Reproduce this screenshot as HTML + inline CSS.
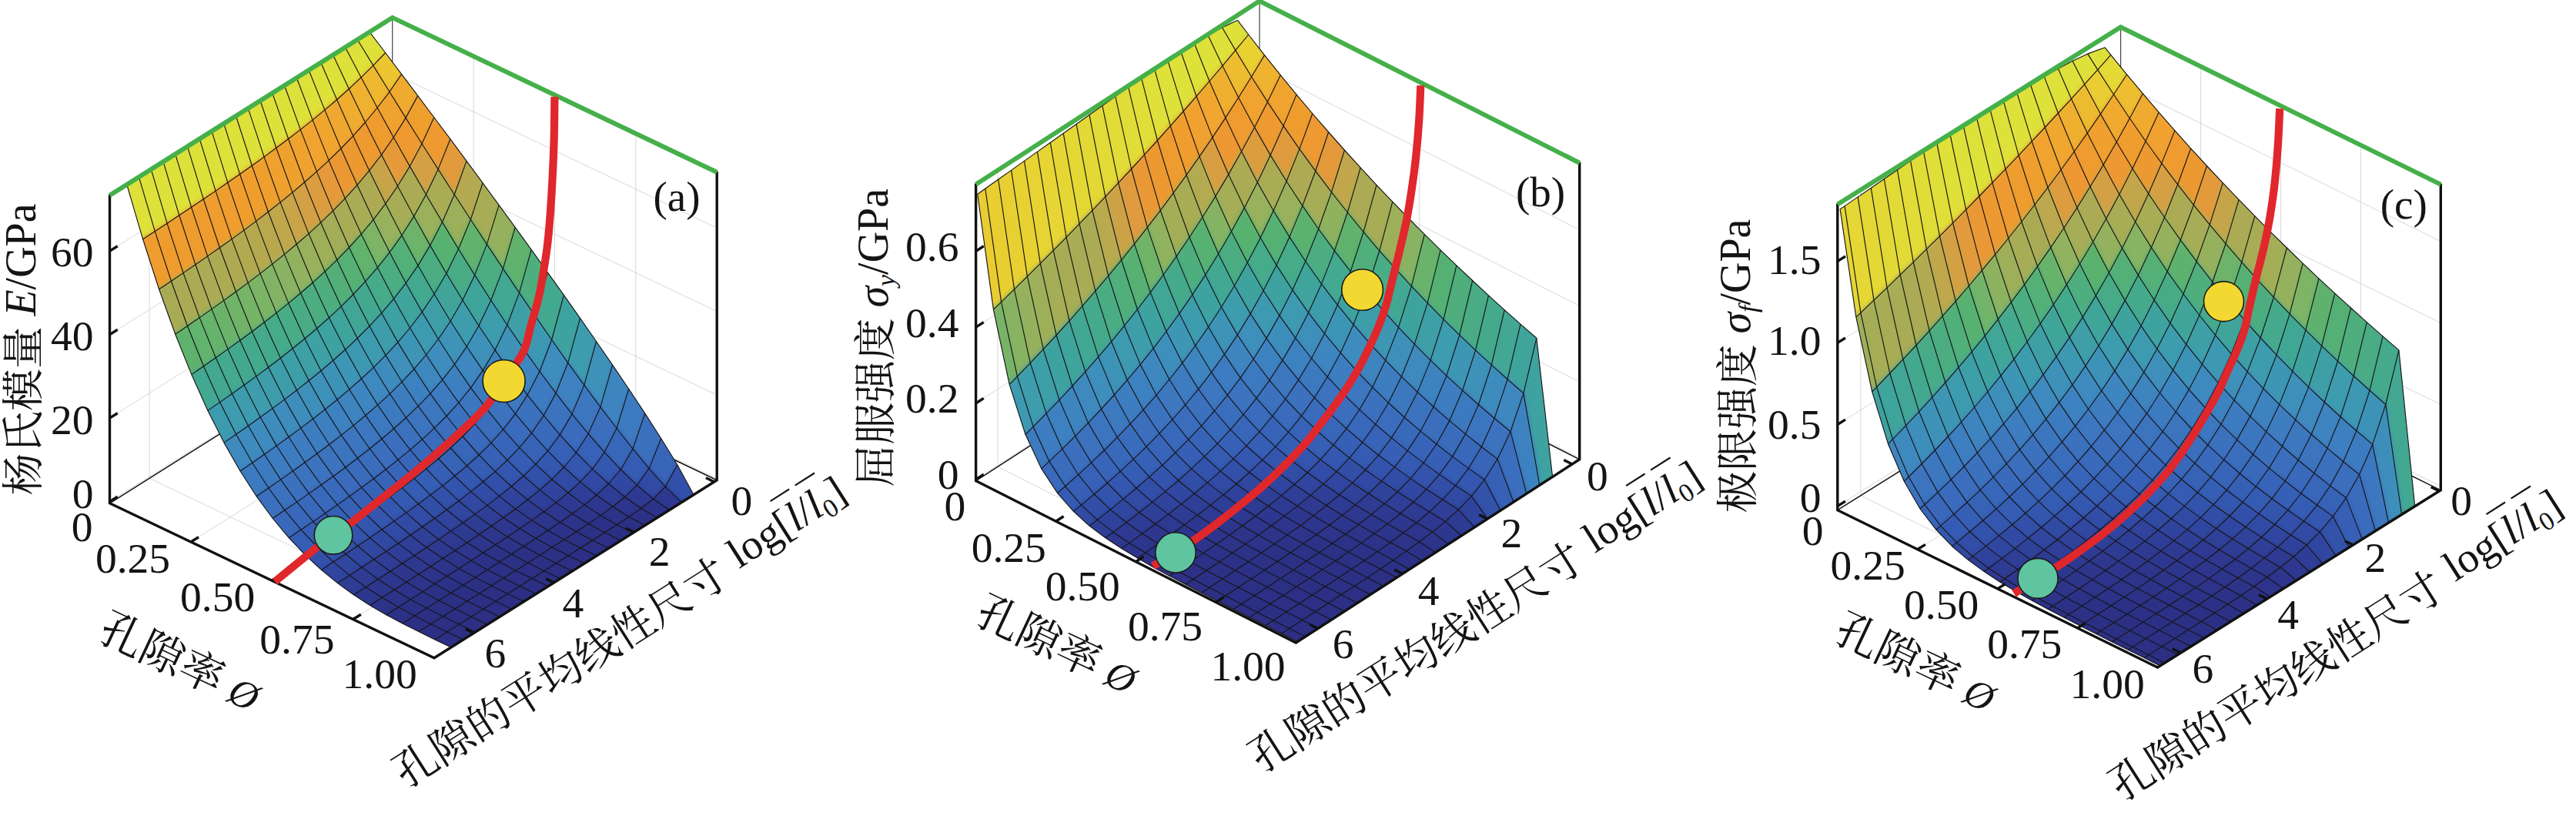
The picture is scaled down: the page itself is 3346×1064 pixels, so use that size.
<!DOCTYPE html>
<html lang="zh"><head><meta charset="utf-8"><title>figure</title>
<style>html,body{margin:0;padding:0;background:#fff;}body{width:3346px;height:1064px;overflow:hidden;}svg{display:block;}text{font-family:'Liberation Serif', 'Noto Serif CJK SC', serif;fill:#141414;}</style></head><body>
<svg width="3346" height="1064" viewBox="0 0 3346 1064">
<defs><filter id="soft" x="-5%" y="-5%" width="110%" height="110%" color-interpolation-filters="sRGB"><feGaussianBlur stdDeviation="2.6"/><feComponentTransfer><feFuncA type="linear" slope="4" intercept="0"/></feComponentTransfer></filter></defs>
<rect width="3346" height="1064" fill="#fff"/>
<g id="panel-a">
<g stroke="#d0d0d0" stroke-width="0.85" fill="none">
<polyline points="142.5,651.6 509.7,420.6 931.2,621.6"/>
<polyline points="142.5,543.1 509.7,312.1 931.2,513.1"/>
<polyline points="142.5,434.6 509.7,203.6 931.2,404.6"/>
<polyline points="142.5,326.1 509.7,95.1 931.2,296.1"/>
<polyline points="402.2,89.4 402.2,490.4 823.7,691.4"/>
<polyline points="298.1,154.9 298.1,555.9 719.6,756.9"/>
<polyline points="194,220.4 194,621.4 615.5,822.4"/>
<polyline points="615.1,72 615.1,473 247.9,704"/>
<polyline points="720.5,122.3 720.5,523.3 353.2,754.3"/>
<polyline points="825.8,172.5 825.8,573.5 458.6,804.5"/>
</g>
<line x1="509.7" y1="422.8" x2="509.7" y2="21.8" stroke="#444" stroke-width="1.2" />
<line x1="142.5" y1="653.8" x2="509.7" y2="422.8" stroke="#111" stroke-width="1.5" />
<line x1="509.7" y1="422.8" x2="931.2" y2="623.8" stroke="#111" stroke-width="1.5" />
<clipPath id="clip-a"><polygon points="164.5,239 180.2,229.1 196,219.1 211.8,209.2 227.5,199.3 243.2,189.4 259,179.5 274.8,169.6 290.5,159.7 306.2,149.8 322,139.9 337.8,130 353.5,120.1 369.2,110.2 385,100.2 400.8,90.3 416.5,80.4 432.2,70.5 448,60.6 463.8,50.7 479.5,40.8 500.6,68.5 521.6,96.4 542.7,124.4 563.8,152.5 584.9,180.7 606,209.1 627,237.7 648.1,266.4 669.2,295.3 690.2,324.4 711.3,353.8 732.4,383.4 753.5,413.3 774.5,443.5 795.6,474.2 816.7,505.3 837.8,537.1 858.8,569.8 879.9,604 901,642.8 885.2,652.7 869.5,662.6 853.8,672.5 838,682.4 822.2,692.3 806.5,702.2 790.8,712.2 775,722.1 759.2,732 743.5,741.9 727.8,751.8 712,761.7 696.2,771.6 680.5,781.5 664.8,791.4 649,801.3 633.2,811.2 617.5,821.1 601.8,831.1 586,841 564.9,830.9 543.8,820.6 522.8,810 501.7,798.7 480.6,786.4 459.5,772.8 438.5,757.6 417.4,740.4 396.3,720.9 375.2,698.7 354.2,673.5 333.1,644.7 312,612 291,575.1 269.9,533.4 248.8,486.6 227.7,434.2 206.6,375.8 185.6,310.8"/></clipPath>
<g clip-path="url(#clip-a)"><g filter="url(#soft)" stroke-width="3" stroke-linejoin="round">
<polygon points="479.5,40.8 500.6,68.5 484.8,85.1 463.8,50.7" fill="#dee13a" stroke="#dee13a"/>
<polygon points="463.8,50.7 484.8,85.1 469.1,100.7 448,60.6" fill="#dee13a" stroke="#dee13a"/>
<polygon points="500.6,68.5 521.6,96.4 505.9,119.3 484.8,85.1" fill="#ebc631" stroke="#ebc631"/>
<polygon points="448,60.6 469.1,100.7 453.3,115.5 432.2,70.5" fill="#dee13a" stroke="#dee13a"/>
<polygon points="484.8,85.1 505.9,119.3 490.1,140 469.1,100.7" fill="#eeb830" stroke="#eeb830"/>
<polygon points="521.6,96.4 542.7,124.4 527,153.1 505.9,119.3" fill="#efab2f" stroke="#efab2f"/>
<polygon points="432.2,70.5 453.3,115.5 437.6,129.5 416.5,80.4" fill="#dee13a" stroke="#dee13a"/>
<polygon points="469.1,100.7 490.1,140 474.4,159 453.3,115.5" fill="#efb130" stroke="#efb130"/>
<polygon points="505.9,119.3 527,153.1 511.2,178.5 490.1,140" fill="#f0a22f" stroke="#f0a22f"/>
<polygon points="542.7,124.4 563.8,152.5 548,186.7 527,153.1" fill="#ef9f2e" stroke="#ef9f2e"/>
<polygon points="416.5,80.4 437.6,129.5 421.8,142.9 400.8,90.3" fill="#dee13a" stroke="#dee13a"/>
<polygon points="453.3,115.5 474.4,159 458.6,176.6 437.6,129.5" fill="#efac2f" stroke="#efac2f"/>
<polygon points="490.1,140 511.2,178.5 495.5,201.1 474.4,159" fill="#ef9c2e" stroke="#ef9c2e"/>
<polygon points="527,153.1 548,186.7 532.3,216.1 511.2,178.5" fill="#ee9a30" stroke="#ee9a30"/>
<polygon points="563.8,152.5 584.9,180.7 569.1,219.9 548,186.7" fill="#ee9a30" stroke="#ee9a30"/>
<polygon points="400.8,90.3 421.8,142.9 406.1,155.9 385,100.2" fill="#dee13a" stroke="#dee13a"/>
<polygon points="437.6,129.5 458.6,176.6 442.9,193 421.8,142.9" fill="#f0a72f" stroke="#f0a72f"/>
<polygon points="474.4,159 495.5,201.1 479.7,221.7 458.6,176.6" fill="#ee9a30" stroke="#ee9a30"/>
<polygon points="511.2,178.5 532.3,216.1 516.5,241.8 495.5,201.1" fill="#e69939" stroke="#e69939"/>
<polygon points="548,186.7 569.1,219.9 553.4,252.8 532.3,216.1" fill="#d5a043" stroke="#d5a043"/>
<polygon points="584.9,180.7 606,209.1 590.2,252.7 569.1,219.9" fill="#e29a3c" stroke="#e29a3c"/>
<polygon points="385,100.2 406.1,155.9 390.3,168.4 369.2,110.2" fill="#dee13a" stroke="#dee13a"/>
<polygon points="421.8,142.9 442.9,193 427.1,208.4 406.1,155.9" fill="#f0a52f" stroke="#f0a52f"/>
<polygon points="458.6,176.6 479.7,221.7 464,240.4 442.9,193" fill="#ed9931" stroke="#ed9931"/>
<polygon points="495.5,201.1 516.5,241.8 500.8,264.7 479.7,221.7" fill="#c7a449" stroke="#c7a449"/>
<polygon points="532.3,216.1 553.4,252.8 537.6,281.1 516.5,241.8" fill="#aaab54" stroke="#aaab54"/>
<polygon points="569.1,219.9 590.2,252.7 574.5,288.6 553.4,252.8" fill="#a9ac55" stroke="#a9ac55"/>
<polygon points="606,209.1 627,237.7 611.3,285.3 590.2,252.7" fill="#b4a951" stroke="#b4a951"/>
<polygon points="369.2,110.2 390.3,168.4 374.6,180.5 353.5,120.1" fill="#dee13a" stroke="#dee13a"/>
<polygon points="406.1,155.9 427.1,208.4 411.4,222.9 390.3,168.4" fill="#f0a32f" stroke="#f0a32f"/>
<polygon points="442.9,193 464,240.4 448.2,257.8 427.1,208.4" fill="#eb9834" stroke="#eb9834"/>
<polygon points="479.7,221.7 500.8,264.7 485,285.4 464,240.4" fill="#aeaa53" stroke="#aeaa53"/>
<polygon points="516.5,241.8 537.6,281.1 521.9,305.8 500.8,264.7" fill="#a6ad56" stroke="#a6ad56"/>
<polygon points="553.4,252.8 574.5,288.6 558.7,318.9 537.6,281.1" fill="#9bb05b" stroke="#9bb05b"/>
<polygon points="590.2,252.7 611.3,285.3 595.5,323.5 574.5,288.6" fill="#9bb05b" stroke="#9bb05b"/>
<polygon points="627,237.7 648.1,266.4 632.4,317.4 611.3,285.3" fill="#a7ac55" stroke="#a7ac55"/>
<polygon points="353.5,120.1 374.6,180.5 358.8,192.3 337.8,130" fill="#dee13a" stroke="#dee13a"/>
<polygon points="390.3,168.4 411.4,222.9 395.6,236.8 374.6,180.5" fill="#f0a22f" stroke="#f0a22f"/>
<polygon points="427.1,208.4 448.2,257.8 432.5,273.9 411.4,222.9" fill="#e5993a" stroke="#e5993a"/>
<polygon points="464,240.4 485,285.4 469.3,304.2 448.2,257.8" fill="#a9ac55" stroke="#a9ac55"/>
<polygon points="500.8,264.7 521.9,305.8 506.1,327.8 485,285.4" fill="#98b15c" stroke="#98b15c"/>
<polygon points="537.6,281.1 558.7,318.9 543,344.9 521.9,305.8" fill="#6db36a" stroke="#6db36a"/>
<polygon points="574.5,288.6 595.5,323.5 579.8,355.2 558.7,318.9" fill="#57b270" stroke="#57b270"/>
<polygon points="611.3,285.3 632.4,317.4 616.6,357.4 595.5,323.5" fill="#60b26d" stroke="#60b26d"/>
<polygon points="648.1,266.4 669.2,295.3 653.4,349.1 632.4,317.4" fill="#96b15d" stroke="#96b15d"/>
<polygon points="337.8,130 358.8,192.3 343.1,203.9 322,139.9" fill="#dee13a" stroke="#dee13a"/>
<polygon points="374.6,180.5 395.6,236.8 379.9,250.1 358.8,192.3" fill="#efa12e" stroke="#efa12e"/>
<polygon points="411.4,222.9 432.5,273.9 416.7,289.2 395.6,236.8" fill="#dc9d40" stroke="#dc9d40"/>
<polygon points="448.2,257.8 469.3,304.2 453.5,321.5 432.5,273.9" fill="#a7ac55" stroke="#a7ac55"/>
<polygon points="485,285.4 506.1,327.8 490.4,347.6 469.3,304.2" fill="#7eb466" stroke="#7eb466"/>
<polygon points="521.9,305.8 543,344.9 527.2,367.8 506.1,327.8" fill="#53b076" stroke="#53b076"/>
<polygon points="558.7,318.9 579.8,355.2 564,382 543,344.9" fill="#4bad81" stroke="#4bad81"/>
<polygon points="595.5,323.5 616.6,357.4 600.9,390 579.8,355.2" fill="#49ac85" stroke="#49ac85"/>
<polygon points="632.4,317.4 653.4,349.1 637.7,390.3 616.6,357.4" fill="#4cad80" stroke="#4cad80"/>
<polygon points="669.2,295.3 690.2,324.4 674.5,380.4 653.4,349.1" fill="#60b26d" stroke="#60b26d"/>
<polygon points="322,139.9 343.1,203.9 327.3,215.2 306.2,149.8" fill="#dee13a" stroke="#dee13a"/>
<polygon points="358.8,192.3 379.9,250.1 364.1,262.9 343.1,203.9" fill="#efa02e" stroke="#efa02e"/>
<polygon points="395.6,236.8 416.7,289.2 401,303.6 379.9,250.1" fill="#d3a045" stroke="#d3a045"/>
<polygon points="432.5,273.9 453.5,321.5 437.8,337.7 416.7,289.2" fill="#a4ad57" stroke="#a4ad57"/>
<polygon points="469.3,304.2 490.4,347.6 474.6,365.7 453.5,321.5" fill="#61b36d" stroke="#61b36d"/>
<polygon points="506.1,327.8 527.2,367.8 511.5,388.2 490.4,347.6" fill="#4cad81" stroke="#4cad81"/>
<polygon points="543,344.9 564,382 548.3,405.4 527.2,367.8" fill="#43a98f" stroke="#43a98f"/>
<polygon points="579.8,355.2 600.9,390 585.1,417.2 564,382" fill="#40a598" stroke="#40a598"/>
<polygon points="616.6,357.4 637.7,390.3 621.9,423.2 600.9,390" fill="#3fa49a" stroke="#3fa49a"/>
<polygon points="653.4,349.1 674.5,380.4 658.8,422.2 637.7,390.3" fill="#42a793" stroke="#42a793"/>
<polygon points="690.2,324.4 711.3,353.8 695.6,411.2 674.5,380.4" fill="#4eae7d" stroke="#4eae7d"/>
<polygon points="306.2,149.8 327.3,215.2 311.6,226.3 290.5,159.7" fill="#dee13a" stroke="#dee13a"/>
<polygon points="343.1,203.9 364.1,262.9 348.4,275.3 327.3,215.2" fill="#ef9f2e" stroke="#ef9f2e"/>
<polygon points="379.9,250.1 401,303.6 385.2,317.3 364.1,262.9" fill="#c9a449" stroke="#c9a449"/>
<polygon points="416.7,289.2 437.8,337.7 422,352.8 401,303.6" fill="#9eaf59" stroke="#9eaf59"/>
<polygon points="453.5,321.5 474.6,365.7 458.9,382.5 437.8,337.7" fill="#55b173" stroke="#55b173"/>
<polygon points="490.4,347.6 511.5,388.2 495.7,406.7 474.6,365.7" fill="#46ab89" stroke="#46ab89"/>
<polygon points="527.2,367.8 548.3,405.4 532.5,426 511.5,388.2" fill="#3fa49b" stroke="#3fa49b"/>
<polygon points="564,382 585.1,417.2 569.4,440.5 548.3,405.4" fill="#3e9fa6" stroke="#3e9fa6"/>
<polygon points="600.9,390 621.9,423.2 606.2,450.3 585.1,417.2" fill="#3d9dac" stroke="#3d9dac"/>
<polygon points="637.7,390.3 658.8,422.2 643,454.8 621.9,423.2" fill="#3d9dac" stroke="#3d9dac"/>
<polygon points="674.5,380.4 695.6,411.2 679.8,452.9 658.8,422.2" fill="#3ea0a4" stroke="#3ea0a4"/>
<polygon points="711.3,353.8 732.4,383.4 716.6,441.5 695.6,411.2" fill="#43a98e" stroke="#43a98e"/>
<polygon points="290.5,159.7 311.6,226.3 295.8,237.3 274.8,169.6" fill="#dee13a" stroke="#dee13a"/>
<polygon points="327.3,215.2 348.4,275.3 332.6,287.4 311.6,226.3" fill="#ef9e2e" stroke="#ef9e2e"/>
<polygon points="364.1,262.9 385.2,317.3 369.5,330.4 348.4,275.3" fill="#c0a74c" stroke="#c0a74c"/>
<polygon points="401,303.6 422,352.8 406.3,367.2 385.2,317.3" fill="#99b15c" stroke="#99b15c"/>
<polygon points="437.8,337.7 458.9,382.5 443.1,398.1 422,352.8" fill="#52af78" stroke="#52af78"/>
<polygon points="474.6,365.7 495.7,406.7 480,423.7 458.9,382.5" fill="#43a890" stroke="#43a890"/>
<polygon points="511.5,388.2 532.5,426 516.8,444.6 495.7,406.7" fill="#3ea1a3" stroke="#3ea1a3"/>
<polygon points="548.3,405.4 569.4,440.5 553.6,461 532.5,426" fill="#3d9bb0" stroke="#3d9bb0"/>
<polygon points="585.1,417.2 606.2,450.3 590.4,473.3 569.4,440.5" fill="#3d94b6" stroke="#3d94b6"/>
<polygon points="621.9,423.2 643,454.8 627.2,481.4 606.2,450.3" fill="#3e91b9" stroke="#3e91b9"/>
<polygon points="658.8,422.2 679.8,452.9 664.1,484.9 643,454.8" fill="#3e92b8" stroke="#3e92b8"/>
<polygon points="695.6,411.2 716.6,441.5 700.9,482.5 679.8,452.9" fill="#3d98b3" stroke="#3d98b3"/>
<polygon points="732.4,383.4 753.5,413.3 737.7,471.3 716.6,441.5" fill="#3ea39f" stroke="#3ea39f"/>
<polygon points="274.8,169.6 295.8,237.3 280.1,248.1 259,179.5" fill="#dee13a" stroke="#dee13a"/>
<polygon points="311.6,226.3 332.6,287.4 316.9,299.1 295.8,237.3" fill="#ef9e2e" stroke="#ef9e2e"/>
<polygon points="348.4,275.3 369.5,330.4 353.7,343.1 332.6,287.4" fill="#baa84f" stroke="#baa84f"/>
<polygon points="385.2,317.3 406.3,367.2 390.5,380.8 369.5,330.4" fill="#91b25f" stroke="#91b25f"/>
<polygon points="422,352.8 443.1,398.1 427.4,412.8 406.3,367.2" fill="#4eae7d" stroke="#4eae7d"/>
<polygon points="458.9,382.5 480,423.7 464.2,439.5 443.1,398.1" fill="#41a696" stroke="#41a696"/>
<polygon points="495.7,406.7 516.8,444.6 501,461.6 480,423.7" fill="#3d9eaa" stroke="#3d9eaa"/>
<polygon points="532.5,426 553.6,461 537.9,479.4 516.8,444.6" fill="#3d95b5" stroke="#3d95b5"/>
<polygon points="569.4,440.5 590.4,473.3 574.7,493.4 553.6,461" fill="#3e8dbc" stroke="#3e8dbc"/>
<polygon points="606.2,450.3 627.2,481.4 611.5,503.8 590.4,473.3" fill="#3e87bf" stroke="#3e87bf"/>
<polygon points="643,454.8 664.1,484.9 648.3,510.5 627.2,481.4" fill="#3e85bf" stroke="#3e85bf"/>
<polygon points="679.8,452.9 700.9,482.5 685.1,513.2 664.1,484.9" fill="#3e86bf" stroke="#3e86bf"/>
<polygon points="716.6,441.5 737.7,471.3 722,510.9 700.9,482.5" fill="#3e8dbd" stroke="#3e8dbd"/>
<polygon points="753.5,413.3 774.5,443.5 758.8,500.4 737.7,471.3" fill="#3d9cae" stroke="#3d9cae"/>
<polygon points="259,179.5 280.1,248.1 264.3,258.7 243.2,189.4" fill="#dee13a" stroke="#dee13a"/>
<polygon points="295.8,237.3 316.9,299.1 301.1,310.6 280.1,248.1" fill="#ef9d2e" stroke="#ef9d2e"/>
<polygon points="332.6,287.4 353.7,343.1 338,355.4 316.9,299.1" fill="#b5a950" stroke="#b5a950"/>
<polygon points="369.5,330.4 390.5,380.8 374.8,393.9 353.7,343.1" fill="#89b362" stroke="#89b362"/>
<polygon points="406.3,367.2 427.4,412.8 411.6,426.7 390.5,380.8" fill="#4cad81" stroke="#4cad81"/>
<polygon points="443.1,398.1 464.2,439.5 448.5,454.3 427.4,412.8" fill="#3fa49c" stroke="#3fa49c"/>
<polygon points="480,423.7 501,461.6 485.3,477.3 464.2,439.5" fill="#3d9baf" stroke="#3d9baf"/>
<polygon points="516.8,444.6 537.9,479.4 522.1,496.2 501,461.6" fill="#3e90ba" stroke="#3e90ba"/>
<polygon points="553.6,461 574.7,493.4 558.9,511.3 537.9,479.4" fill="#3e87bf" stroke="#3e87bf"/>
<polygon points="590.4,473.3 611.5,503.8 595.8,523.2 574.7,493.4" fill="#3d80c0" stroke="#3d80c0"/>
<polygon points="627.2,481.4 648.3,510.5 632.6,531.9 611.5,503.8" fill="#3d7bc0" stroke="#3d7bc0"/>
<polygon points="664.1,484.9 685.1,513.2 669.4,537.6 648.3,510.5" fill="#3d7abf" stroke="#3d7abf"/>
<polygon points="700.9,482.5 722,510.9 706.2,539.9 685.1,513.2" fill="#3d7bc0" stroke="#3d7bc0"/>
<polygon points="737.7,471.3 758.8,500.4 743,537.9 722,510.9" fill="#3d81c0" stroke="#3d81c0"/>
<polygon points="774.5,443.5 795.6,474.2 779.9,528.8 758.8,500.4" fill="#3e91b9" stroke="#3e91b9"/>
<polygon points="243.2,189.4 264.3,258.7 248.6,269.3 227.5,199.3" fill="#dee13a" stroke="#dee13a"/>
<polygon points="280.1,248.1 301.1,310.6 285.4,321.8 264.3,258.7" fill="#ef9d2e" stroke="#ef9d2e"/>
<polygon points="316.9,299.1 338,355.4 322.2,367.4 301.1,310.6" fill="#b2aa51" stroke="#b2aa51"/>
<polygon points="353.7,343.1 374.8,393.9 359,406.6 338,355.4" fill="#82b364" stroke="#82b364"/>
<polygon points="390.5,380.8 411.6,426.7 395.9,440 374.8,393.9" fill="#4aac84" stroke="#4aac84"/>
<polygon points="427.4,412.8 448.5,454.3 432.7,468.3 411.6,426.7" fill="#3ea2a0" stroke="#3ea2a0"/>
<polygon points="464.2,439.5 485.3,477.3 469.5,492 448.5,454.3" fill="#3d98b2" stroke="#3d98b2"/>
<polygon points="501,461.6 522.1,496.2 506.4,511.6 485.3,477.3" fill="#3e8cbd" stroke="#3e8cbd"/>
<polygon points="537.9,479.4 558.9,511.3 543.2,527.7 522.1,496.2" fill="#3d82c0" stroke="#3d82c0"/>
<polygon points="574.7,493.4 595.8,523.2 580,540.5 558.9,511.3" fill="#3d7ac0" stroke="#3d7ac0"/>
<polygon points="611.5,503.8 632.6,531.9 616.8,550.5 595.8,523.2" fill="#3c76bf" stroke="#3c76bf"/>
<polygon points="648.3,510.5 669.4,537.6 653.6,557.9 632.6,531.9" fill="#3c73be" stroke="#3c73be"/>
<polygon points="685.1,513.2 706.2,539.9 690.5,562.7 669.4,537.6" fill="#3c71be" stroke="#3c71be"/>
<polygon points="722,510.9 743,537.9 727.3,564.9 706.2,539.9" fill="#3c73be" stroke="#3c73be"/>
<polygon points="758.8,500.4 779.9,528.8 764.1,563.5 743,537.9" fill="#3c77bf" stroke="#3c77bf"/>
<polygon points="795.6,474.2 816.7,505.3 801,556.5 779.9,528.8" fill="#3e85bf" stroke="#3e85bf"/>
<polygon points="227.5,199.3 248.6,269.3 232.8,279.8 211.8,209.2" fill="#dee13a" stroke="#dee13a"/>
<polygon points="264.3,258.7 285.4,321.8 269.6,332.9 248.6,269.3" fill="#ef9c2e" stroke="#ef9c2e"/>
<polygon points="301.1,310.6 322.2,367.4 306.5,379 285.4,321.8" fill="#aeaa53" stroke="#aeaa53"/>
<polygon points="338,355.4 359,406.6 343.3,418.8 322.2,367.4" fill="#7cb466" stroke="#7cb466"/>
<polygon points="374.8,393.9 395.9,440 380.1,452.8 359,406.6" fill="#48ac86" stroke="#48ac86"/>
<polygon points="411.6,426.7 432.7,468.3 417,481.7 395.9,440" fill="#3ea1a3" stroke="#3ea1a3"/>
<polygon points="448.5,454.3 469.5,492 453.8,505.9 432.7,468.3" fill="#3d96b5" stroke="#3d96b5"/>
<polygon points="485.3,477.3 506.4,511.6 490.6,526.1 469.5,492" fill="#3e89bf" stroke="#3e89bf"/>
<polygon points="522.1,496.2 543.2,527.7 527.4,542.7 506.4,511.6" fill="#3d7ec0" stroke="#3d7ec0"/>
<polygon points="558.9,511.3 580,540.5 564.2,556.2 543.2,527.7" fill="#3c77bf" stroke="#3c77bf"/>
<polygon points="595.8,523.2 616.8,550.5 601.1,567 580,540.5" fill="#3c71be" stroke="#3c71be"/>
<polygon points="632.6,531.9 653.6,557.9 637.9,575.4 616.8,550.5" fill="#3a6dbc" stroke="#3a6dbc"/>
<polygon points="669.4,537.6 690.5,562.7 674.7,581.6 653.6,557.9" fill="#3a6bbc" stroke="#3a6bbc"/>
<polygon points="706.2,539.9 727.3,564.9 711.5,585.9 690.5,562.7" fill="#396abb" stroke="#396abb"/>
<polygon points="743,537.9 764.1,563.5 748.4,588 727.3,564.9" fill="#3a6bbc" stroke="#3a6bbc"/>
<polygon points="779.9,528.8 801,556.5 785.2,587.6 764.1,563.5" fill="#3b6fbd" stroke="#3b6fbd"/>
<polygon points="816.7,505.3 837.8,537.1 822,583.1 801,556.5" fill="#3d7abf" stroke="#3d7abf"/>
<polygon points="211.8,209.2 232.8,279.8 217.1,290.2 196,219.1" fill="#dee13a" stroke="#dee13a"/>
<polygon points="248.6,269.3 269.6,332.9 253.9,343.8 232.8,279.8" fill="#ef9c2e" stroke="#ef9c2e"/>
<polygon points="285.4,321.8 306.5,379 290.7,390.4 269.6,332.9" fill="#acab53" stroke="#acab53"/>
<polygon points="322.2,367.4 343.3,418.8 327.5,430.7 306.5,379" fill="#76b468" stroke="#76b468"/>
<polygon points="359,406.6 380.1,452.8 364.4,465.2 343.3,418.8" fill="#46ab89" stroke="#46ab89"/>
<polygon points="395.9,440 417,481.7 401.2,494.5 380.1,452.8" fill="#3ea0a5" stroke="#3ea0a5"/>
<polygon points="432.7,468.3 453.8,505.9 438,519.2 417,481.7" fill="#3d93b7" stroke="#3d93b7"/>
<polygon points="469.5,492 490.6,526.1 474.9,539.8 453.8,505.9" fill="#3e86bf" stroke="#3e86bf"/>
<polygon points="506.4,511.6 527.4,542.7 511.7,556.8 490.6,526.1" fill="#3d7bc0" stroke="#3d7bc0"/>
<polygon points="543.2,527.7 564.2,556.2 548.5,570.8 527.4,542.7" fill="#3c74be" stroke="#3c74be"/>
<polygon points="580,540.5 601.1,567 585.3,582 564.2,556.2" fill="#3b6ebd" stroke="#3b6ebd"/>
<polygon points="616.8,550.5 637.9,575.4 622.1,591 601.1,567" fill="#396abb" stroke="#396abb"/>
<polygon points="653.6,557.9 674.7,581.6 659,597.9 637.9,575.4" fill="#3865b9" stroke="#3865b9"/>
<polygon points="690.5,562.7 711.5,585.9 695.8,603.2 674.7,581.6" fill="#3763b7" stroke="#3763b7"/>
<polygon points="727.3,564.9 748.4,588 732.6,607 711.5,585.9" fill="#3661b7" stroke="#3661b7"/>
<polygon points="764.1,563.5 785.2,587.6 769.5,609.3 748.4,588" fill="#3762b7" stroke="#3762b7"/>
<polygon points="801,556.5 822,583.1 806.3,610 785.2,587.6" fill="#3867ba" stroke="#3867ba"/>
<polygon points="837.8,537.1 858.8,569.8 843.1,608.6 822,583.1" fill="#3b70bd" stroke="#3b70bd"/>
<polygon points="196,219.1 217.1,290.2 201.3,300.6 180.2,229.1" fill="#dee13a" stroke="#dee13a"/>
<polygon points="232.8,279.8 253.9,343.8 238.1,354.6 217.1,290.2" fill="#ef9c2e" stroke="#ef9c2e"/>
<polygon points="269.6,332.9 290.7,390.4 275,401.6 253.9,343.8" fill="#aaab54" stroke="#aaab54"/>
<polygon points="306.5,379 327.5,430.7 311.8,442.3 290.7,390.4" fill="#70b369" stroke="#70b369"/>
<polygon points="343.3,418.8 364.4,465.2 348.6,477.2 327.5,430.7" fill="#45aa8b" stroke="#45aa8b"/>
<polygon points="380.1,452.8 401.2,494.5 385.5,506.9 364.4,465.2" fill="#3d9fa7" stroke="#3d9fa7"/>
<polygon points="417,481.7 438,519.2 422.3,531.9 401.2,494.5" fill="#3e91b8" stroke="#3e91b8"/>
<polygon points="453.8,505.9 474.9,539.8 459.1,552.9 438,519.2" fill="#3e84bf" stroke="#3e84bf"/>
<polygon points="490.6,526.1 511.7,556.8 495.9,570.2 474.9,539.8" fill="#3d79bf" stroke="#3d79bf"/>
<polygon points="527.4,542.7 548.5,570.8 532.8,584.4 511.7,556.8" fill="#3c71be" stroke="#3c71be"/>
<polygon points="564.2,556.2 585.3,582 569.6,596 548.5,570.8" fill="#3a6bbc" stroke="#3a6bbc"/>
<polygon points="601.1,567 622.1,591 606.4,605.2 585.3,582" fill="#3866b9" stroke="#3866b9"/>
<polygon points="637.9,575.4 659,597.9 643.2,612.6 622.1,591" fill="#3661b6" stroke="#3661b6"/>
<polygon points="674.7,581.6 695.8,603.2 680,618.3 659,597.9" fill="#355db4" stroke="#355db4"/>
<polygon points="711.5,585.9 732.6,607 716.9,622.7 695.8,603.2" fill="#3458b0" stroke="#3458b0"/>
<polygon points="748.4,588 769.5,609.3 753.7,626.1 732.6,607" fill="#3456ae" stroke="#3456ae"/>
<polygon points="785.2,587.6 806.3,610 790.5,628.5 769.5,609.3" fill="#3457af" stroke="#3457af"/>
<polygon points="822,583.1 843.1,608.6 827.3,630.4 806.3,610" fill="#355cb3" stroke="#355cb3"/>
<polygon points="858.8,569.8 879.9,604 864.2,632.4 843.1,608.6" fill="#3865b8" stroke="#3865b8"/>
<polygon points="180.2,229.1 201.3,300.6 185.6,310.8 164.5,239" fill="#dee13a" stroke="#dee13a"/>
<polygon points="217.1,290.2 238.1,354.6 222.4,365.2 201.3,300.6" fill="#ef9c2e" stroke="#ef9c2e"/>
<polygon points="253.9,343.8 275,401.6 259.2,412.6 238.1,354.6" fill="#aaab54" stroke="#aaab54"/>
<polygon points="290.7,390.4 311.8,442.3 296,453.6 275,401.6" fill="#6bb36b" stroke="#6bb36b"/>
<polygon points="327.5,430.7 348.6,477.2 332.9,488.9 311.8,442.3" fill="#44aa8c" stroke="#44aa8c"/>
<polygon points="364.4,465.2 385.5,506.9 369.7,518.9 348.6,477.2" fill="#3d9ea9" stroke="#3d9ea9"/>
<polygon points="401.2,494.5 422.3,531.9 406.5,544.2 385.5,506.9" fill="#3e90ba" stroke="#3e90ba"/>
<polygon points="438,519.2 459.1,552.9 443.4,565.4 422.3,531.9" fill="#3d82c0" stroke="#3d82c0"/>
<polygon points="474.9,539.8 495.9,570.2 480.2,583 459.1,552.9" fill="#3c77bf" stroke="#3c77bf"/>
<polygon points="511.7,556.8 532.8,584.4 517,597.4 495.9,570.2" fill="#3b6fbd" stroke="#3b6fbd"/>
<polygon points="548.5,570.8 569.6,596 553.8,609.1 532.8,584.4" fill="#3969bb" stroke="#3969bb"/>
<polygon points="585.3,582 606.4,605.2 590.6,618.5 569.6,596" fill="#3763b7" stroke="#3763b7"/>
<polygon points="622.1,591 643.2,612.6 627.5,626 606.4,605.2" fill="#355db4" stroke="#355db4"/>
<polygon points="659,597.9 680,618.3 664.3,632 643.2,612.6" fill="#3356ae" stroke="#3356ae"/>
<polygon points="695.8,603.2 716.9,622.7 701.1,636.6 680,618.3" fill="#3250a9" stroke="#3250a9"/>
<polygon points="732.6,607 753.7,626.1 738,640.3 716.9,622.7" fill="#314ba5" stroke="#314ba5"/>
<polygon points="769.5,609.3 790.5,628.5 774.8,643.2 753.7,626.1" fill="#3149a2" stroke="#3149a2"/>
<polygon points="806.3,610 827.3,630.4 811.6,645.7 790.5,628.5" fill="#3148a2" stroke="#3148a2"/>
<polygon points="843.1,608.6 864.2,632.4 848.4,648.3 827.3,630.4" fill="#314aa4" stroke="#314aa4"/>
<polygon points="879.9,604 901,642.8 885.2,652.7 864.2,632.4" fill="#3250a9" stroke="#3250a9"/>
<polygon points="201.3,300.6 222.4,365.2 206.6,375.8 185.6,310.8" fill="#ef9c2e" stroke="#ef9c2e"/>
<polygon points="238.1,354.6 259.2,412.6 243.5,423.5 222.4,365.2" fill="#aaab54" stroke="#aaab54"/>
<polygon points="275,401.6 296,453.6 280.3,464.8 259.2,412.6" fill="#66b36c" stroke="#66b36c"/>
<polygon points="311.8,442.3 332.9,488.9 317.1,500.3 296,453.6" fill="#43a98e" stroke="#43a98e"/>
<polygon points="348.6,477.2 369.7,518.9 354,530.6 332.9,488.9" fill="#3d9dab" stroke="#3d9dab"/>
<polygon points="385.5,506.9 406.5,544.2 390.8,556.1 369.7,518.9" fill="#3e8ebb" stroke="#3e8ebb"/>
<polygon points="422.3,531.9 443.4,565.4 427.6,577.5 406.5,544.2" fill="#3d80c0" stroke="#3d80c0"/>
<polygon points="459.1,552.9 480.2,583 464.4,595.3 443.4,565.4" fill="#3c76bf" stroke="#3c76bf"/>
<polygon points="495.9,570.2 517,597.4 501.2,609.8 480.2,583" fill="#3b6ebd" stroke="#3b6ebd"/>
<polygon points="532.8,584.4 553.8,609.1 538.1,621.6 517,597.4" fill="#3867ba" stroke="#3867ba"/>
<polygon points="569.6,596 590.6,618.5 574.9,631.1 553.8,609.1" fill="#3660b6" stroke="#3660b6"/>
<polygon points="606.4,605.2 627.5,626 611.7,638.6 590.6,618.5" fill="#3459b0" stroke="#3459b0"/>
<polygon points="643.2,612.6 664.3,632 648.5,644.6 627.5,626" fill="#3250a9" stroke="#3250a9"/>
<polygon points="680,618.3 701.1,636.6 685.4,649.3 664.3,632" fill="#3149a3" stroke="#3149a3"/>
<polygon points="716.9,622.7 738,640.3 722.2,652.9 701.1,636.6" fill="#30449d" stroke="#30449d"/>
<polygon points="753.7,626.1 774.8,643.2 759,655.9 738,640.3" fill="#2f3f98" stroke="#2f3f98"/>
<polygon points="790.5,628.5 811.6,645.7 795.8,658.3 774.8,643.2" fill="#2e3c95" stroke="#2e3c95"/>
<polygon points="827.3,630.4 848.4,648.3 832.7,660.5 811.6,645.7" fill="#2e3a92" stroke="#2e3a92"/>
<polygon points="864.2,632.4 885.2,652.7 869.5,662.6 848.4,648.3" fill="#2e3890" stroke="#2e3890"/>
<polygon points="222.4,365.2 243.5,423.5 227.7,434.2 206.6,375.8" fill="#a9ab54" stroke="#a9ab54"/>
<polygon points="259.2,412.6 280.3,464.8 264.5,475.8 243.5,423.5" fill="#62b36d" stroke="#62b36d"/>
<polygon points="296,453.6 317.1,500.3 301.4,511.5 280.3,464.8" fill="#43a98f" stroke="#43a98f"/>
<polygon points="332.9,488.9 354,530.6 338.2,542 317.1,500.3" fill="#3d9dac" stroke="#3d9dac"/>
<polygon points="369.7,518.9 390.8,556.1 375,567.8 354,530.6" fill="#3e8dbc" stroke="#3e8dbc"/>
<polygon points="406.5,544.2 427.6,577.5 411.9,589.3 390.8,556.1" fill="#3d7ec0" stroke="#3d7ec0"/>
<polygon points="443.4,565.4 464.4,595.3 448.7,607.2 427.6,577.5" fill="#3c74be" stroke="#3c74be"/>
<polygon points="480.2,583 501.2,609.8 485.5,621.8 464.4,595.3" fill="#3a6dbc" stroke="#3a6dbc"/>
<polygon points="517,597.4 538.1,621.6 522.3,633.6 501.2,609.8" fill="#3865b9" stroke="#3865b9"/>
<polygon points="553.8,609.1 574.9,631.1 559.1,643.1 538.1,621.6" fill="#355eb5" stroke="#355eb5"/>
<polygon points="590.6,618.5 611.7,638.6 596,650.7 574.9,631.1" fill="#3355ad" stroke="#3355ad"/>
<polygon points="627.5,626 648.5,644.6 632.8,656.6 611.7,638.6" fill="#314ca6" stroke="#314ca6"/>
<polygon points="664.3,632 685.4,649.3 669.6,661.2 648.5,644.6" fill="#30449e" stroke="#30449e"/>
<polygon points="701.1,636.6 722.2,652.9 706.5,664.7 685.4,649.3" fill="#2f3e97" stroke="#2f3e97"/>
<polygon points="738,640.3 759,655.9 743.3,667.5 722.2,652.9" fill="#2e3a92" stroke="#2e3a92"/>
<polygon points="774.8,643.2 795.8,658.3 780.1,669.6 759,655.9" fill="#2e378f" stroke="#2e378f"/>
<polygon points="811.6,645.7 832.7,660.5 816.9,671.4 795.8,658.3" fill="#2d358c" stroke="#2d358c"/>
<polygon points="848.4,648.3 869.5,662.6 853.8,672.5 832.7,660.5" fill="#2d3389" stroke="#2d3389"/>
<polygon points="243.5,423.5 264.5,475.8 248.8,486.6 227.7,434.2" fill="#5fb26d" stroke="#5fb26d"/>
<polygon points="280.3,464.8 301.4,511.5 285.6,522.6 264.5,475.8" fill="#43a890" stroke="#43a890"/>
<polygon points="317.1,500.3 338.2,542 322.5,553.2 301.4,511.5" fill="#3d9cad" stroke="#3d9cad"/>
<polygon points="354,530.6 375,567.8 359.3,579.1 338.2,542" fill="#3e8cbd" stroke="#3e8cbd"/>
<polygon points="390.8,556.1 411.9,589.3 396.1,600.8 375,567.8" fill="#3d7dc0" stroke="#3d7dc0"/>
<polygon points="427.6,577.5 448.7,607.2 432.9,618.7 411.9,589.3" fill="#3c73be" stroke="#3c73be"/>
<polygon points="464.4,595.3 485.5,621.8 469.8,633.4 448.7,607.2" fill="#3a6cbc" stroke="#3a6cbc"/>
<polygon points="501.2,609.8 522.3,633.6 506.6,645.3 485.5,621.8" fill="#3764b8" stroke="#3764b8"/>
<polygon points="538.1,621.6 559.1,643.1 543.4,654.8 522.3,633.6" fill="#355db4" stroke="#355db4"/>
<polygon points="574.9,631.1 596,650.7 580.2,662.2 559.1,643.1" fill="#3351aa" stroke="#3351aa"/>
<polygon points="611.7,638.6 632.8,656.6 617,668.1 596,650.7" fill="#3149a2" stroke="#3149a2"/>
<polygon points="648.5,644.6 669.6,661.2 653.9,672.5 632.8,656.6" fill="#2f419a" stroke="#2f419a"/>
<polygon points="685.4,649.3 706.5,664.7 690.7,675.9 669.6,661.2" fill="#2e3b93" stroke="#2e3b93"/>
<polygon points="722.2,652.9 743.3,667.5 727.5,678.5 706.5,664.7" fill="#2e378f" stroke="#2e378f"/>
<polygon points="759,655.9 780.1,669.6 764.3,680.4 743.3,667.5" fill="#2d358b" stroke="#2d358b"/>
<polygon points="795.8,658.3 816.9,671.4 801.2,681.7 780.1,669.6" fill="#2d3389" stroke="#2d3389"/>
<polygon points="832.7,660.5 853.8,672.5 838,682.4 816.9,671.4" fill="#2c3186" stroke="#2c3186"/>
<polygon points="264.5,475.8 285.6,522.6 269.9,533.4 248.8,486.6" fill="#42a891" stroke="#42a891"/>
<polygon points="301.4,511.5 322.5,553.2 306.7,564.2 285.6,522.6" fill="#3d9cae" stroke="#3d9cae"/>
<polygon points="338.2,542 359.3,579.1 343.5,590.3 322.5,553.2" fill="#3e8bbe" stroke="#3e8bbe"/>
<polygon points="375,567.8 396.1,600.8 380.4,612 359.3,579.1" fill="#3d7cc0" stroke="#3d7cc0"/>
<polygon points="411.9,589.3 432.9,618.7 417.2,630 396.1,600.8" fill="#3c73be" stroke="#3c73be"/>
<polygon points="448.7,607.2 469.8,633.4 454,644.8 432.9,618.7" fill="#3a6bbc" stroke="#3a6bbc"/>
<polygon points="485.5,621.8 506.6,645.3 490.8,656.6 469.8,633.4" fill="#3763b7" stroke="#3763b7"/>
<polygon points="522.3,633.6 543.4,654.8 527.6,666.1 506.6,645.3" fill="#345ab2" stroke="#345ab2"/>
<polygon points="559.1,643.1 580.2,662.2 564.5,673.5 543.4,654.8" fill="#324fa8" stroke="#324fa8"/>
<polygon points="596,650.7 617,668.1 601.3,679.2 580.2,662.2" fill="#30469f" stroke="#30469f"/>
<polygon points="632.8,656.6 653.9,672.5 638.1,683.5 617,668.1" fill="#2f3e97" stroke="#2f3e97"/>
<polygon points="669.6,661.2 690.7,675.9 675,686.8 653.9,672.5" fill="#2e3990" stroke="#2e3990"/>
<polygon points="706.5,664.7 727.5,678.5 711.8,689.1 690.7,675.9" fill="#2d368c" stroke="#2d368c"/>
<polygon points="743.3,667.5 764.3,680.4 748.6,690.8 727.5,678.5" fill="#2d3389" stroke="#2d3389"/>
<polygon points="780.1,669.6 801.2,681.7 785.4,691.8 764.3,680.4" fill="#2c3187" stroke="#2c3187"/>
<polygon points="816.9,671.4 838,682.4 822.2,692.3 801.2,681.7" fill="#2c3085" stroke="#2c3085"/>
<polygon points="285.6,522.6 306.7,564.2 291,575.1 269.9,533.4" fill="#3d9baf" stroke="#3d9baf"/>
<polygon points="322.5,553.2 343.5,590.3 327.8,601.2 306.7,564.2" fill="#3e8bbe" stroke="#3e8bbe"/>
<polygon points="359.3,579.1 380.4,612 364.6,623.1 343.5,590.3" fill="#3d7cc0" stroke="#3d7cc0"/>
<polygon points="396.1,600.8 417.2,630 401.4,641.1 380.4,612" fill="#3c72be" stroke="#3c72be"/>
<polygon points="432.9,618.7 454,644.8 438.2,655.9 417.2,630" fill="#396abb" stroke="#396abb"/>
<polygon points="469.8,633.4 490.8,656.6 475.1,667.7 454,644.8" fill="#3661b7" stroke="#3661b7"/>
<polygon points="506.6,645.3 527.6,666.1 511.9,677.1 490.8,656.6" fill="#3458b0" stroke="#3458b0"/>
<polygon points="543.4,654.8 564.5,673.5 548.7,684.5 527.6,666.1" fill="#324da6" stroke="#324da6"/>
<polygon points="580.2,662.2 601.3,679.2 585.5,690.1 564.5,673.5" fill="#30449d" stroke="#30449d"/>
<polygon points="617,668.1 638.1,683.5 622.4,694.3 601.3,679.2" fill="#2e3c94" stroke="#2e3c94"/>
<polygon points="653.9,672.5 675,686.8 659.2,697.4 638.1,683.5" fill="#2e378f" stroke="#2e378f"/>
<polygon points="690.7,675.9 711.8,689.1 696,699.5 675,686.8" fill="#2d348b" stroke="#2d348b"/>
<polygon points="727.5,678.5 748.6,690.8 732.8,701 711.8,689.1" fill="#2d3288" stroke="#2d3288"/>
<polygon points="764.3,680.4 785.4,691.8 769.7,701.9 748.6,690.8" fill="#2c3186" stroke="#2c3186"/>
<polygon points="801.2,681.7 822.2,692.3 806.5,702.2 785.4,691.8" fill="#2c3085" stroke="#2c3085"/>
<polygon points="306.7,564.2 327.8,601.2 312,612 291,575.1" fill="#3e8abf" stroke="#3e8abf"/>
<polygon points="343.5,590.3 364.6,623.1 348.9,634 327.8,601.2" fill="#3d7bc0" stroke="#3d7bc0"/>
<polygon points="380.4,612 401.4,641.1 385.7,652.1 364.6,623.1" fill="#3c71be" stroke="#3c71be"/>
<polygon points="417.2,630 438.2,655.9 422.5,666.8 401.4,641.1" fill="#3969bb" stroke="#3969bb"/>
<polygon points="454,644.8 475.1,667.7 459.3,678.6 438.2,655.9" fill="#3661b6" stroke="#3661b6"/>
<polygon points="490.8,656.6 511.9,677.1 496.1,688 475.1,667.7" fill="#3456ae" stroke="#3456ae"/>
<polygon points="527.6,666.1 548.7,684.5 533,695.3 511.9,677.1" fill="#314ba5" stroke="#314ba5"/>
<polygon points="564.5,673.5 585.5,690.1 569.8,700.8 548.7,684.5" fill="#2f429b" stroke="#2f429b"/>
<polygon points="601.3,679.2 622.4,694.3 606.6,704.9 585.5,690.1" fill="#2e3a92" stroke="#2e3a92"/>
<polygon points="638.1,683.5 659.2,697.4 643.5,707.8 622.4,694.3" fill="#2d368d" stroke="#2d368d"/>
<polygon points="675,686.8 696,699.5 680.3,709.8 659.2,697.4" fill="#2d348a" stroke="#2d348a"/>
<polygon points="711.8,689.1 732.8,701 717.1,711.1 696,699.5" fill="#2c3287" stroke="#2c3287"/>
<polygon points="748.6,690.8 769.7,701.9 753.9,711.9 732.8,701" fill="#2c3085" stroke="#2c3085"/>
<polygon points="785.4,691.8 806.5,702.2 790.8,712.2 769.7,701.9" fill="#2c2f84" stroke="#2c2f84"/>
<polygon points="327.8,601.2 348.9,634 333.1,644.7 312,612" fill="#3d7bc0" stroke="#3d7bc0"/>
<polygon points="364.6,623.1 385.7,652.1 369.9,662.8 348.9,634" fill="#3c71be" stroke="#3c71be"/>
<polygon points="401.4,641.1 422.5,666.8 406.8,677.6 385.7,652.1" fill="#3969bb" stroke="#3969bb"/>
<polygon points="438.2,655.9 459.3,678.6 443.6,689.4 422.5,666.8" fill="#3660b6" stroke="#3660b6"/>
<polygon points="475.1,667.7 496.1,688 480.4,698.7 459.3,678.6" fill="#3355ad" stroke="#3355ad"/>
<polygon points="511.9,677.1 533,695.3 517.2,705.9 496.1,688" fill="#314aa4" stroke="#314aa4"/>
<polygon points="548.7,684.5 569.8,700.8 554,711.3 533,695.3" fill="#2f4099" stroke="#2f4099"/>
<polygon points="585.5,690.1 606.6,704.9 590.9,715.3 569.8,700.8" fill="#2e3991" stroke="#2e3991"/>
<polygon points="622.4,694.3 643.5,707.8 627.7,718.1 606.6,704.9" fill="#2d368c" stroke="#2d368c"/>
<polygon points="659.2,697.4 680.3,709.8 664.5,720 643.5,707.8" fill="#2d3389" stroke="#2d3389"/>
<polygon points="696,699.5 717.1,711.1 701.3,721.2 680.3,709.8" fill="#2c3187" stroke="#2c3187"/>
<polygon points="732.8,701 753.9,711.9 738.2,721.8 717.1,711.1" fill="#2c3085" stroke="#2c3085"/>
<polygon points="769.7,701.9 790.8,712.2 775,722.1 753.9,711.9" fill="#2c2f84" stroke="#2c2f84"/>
<polygon points="348.9,634 369.9,662.8 354.2,673.5 333.1,644.7" fill="#3b70bd" stroke="#3b70bd"/>
<polygon points="385.7,652.1 406.8,677.6 391,688.2 369.9,662.8" fill="#3968ba" stroke="#3968ba"/>
<polygon points="422.5,666.8 443.6,689.4 427.8,700 406.8,677.6" fill="#365fb5" stroke="#365fb5"/>
<polygon points="459.3,678.6 480.4,698.7 464.6,709.3 443.6,689.4" fill="#3354ac" stroke="#3354ac"/>
<polygon points="496.1,688 517.2,705.9 501.5,716.4 480.4,698.7" fill="#3149a2" stroke="#3149a2"/>
<polygon points="533,695.3 554,711.3 538.3,721.7 517.2,705.9" fill="#2f3f98" stroke="#2f3f98"/>
<polygon points="569.8,700.8 590.9,715.3 575.1,725.6 554,711.3" fill="#2e3990" stroke="#2e3990"/>
<polygon points="606.6,704.9 627.7,718.1 612,728.3 590.9,715.3" fill="#2d358c" stroke="#2d358c"/>
<polygon points="643.5,707.8 664.5,720 648.8,730.1 627.7,718.1" fill="#2d3288" stroke="#2d3288"/>
<polygon points="680.3,709.8 701.3,721.2 685.6,731.2 664.5,720" fill="#2c3186" stroke="#2c3186"/>
<polygon points="717.1,711.1 738.2,721.8 722.4,731.7 701.3,721.2" fill="#2c3085" stroke="#2c3085"/>
<polygon points="753.9,711.9 775,722.1 759.2,732 738.2,721.8" fill="#2c2f84" stroke="#2c2f84"/>
<polygon points="369.9,662.8 391,688.2 375.2,698.7 354.2,673.5" fill="#3968ba" stroke="#3968ba"/>
<polygon points="406.8,677.6 427.8,700 412.1,710.5 391,688.2" fill="#365fb5" stroke="#365fb5"/>
<polygon points="443.6,689.4 464.6,709.3 448.9,719.7 427.8,700" fill="#3353ab" stroke="#3353ab"/>
<polygon points="480.4,698.7 501.5,716.4 485.7,726.8 464.6,709.3" fill="#3148a1" stroke="#3148a1"/>
<polygon points="517.2,705.9 538.3,721.7 522.5,732.1 501.5,716.4" fill="#2f3e97" stroke="#2f3e97"/>
<polygon points="554,711.3 575.1,725.6 559.4,735.9 538.3,721.7" fill="#2e3890" stroke="#2e3890"/>
<polygon points="590.9,715.3 612,728.3 596.2,738.5 575.1,725.6" fill="#2d358b" stroke="#2d358b"/>
<polygon points="627.7,718.1 648.8,730.1 633,740.2 612,728.3" fill="#2d3288" stroke="#2d3288"/>
<polygon points="664.5,720 685.6,731.2 669.8,741.2 648.8,730.1" fill="#2c3186" stroke="#2c3186"/>
<polygon points="701.3,721.2 722.4,731.7 706.7,741.7 685.6,731.2" fill="#2c3085" stroke="#2c3085"/>
<polygon points="738.2,721.8 759.2,732 743.5,741.9 722.4,731.7" fill="#2c2f84" stroke="#2c2f84"/>
<polygon points="391,688.2 412.1,710.5 396.3,720.9 375.2,698.7" fill="#355eb5" stroke="#355eb5"/>
<polygon points="427.8,700 448.9,719.7 433.1,730.1 412.1,710.5" fill="#3352ab" stroke="#3352ab"/>
<polygon points="464.6,709.3 485.7,726.8 470,737.1 448.9,719.7" fill="#3047a0" stroke="#3047a0"/>
<polygon points="501.5,716.4 522.5,732.1 506.8,742.3 485.7,726.8" fill="#2f3d96" stroke="#2f3d96"/>
<polygon points="538.3,721.7 559.4,735.9 543.6,746 522.5,732.1" fill="#2e388f" stroke="#2e388f"/>
<polygon points="575.1,725.6 596.2,738.5 580.5,748.6 559.4,735.9" fill="#2d348b" stroke="#2d348b"/>
<polygon points="612,728.3 633,740.2 617.3,750.2 596.2,738.5" fill="#2d3288" stroke="#2d3288"/>
<polygon points="648.8,730.1 669.8,741.2 654.1,751.1 633,740.2" fill="#2c3086" stroke="#2c3086"/>
<polygon points="685.6,731.2 706.7,741.7 690.9,751.6 669.8,741.2" fill="#2c2f85" stroke="#2c2f85"/>
<polygon points="722.4,731.7 743.5,741.9 727.8,751.8 706.7,741.7" fill="#2c2f84" stroke="#2c2f84"/>
<polygon points="412.1,710.5 433.1,730.1 417.4,740.4 396.3,720.9" fill="#3351aa" stroke="#3351aa"/>
<polygon points="448.9,719.7 470,737.1 454.2,747.4 433.1,730.1" fill="#30469f" stroke="#30469f"/>
<polygon points="485.7,726.8 506.8,742.3 491,752.5 470,737.1" fill="#2f3d95" stroke="#2f3d95"/>
<polygon points="522.5,732.1 543.6,746 527.9,756.2 506.8,742.3" fill="#2d378e" stroke="#2d378e"/>
<polygon points="559.4,735.9 580.5,748.6 564.7,758.6 543.6,746" fill="#2d348a" stroke="#2d348a"/>
<polygon points="596.2,738.5 617.3,750.2 601.5,760.2 580.5,748.6" fill="#2c3287" stroke="#2c3287"/>
<polygon points="633,740.2 654.1,751.1 638.3,761.1 617.3,750.2" fill="#2c3086" stroke="#2c3086"/>
<polygon points="669.8,741.2 690.9,751.6 675.2,761.5 654.1,751.1" fill="#2c2f85" stroke="#2c2f85"/>
<polygon points="706.7,741.7 727.8,751.8 712,761.7 690.9,751.6" fill="#2c2f84" stroke="#2c2f84"/>
<polygon points="433.1,730.1 454.2,747.4 438.5,757.6 417.4,740.4" fill="#30459f" stroke="#30459f"/>
<polygon points="470,737.1 491,752.5 475.3,762.7 454.2,747.4" fill="#2e3c94" stroke="#2e3c94"/>
<polygon points="506.8,742.3 527.9,756.2 512.1,766.3 491,752.5" fill="#2d378e" stroke="#2d378e"/>
<polygon points="543.6,746 564.7,758.6 549,768.7 527.9,756.2" fill="#2d348a" stroke="#2d348a"/>
<polygon points="580.5,748.6 601.5,760.2 585.8,770.2 564.7,758.6" fill="#2c3187" stroke="#2c3187"/>
<polygon points="617.3,750.2 638.3,761.1 622.6,771 601.5,760.2" fill="#2c3085" stroke="#2c3085"/>
<polygon points="654.1,751.1 675.2,761.5 659.4,771.4 638.3,761.1" fill="#2c2f84" stroke="#2c2f84"/>
<polygon points="690.9,751.6 712,761.7 696.2,771.6 675.2,761.5" fill="#2c2f84" stroke="#2c2f84"/>
<polygon points="454.2,747.4 475.3,762.7 459.5,772.8 438.5,757.6" fill="#2e3c94" stroke="#2e3c94"/>
<polygon points="491,752.5 512.1,766.3 496.4,776.3 475.3,762.7" fill="#2d378e" stroke="#2d378e"/>
<polygon points="527.9,756.2 549,768.7 533.2,778.7 512.1,766.3" fill="#2d338a" stroke="#2d338a"/>
<polygon points="564.7,758.6 585.8,770.2 570,780.1 549,768.7" fill="#2c3187" stroke="#2c3187"/>
<polygon points="601.5,760.2 622.6,771 606.8,780.9 585.8,770.2" fill="#2c3085" stroke="#2c3085"/>
<polygon points="638.3,761.1 659.4,771.4 643.7,781.3 622.6,771" fill="#2c2f84" stroke="#2c2f84"/>
<polygon points="675.2,761.5 696.2,771.6 680.5,781.5 659.4,771.4" fill="#2c2f84" stroke="#2c2f84"/>
<polygon points="475.3,762.7 496.4,776.3 480.6,786.4 459.5,772.8" fill="#2d368d" stroke="#2d368d"/>
<polygon points="512.1,766.3 533.2,778.7 517.5,788.7 496.4,776.3" fill="#2d3389" stroke="#2d3389"/>
<polygon points="549,768.7 570,780.1 554.3,790.1 533.2,778.7" fill="#2c3187" stroke="#2c3187"/>
<polygon points="585.8,770.2 606.8,780.9 591.1,790.9 570,780.1" fill="#2c3085" stroke="#2c3085"/>
<polygon points="622.6,771 643.7,781.3 627.9,791.2 606.8,780.9" fill="#2c2f84" stroke="#2c2f84"/>
<polygon points="659.4,771.4 680.5,781.5 664.8,791.4 643.7,781.3" fill="#2c2f84" stroke="#2c2f84"/>
<polygon points="496.4,776.3 517.5,788.7 501.7,798.7 480.6,786.4" fill="#2d3389" stroke="#2d3389"/>
<polygon points="533.2,778.7 554.3,790.1 538.5,800 517.5,788.7" fill="#2c3187" stroke="#2c3187"/>
<polygon points="570,780.1 591.1,790.9 575.3,800.8 554.3,790.1" fill="#2c3085" stroke="#2c3085"/>
<polygon points="606.8,780.9 627.9,791.2 612.2,801.2 591.1,790.9" fill="#2c2f84" stroke="#2c2f84"/>
<polygon points="643.7,781.3 664.8,791.4 649,801.3 627.9,791.2" fill="#2c2f84" stroke="#2c2f84"/>
<polygon points="517.5,788.7 538.5,800 522.8,810 501.7,798.7" fill="#2c3187" stroke="#2c3187"/>
<polygon points="554.3,790.1 575.3,800.8 559.6,810.7 538.5,800" fill="#2c3085" stroke="#2c3085"/>
<polygon points="591.1,790.9 612.2,801.2 596.4,811.1 575.3,800.8" fill="#2c2f84" stroke="#2c2f84"/>
<polygon points="627.9,791.2 649,801.3 633.2,811.2 612.2,801.2" fill="#2c2f84" stroke="#2c2f84"/>
<polygon points="538.5,800 559.6,810.7 543.8,820.6 522.8,810" fill="#2c3085" stroke="#2c3085"/>
<polygon points="575.3,800.8 596.4,811.1 580.7,821 559.6,810.7" fill="#2c2f84" stroke="#2c2f84"/>
<polygon points="612.2,801.2 633.2,811.2 617.5,821.1 596.4,811.1" fill="#2c2f84" stroke="#2c2f84"/>
<polygon points="559.6,810.7 580.7,821 564.9,830.9 543.8,820.6" fill="#2c2f84" stroke="#2c2f84"/>
<polygon points="596.4,811.1 617.5,821.1 601.8,831.1 580.7,821" fill="#2c2f84" stroke="#2c2f84"/>
<polygon points="580.7,821 601.8,831.1 586,841 564.9,830.9" fill="#2c2f84" stroke="#2c2f84"/>
</g></g>
<g stroke="#161616" stroke-width="1.15" stroke-linejoin="round" fill="none">
<polyline points="479.5,40.8 463.8,50.7 448,60.6 432.2,70.5 416.5,80.4 400.8,90.3 385,100.2 369.2,110.2 353.5,120.1 337.8,130 322,139.9 306.2,149.8 290.5,159.7 274.8,169.6 259,179.5 243.2,189.4 227.5,199.3 211.8,209.2 196,219.1 180.2,229.1 164.5,239"/>
<polyline points="500.6,68.5 484.8,85.1 469.1,100.7 453.3,115.5 437.6,129.5 421.8,142.9 406.1,155.9 390.3,168.4 374.6,180.5 358.8,192.3 343.1,203.9 327.3,215.2 311.6,226.3 295.8,237.3 280.1,248.1 264.3,258.7 248.6,269.3 232.8,279.8 217.1,290.2 201.3,300.6 185.6,310.8"/>
<polyline points="521.6,96.4 505.9,119.3 490.1,140 474.4,159 458.6,176.6 442.9,193 427.1,208.4 411.4,222.9 395.6,236.8 379.9,250.1 364.1,262.9 348.4,275.3 332.6,287.4 316.9,299.1 301.1,310.6 285.4,321.8 269.6,332.9 253.9,343.8 238.1,354.6 222.4,365.2 206.6,375.8"/>
<polyline points="542.7,124.4 527,153.1 511.2,178.5 495.5,201.1 479.7,221.7 464,240.4 448.2,257.8 432.5,273.9 416.7,289.2 401,303.6 385.2,317.3 369.5,330.4 353.7,343.1 338,355.4 322.2,367.4 306.5,379 290.7,390.4 275,401.6 259.2,412.6 243.5,423.5 227.7,434.2"/>
<polyline points="563.8,152.5 548,186.7 532.3,216.1 516.5,241.8 500.8,264.7 485,285.4 469.3,304.2 453.5,321.5 437.8,337.7 422,352.8 406.3,367.2 390.5,380.8 374.8,393.9 359,406.6 343.3,418.8 327.5,430.7 311.8,442.3 296,453.6 280.3,464.8 264.5,475.8 248.8,486.6"/>
<polyline points="584.9,180.7 569.1,219.9 553.4,252.8 537.6,281.1 521.9,305.8 506.1,327.8 490.4,347.6 474.6,365.7 458.9,382.5 443.1,398.1 427.4,412.8 411.6,426.7 395.9,440 380.1,452.8 364.4,465.2 348.6,477.2 332.9,488.9 317.1,500.3 301.4,511.5 285.6,522.6 269.9,533.4"/>
<polyline points="606,209.1 590.2,252.7 574.5,288.6 558.7,318.9 543,344.9 527.2,367.8 511.5,388.2 495.7,406.7 480,423.7 464.2,439.5 448.5,454.3 432.7,468.3 417,481.7 401.2,494.5 385.5,506.9 369.7,518.9 354,530.6 338.2,542 322.5,553.2 306.7,564.2 291,575.1"/>
<polyline points="627,237.7 611.3,285.3 595.5,323.5 579.8,355.2 564,382 548.3,405.4 532.5,426 516.8,444.6 501,461.6 485.3,477.3 469.5,492 453.8,505.9 438,519.2 422.3,531.9 406.5,544.2 390.8,556.1 375,567.8 359.3,579.1 343.5,590.3 327.8,601.2 312,612"/>
<polyline points="648.1,266.4 632.4,317.4 616.6,357.4 600.9,390 585.1,417.2 569.4,440.5 553.6,461 537.9,479.4 522.1,496.2 506.4,511.6 490.6,526.1 474.9,539.8 459.1,552.9 443.4,565.4 427.6,577.5 411.9,589.3 396.1,600.8 380.4,612 364.6,623.1 348.9,634 333.1,644.7"/>
<polyline points="669.2,295.3 653.4,349.1 637.7,390.3 621.9,423.2 606.2,450.3 590.4,473.3 574.7,493.4 558.9,511.3 543.2,527.7 527.4,542.7 511.7,556.8 495.9,570.2 480.2,583 464.4,595.3 448.7,607.2 432.9,618.7 417.2,630 401.4,641.1 385.7,652.1 369.9,662.8 354.2,673.5"/>
<polyline points="690.2,324.4 674.5,380.4 658.8,422.2 643,454.8 627.2,481.4 611.5,503.8 595.8,523.2 580,540.5 564.2,556.2 548.5,570.8 532.8,584.4 517,597.4 501.2,609.8 485.5,621.8 469.8,633.4 454,644.8 438.2,655.9 422.5,666.8 406.8,677.6 391,688.2 375.2,698.7"/>
<polyline points="711.3,353.8 695.6,411.2 679.8,452.9 664.1,484.9 648.3,510.5 632.6,531.9 616.8,550.5 601.1,567 585.3,582 569.6,596 553.8,609.1 538.1,621.6 522.3,633.6 506.6,645.3 490.8,656.6 475.1,667.7 459.3,678.6 443.6,689.4 427.8,700 412.1,710.5 396.3,720.9"/>
<polyline points="732.4,383.4 716.6,441.5 700.9,482.5 685.1,513.2 669.4,537.6 653.6,557.9 637.9,575.4 622.1,591 606.4,605.2 590.6,618.5 574.9,631.1 559.1,643.1 543.4,654.8 527.6,666.1 511.9,677.1 496.1,688 480.4,698.7 464.6,709.3 448.9,719.7 433.1,730.1 417.4,740.4"/>
<polyline points="753.5,413.3 737.7,471.3 722,510.9 706.2,539.9 690.5,562.7 674.7,581.6 659,597.9 643.2,612.6 627.5,626 611.7,638.6 596,650.7 580.2,662.2 564.5,673.5 548.7,684.5 533,695.3 517.2,705.9 501.5,716.4 485.7,726.8 470,737.1 454.2,747.4 438.5,757.6"/>
<polyline points="774.5,443.5 758.8,500.4 743,537.9 727.3,564.9 711.5,585.9 695.8,603.2 680,618.3 664.3,632 648.5,644.6 632.8,656.6 617,668.1 601.3,679.2 585.5,690.1 569.8,700.8 554,711.3 538.3,721.7 522.5,732.1 506.8,742.3 491,752.5 475.3,762.7 459.5,772.8"/>
<polyline points="795.6,474.2 779.9,528.8 764.1,563.5 748.4,588 732.6,607 716.9,622.7 701.1,636.6 685.4,649.3 669.6,661.2 653.9,672.5 638.1,683.5 622.4,694.3 606.6,704.9 590.9,715.3 575.1,725.6 559.4,735.9 543.6,746 527.9,756.2 512.1,766.3 496.4,776.3 480.6,786.4"/>
<polyline points="816.7,505.3 801,556.5 785.2,587.6 769.5,609.3 753.7,626.1 738,640.3 722.2,652.9 706.5,664.7 690.7,675.9 675,686.8 659.2,697.4 643.5,707.8 627.7,718.1 612,728.3 596.2,738.5 580.5,748.6 564.7,758.6 549,768.7 533.2,778.7 517.5,788.7 501.7,798.7"/>
<polyline points="837.8,537.1 822,583.1 806.3,610 790.5,628.5 774.8,643.2 759,655.9 743.3,667.5 727.5,678.5 711.8,689.1 696,699.5 680.3,709.8 664.5,720 648.8,730.1 633,740.2 617.3,750.2 601.5,760.2 585.8,770.2 570,780.1 554.3,790.1 538.5,800 522.8,810"/>
<polyline points="858.8,569.8 843.1,608.6 827.3,630.4 811.6,645.7 795.8,658.3 780.1,669.6 764.3,680.4 748.6,690.8 732.8,701 717.1,711.1 701.3,721.2 685.6,731.2 669.8,741.2 654.1,751.1 638.3,761.1 622.6,771 606.8,780.9 591.1,790.9 575.3,800.8 559.6,810.7 543.8,820.6"/>
<polyline points="879.9,604 864.2,632.4 848.4,648.3 832.7,660.5 816.9,671.4 801.2,681.7 785.4,691.8 769.7,701.9 753.9,711.9 738.2,721.8 722.4,731.7 706.7,741.7 690.9,751.6 675.2,761.5 659.4,771.4 643.7,781.3 627.9,791.2 612.2,801.2 596.4,811.1 580.7,821 564.9,830.9"/>
<polyline points="901,642.8 885.2,652.7 869.5,662.6 853.8,672.5 838,682.4 822.2,692.3 806.5,702.2 790.8,712.2 775,722.1 759.2,732 743.5,741.9 727.8,751.8 712,761.7 696.2,771.6 680.5,781.5 664.8,791.4 649,801.3 633.2,811.2 617.5,821.1 601.8,831.1 586,841"/>
<polyline points="479.5,40.8 500.6,68.5 521.6,96.4 542.7,124.4 563.8,152.5 584.9,180.7 606,209.1 627,237.7 648.1,266.4 669.2,295.3 690.2,324.4 711.3,353.8 732.4,383.4 753.5,413.3 774.5,443.5 795.6,474.2 816.7,505.3 837.8,537.1 858.8,569.8 879.9,604 901,642.8"/>
<polyline points="463.8,50.7 484.8,85.1 505.9,119.3 527,153.1 548,186.7 569.1,219.9 590.2,252.7 611.3,285.3 632.4,317.4 653.4,349.1 674.5,380.4 695.6,411.2 716.6,441.5 737.7,471.3 758.8,500.4 779.9,528.8 801,556.5 822,583.1 843.1,608.6 864.2,632.4 885.2,652.7"/>
<polyline points="448,60.6 469.1,100.7 490.1,140 511.2,178.5 532.3,216.1 553.4,252.8 574.5,288.6 595.5,323.5 616.6,357.4 637.7,390.3 658.8,422.2 679.8,452.9 700.9,482.5 722,510.9 743,537.9 764.1,563.5 785.2,587.6 806.3,610 827.3,630.4 848.4,648.3 869.5,662.6"/>
<polyline points="432.2,70.5 453.3,115.5 474.4,159 495.5,201.1 516.5,241.8 537.6,281.1 558.7,318.9 579.8,355.2 600.9,390 621.9,423.2 643,454.8 664.1,484.9 685.1,513.2 706.2,539.9 727.3,564.9 748.4,588 769.5,609.3 790.5,628.5 811.6,645.7 832.7,660.5 853.8,672.5"/>
<polyline points="416.5,80.4 437.6,129.5 458.6,176.6 479.7,221.7 500.8,264.7 521.9,305.8 543,344.9 564,382 585.1,417.2 606.2,450.3 627.2,481.4 648.3,510.5 669.4,537.6 690.5,562.7 711.5,585.9 732.6,607 753.7,626.1 774.8,643.2 795.8,658.3 816.9,671.4 838,682.4"/>
<polyline points="400.8,90.3 421.8,142.9 442.9,193 464,240.4 485,285.4 506.1,327.8 527.2,367.8 548.3,405.4 569.4,440.5 590.4,473.3 611.5,503.8 632.6,531.9 653.6,557.9 674.7,581.6 695.8,603.2 716.9,622.7 738,640.3 759,655.9 780.1,669.6 801.2,681.7 822.2,692.3"/>
<polyline points="385,100.2 406.1,155.9 427.1,208.4 448.2,257.8 469.3,304.2 490.4,347.6 511.5,388.2 532.5,426 553.6,461 574.7,493.4 595.8,523.2 616.8,550.5 637.9,575.4 659,597.9 680,618.3 701.1,636.6 722.2,652.9 743.3,667.5 764.3,680.4 785.4,691.8 806.5,702.2"/>
<polyline points="369.2,110.2 390.3,168.4 411.4,222.9 432.5,273.9 453.5,321.5 474.6,365.7 495.7,406.7 516.8,444.6 537.9,479.4 558.9,511.3 580,540.5 601.1,567 622.1,591 643.2,612.6 664.3,632 685.4,649.3 706.5,664.7 727.5,678.5 748.6,690.8 769.7,701.9 790.8,712.2"/>
<polyline points="353.5,120.1 374.6,180.5 395.6,236.8 416.7,289.2 437.8,337.7 458.9,382.5 480,423.7 501,461.6 522.1,496.2 543.2,527.7 564.2,556.2 585.3,582 606.4,605.2 627.5,626 648.5,644.6 669.6,661.2 690.7,675.9 711.8,689.1 732.8,701 753.9,711.9 775,722.1"/>
<polyline points="337.8,130 358.8,192.3 379.9,250.1 401,303.6 422,352.8 443.1,398.1 464.2,439.5 485.3,477.3 506.4,511.6 527.4,542.7 548.5,570.8 569.6,596 590.6,618.5 611.7,638.6 632.8,656.6 653.9,672.5 675,686.8 696,699.5 717.1,711.1 738.2,721.8 759.2,732"/>
<polyline points="322,139.9 343.1,203.9 364.1,262.9 385.2,317.3 406.3,367.2 427.4,412.8 448.5,454.3 469.5,492 490.6,526.1 511.7,556.8 532.8,584.4 553.8,609.1 574.9,631.1 596,650.7 617,668.1 638.1,683.5 659.2,697.4 680.3,709.8 701.3,721.2 722.4,731.7 743.5,741.9"/>
<polyline points="306.2,149.8 327.3,215.2 348.4,275.3 369.5,330.4 390.5,380.8 411.6,426.7 432.7,468.3 453.8,505.9 474.9,539.8 495.9,570.2 517,597.4 538.1,621.6 559.1,643.1 580.2,662.2 601.3,679.2 622.4,694.3 643.5,707.8 664.5,720 685.6,731.2 706.7,741.7 727.8,751.8"/>
<polyline points="290.5,159.7 311.6,226.3 332.6,287.4 353.7,343.1 374.8,393.9 395.9,440 417,481.7 438,519.2 459.1,552.9 480.2,583 501.2,609.8 522.3,633.6 543.4,654.8 564.5,673.5 585.5,690.1 606.6,704.9 627.7,718.1 648.8,730.1 669.8,741.2 690.9,751.6 712,761.7"/>
<polyline points="274.8,169.6 295.8,237.3 316.9,299.1 338,355.4 359,406.6 380.1,452.8 401.2,494.5 422.3,531.9 443.4,565.4 464.4,595.3 485.5,621.8 506.6,645.3 527.6,666.1 548.7,684.5 569.8,700.8 590.9,715.3 612,728.3 633,740.2 654.1,751.1 675.2,761.5 696.2,771.6"/>
<polyline points="259,179.5 280.1,248.1 301.1,310.6 322.2,367.4 343.3,418.8 364.4,465.2 385.5,506.9 406.5,544.2 427.6,577.5 448.7,607.2 469.8,633.4 490.8,656.6 511.9,677.1 533,695.3 554,711.3 575.1,725.6 596.2,738.5 617.3,750.2 638.3,761.1 659.4,771.4 680.5,781.5"/>
<polyline points="243.2,189.4 264.3,258.7 285.4,321.8 306.5,379 327.5,430.7 348.6,477.2 369.7,518.9 390.8,556.1 411.9,589.3 432.9,618.7 454,644.8 475.1,667.7 496.1,688 517.2,705.9 538.3,721.7 559.4,735.9 580.5,748.6 601.5,760.2 622.6,771 643.7,781.3 664.8,791.4"/>
<polyline points="227.5,199.3 248.6,269.3 269.6,332.9 290.7,390.4 311.8,442.3 332.9,488.9 354,530.6 375,567.8 396.1,600.8 417.2,630 438.2,655.9 459.3,678.6 480.4,698.7 501.5,716.4 522.5,732.1 543.6,746 564.7,758.6 585.8,770.2 606.8,780.9 627.9,791.2 649,801.3"/>
<polyline points="211.8,209.2 232.8,279.8 253.9,343.8 275,401.6 296,453.6 317.1,500.3 338.2,542 359.3,579.1 380.4,612 401.4,641.1 422.5,666.8 443.6,689.4 464.6,709.3 485.7,726.8 506.8,742.3 527.9,756.2 549,768.7 570,780.1 591.1,790.9 612.2,801.2 633.2,811.2"/>
<polyline points="196,219.1 217.1,290.2 238.1,354.6 259.2,412.6 280.3,464.8 301.4,511.5 322.5,553.2 343.5,590.3 364.6,623.1 385.7,652.1 406.8,677.6 427.8,700 448.9,719.7 470,737.1 491,752.5 512.1,766.3 533.2,778.7 554.3,790.1 575.3,800.8 596.4,811.1 617.5,821.1"/>
<polyline points="180.2,229.1 201.3,300.6 222.4,365.2 243.5,423.5 264.5,475.8 285.6,522.6 306.7,564.2 327.8,601.2 348.9,634 369.9,662.8 391,688.2 412.1,710.5 433.1,730.1 454.2,747.4 475.3,762.7 496.4,776.3 517.5,788.7 538.5,800 559.6,810.7 580.7,821 601.8,831.1"/>
<polyline points="164.5,239 185.6,310.8 206.6,375.8 227.7,434.2 248.8,486.6 269.9,533.4 291,575.1 312,612 333.1,644.7 354.2,673.5 375.2,698.7 396.3,720.9 417.4,740.4 438.5,757.6 459.5,772.8 480.6,786.4 501.7,798.7 522.8,810 543.8,820.6 564.9,830.9 586,841"/>
</g>
<g stroke="#111" stroke-width="3.4" fill="none" stroke-linecap="butt" stroke-linejoin="miter">
<polyline points="142.5,252.8 142.5,653.8 564,854.8 931.2,623.8 931.2,222.8"/>
<polyline points="142.5,651.6 152.7,645.2"/>
<polyline points="142.5,543.1 152.7,536.7"/>
<polyline points="142.5,434.6 152.7,428.2"/>
<polyline points="142.5,326.1 152.7,319.7"/>
<polyline points="927.8,626 916.9,620.8"/>
<polyline points="823.7,691.4 812.9,686.3"/>
<polyline points="719.6,756.9 708.8,751.7"/>
<polyline points="615.5,822.4 604.7,817.2"/>
<polyline points="247.9,704 258,697.7"/>
<polyline points="353.2,754.3 363.4,747.9"/>
<polyline points="458.6,804.5 468.8,798.2"/>
</g>
<polyline points="142.5,253.8 509.7,22.8 931.2,223.8" fill="none" stroke="#45b04a" stroke-width="6" stroke-linejoin="miter" stroke-linecap="butt"/>
<path d="M357,755.6 C369.4,745.5 414.9,708.2 431.6,695.3 C448.3,682.4 446.7,686.0 457.1,678.3 C467.5,670.6 481.8,658.8 494.2,649.0 C506.6,639.2 519.0,629.6 531.4,619.4 C543.8,609.2 556.1,598.9 568.5,588.0 C580.9,577.1 595.1,564.3 605.6,554.3 C616.1,544.3 623.4,537.7 631.6,527.8 C639.8,517.9 646.6,506.8 654.6,495.0 C662.6,483.2 674.0,469.0 679.8,457.1 C685.6,445.2 686.0,435.7 689.3,423.9 C692.6,412.1 696.9,398.3 699.7,386.5 C702.5,374.7 704.0,365.1 705.9,353.3 C707.8,341.6 709.8,329.1 711.3,316.0 C712.8,302.9 714.0,288.2 715.0,274.4 C716.0,260.6 716.7,248.2 717.5,233.0 C718.3,217.8 719.1,200.9 719.6,183.0 C720.1,165.1 720.3,135.2 720.4,125.7" fill="none" stroke="#e0272c" stroke-width="10.2" stroke-linecap="butt"/>
<circle cx="654.6" cy="495" r="27.5" fill="#f2d831" stroke="#1a1a1a" stroke-width="1.6"/>
<circle cx="433" cy="695.3" r="24.8" fill="#5fc4a0" stroke="#1a1a1a" stroke-width="1.6"/>
<text x="121.5" y="659.7" font-size="55.5" text-anchor="end">0</text>
<text x="121.5" y="563.9" font-size="55.5" text-anchor="end">20</text>
<text x="121.5" y="454.7" font-size="55.5" text-anchor="end">40</text>
<text x="121.5" y="346.1" font-size="55.5" text-anchor="end">60</text>
<text x="106.6" y="703.4" font-size="55.5" text-anchor="middle">0</text>
<text x="172.5" y="744.4" font-size="55.5" text-anchor="middle">0.25</text>
<text x="282.6" y="793.7" font-size="55.5" text-anchor="middle">0.50</text>
<text x="385.9" y="848.7" font-size="55.5" text-anchor="middle">0.75</text>
<text x="493.1" y="894.2" font-size="55.5" text-anchor="middle">1.00</text>
<text x="643.3" y="866.8" font-size="55.5" text-anchor="middle">6</text>
<text x="744.3" y="802.1" font-size="55.5" text-anchor="middle">4</text>
<text x="856.6" y="734.6" font-size="55.5" text-anchor="middle">2</text>
<text x="963.3" y="669.3" font-size="55.5" text-anchor="middle">0</text>
<text x="879" y="274.2" font-size="55" text-anchor="middle">(a)</text>
<g transform="translate(125.1 830.5) rotate(25.2)"><text x="0" y="0" font-size="57">孔隙率 <tspan font-style="italic" font-size="51">Ø</tspan></text></g>
<g transform="translate(527.6 1025.1) rotate(-32.5)"><text x="0" y="0" font-size="55.7">孔隙的平均线性尺寸 <tspan font-size="55" dx="3" dy="-9">log[<tspan font-style="italic">l</tspan>/<tspan font-style="italic">l</tspan><tspan font-size="34.1" dy="8.8">0</tspan><tspan dy="-8.8">]</tspan></tspan></text><line x1="599.9" y1="-61.3" x2="628.9" y2="-61.3" stroke="#141414" stroke-width="2.2"/><line x1="637.9" y1="-61.3" x2="668" y2="-61.3" stroke="#141414" stroke-width="2.2"/></g>
<g transform="translate(49 643.5) rotate(-90)"><text x="0" y="0" font-size="54.8">杨氏模量 <tspan font-size="56" dy="-3"><tspan font-style="italic">E</tspan>/GPa</tspan></text></g>
</g>
<g id="panel-b">
<g stroke="#d0d0d0" stroke-width="0.85" fill="none">
<polyline points="1267.6,622.7 1636,384.5 2051.7,594.9"/>
<polyline points="1267.6,523.9 1636,285.7 2051.7,496.1"/>
<polyline points="1267.6,425.1 1636,186.9 2051.7,397.3"/>
<polyline points="1267.6,326.3 1636,88.1 2051.7,298.5"/>
<polyline points="1516.2,77.8 1516.2,463.9 1931.9,674.3"/>
<polyline points="1406.1,148.9 1406.1,535 1821.8,745.4"/>
<polyline points="1296,220.1 1296,606.2 1711.7,816.6"/>
<polyline points="1843.8,105.5 1843.8,491.6 1475.4,729.8"/>
</g>
<line x1="1636" y1="386.4" x2="1636" y2="0.3" stroke="#444" stroke-width="1.2" />
<line x1="1267.6" y1="624.6" x2="1636" y2="386.4" stroke="#111" stroke-width="1.5" />
<line x1="1636" y1="386.4" x2="2051.7" y2="596.8" stroke="#111" stroke-width="1.5" />
<clipPath id="clip-b"><polygon points="1269.7,252.2 1279.8,245 1296.7,233 1313.6,221.1 1330.5,209.1 1347.4,197.1 1364.3,185.2 1381.2,173.2 1398.1,161.2 1415,149.3 1431.9,137.3 1448.8,125.3 1465.7,113.3 1482.6,101.4 1499.5,89.4 1516.5,77.7 1533.8,67 1551.3,56.3 1569.1,45.8 1587.5,35.7 1607.5,26.3 1621.7,45 1642.5,71.6 1663.3,97.6 1684,122.9 1704.8,147.5 1725.6,171.5 1746.4,195 1767.2,217.9 1788,240.3 1808.8,262.2 1829.5,283.5 1850.3,304.4 1871.1,324.9 1891.9,344.9 1912.7,364.5 1933.5,383.8 1954.2,402.6 1975,421.1 1995.8,439.3 2016.6,619.5 1999.7,630.4 1982.8,641.3 1965.9,652.3 1949,663.2 1932.1,674.1 1915.2,685.1 1898.3,696 1881.4,706.9 1864.5,717.8 1847.6,728.8 1830.7,739.7 1813.8,750.6 1796.9,761.5 1780,772.5 1763.1,783.4 1746.2,794.3 1729.3,805.3 1712.4,816.2 1695.5,827.1 1685.4,833.7 1664.6,823.1 1643.8,812.6 1623,802 1602.2,791.4 1581.4,780.8 1560.7,770 1539.9,759.2 1519.1,748.2 1498.3,736.9 1477.5,725.1 1456.7,712.6 1435.9,698.8 1415.2,683.2 1394.4,664.4 1373.6,640.6 1352.8,608.9 1332,564.5 1311.2,499.6 1290.4,402.1"/></clipPath>
<g clip-path="url(#clip-b)"><g filter="url(#soft)" stroke-width="3" stroke-linejoin="round">
<polygon points="1607.5,26.3 1621.7,45 1604.8,65.4 1587.5,35.7" fill="#dee13a" stroke="#dee13a"/>
<polygon points="1587.5,35.7 1604.8,65.4 1587.9,85.6 1569.1,45.8" fill="#dee13a" stroke="#dee13a"/>
<polygon points="1621.7,45 1642.5,71.6 1625.6,99.7 1604.8,65.4" fill="#e8d232" stroke="#e8d232"/>
<polygon points="1569.1,45.8 1587.9,85.6 1571,105.5 1551.3,56.3" fill="#dee13a" stroke="#dee13a"/>
<polygon points="1604.8,65.4 1625.6,99.7 1608.7,126.8 1587.9,85.6" fill="#edbd30" stroke="#edbd30"/>
<polygon points="1642.5,71.6 1663.3,97.6 1646.4,132.4 1625.6,99.7" fill="#efb330" stroke="#efb330"/>
<polygon points="1551.3,56.3 1571,105.5 1554.1,125.2 1533.8,67" fill="#dee13a" stroke="#dee13a"/>
<polygon points="1587.9,85.6 1608.7,126.8 1591.8,153.1 1571,105.5" fill="#efb030" stroke="#efb030"/>
<polygon points="1625.6,99.7 1646.4,132.4 1629.5,165.4 1608.7,126.8" fill="#f0a32f" stroke="#f0a32f"/>
<polygon points="1663.3,97.6 1684,122.9 1667.1,163.6 1646.4,132.4" fill="#f0a42f" stroke="#f0a42f"/>
<polygon points="1533.8,67 1554.1,125.2 1537.2,144.5 1516.5,77.7" fill="#dee13a" stroke="#dee13a"/>
<polygon points="1571,105.5 1591.8,153.1 1574.9,178.6 1554.1,125.2" fill="#f0a62f" stroke="#f0a62f"/>
<polygon points="1608.7,126.8 1629.5,165.4 1612.6,196.8 1591.8,153.1" fill="#ef9b2f" stroke="#ef9b2f"/>
<polygon points="1646.4,132.4 1667.1,163.6 1650.2,201.6 1629.5,165.4" fill="#ee9a30" stroke="#ee9a30"/>
<polygon points="1684,122.9 1704.8,147.5 1687.9,193.6 1667.1,163.6" fill="#ef9c2e" stroke="#ef9c2e"/>
<polygon points="1516.5,77.7 1537.2,144.5 1520.3,163.6 1499.5,89.4" fill="#dee13a" stroke="#dee13a"/>
<polygon points="1554.1,125.2 1574.9,178.6 1558,203.4 1537.2,144.5" fill="#f0a12f" stroke="#f0a12f"/>
<polygon points="1591.8,153.1 1612.6,196.8 1595.7,226.6 1574.9,178.6" fill="#ed9832" stroke="#ed9832"/>
<polygon points="1629.5,165.4 1650.2,201.6 1633.3,236.9 1612.6,196.8" fill="#dc9d3f" stroke="#dc9d3f"/>
<polygon points="1667.1,163.6 1687.9,193.6 1671,235.5 1650.2,201.6" fill="#df9b3d" stroke="#df9b3d"/>
<polygon points="1704.8,147.5 1725.6,171.5 1708.7,222.2 1687.9,193.6" fill="#ee9931" stroke="#ee9931"/>
<polygon points="1499.5,89.4 1520.3,163.6 1503.4,182.5 1482.6,101.4" fill="#dfe039" stroke="#dfe039"/>
<polygon points="1537.2,144.5 1558,203.4 1541.1,227.3 1520.3,163.6" fill="#ef9d2e" stroke="#ef9d2e"/>
<polygon points="1574.9,178.6 1595.7,226.6 1578.8,255.1 1558,203.4" fill="#d89e42" stroke="#d89e42"/>
<polygon points="1612.6,196.8 1633.3,236.9 1616.4,269.9 1595.7,226.6" fill="#aaab54" stroke="#aaab54"/>
<polygon points="1650.2,201.6 1671,235.5 1654.1,273.8 1633.3,236.9" fill="#a9ac55" stroke="#a9ac55"/>
<polygon points="1687.9,193.6 1708.7,222.2 1691.8,267.4 1671,235.5" fill="#aeaa53" stroke="#aeaa53"/>
<polygon points="1725.6,171.5 1746.4,195 1729.5,249.7 1708.7,222.2" fill="#e4993b" stroke="#e4993b"/>
<polygon points="1482.6,101.4 1503.4,182.5 1486.5,201.1 1465.7,113.3" fill="#e0df39" stroke="#e0df39"/>
<polygon points="1520.3,163.6 1541.1,227.3 1524.2,250.7 1503.4,182.5" fill="#ee9b2f" stroke="#ee9b2f"/>
<polygon points="1558,203.4 1578.8,255.1 1561.9,282.3 1541.1,227.3" fill="#b3aa51" stroke="#b3aa51"/>
<polygon points="1595.7,226.6 1616.4,269.9 1599.5,300.8 1578.8,255.1" fill="#a5ad56" stroke="#a5ad56"/>
<polygon points="1633.3,236.9 1654.1,273.8 1637.2,309 1616.4,269.9" fill="#98b15c" stroke="#98b15c"/>
<polygon points="1671,235.5 1691.8,267.4 1674.9,307.9 1654.1,273.8" fill="#99b15c" stroke="#99b15c"/>
<polygon points="1708.7,222.2 1729.5,249.7 1712.6,297.5 1691.8,267.4" fill="#a6ad56" stroke="#a6ad56"/>
<polygon points="1746.4,195 1767.2,217.9 1750.3,276 1729.5,249.7" fill="#c2a64b" stroke="#c2a64b"/>
<polygon points="1465.7,113.3 1486.5,201.1 1469.6,219.5 1448.8,125.3" fill="#e1dd38" stroke="#e1dd38"/>
<polygon points="1503.4,182.5 1524.2,250.7 1507.3,273.3 1486.5,201.1" fill="#ed9931" stroke="#ed9931"/>
<polygon points="1541.1,227.3 1561.9,282.3 1545,308.2 1524.2,250.7" fill="#a8ac55" stroke="#a8ac55"/>
<polygon points="1578.8,255.1 1599.5,300.8 1582.6,329.8 1561.9,282.3" fill="#86b363" stroke="#86b363"/>
<polygon points="1616.4,269.9 1637.2,309 1620.3,341.3 1599.5,300.8" fill="#57b270" stroke="#57b270"/>
<polygon points="1654.1,273.8 1674.9,307.9 1658,344.4 1637.2,309" fill="#55b174" stroke="#55b174"/>
<polygon points="1691.8,267.4 1712.6,297.5 1695.7,339.5 1674.9,307.9" fill="#5bb26e" stroke="#5bb26e"/>
<polygon points="1729.5,249.7 1750.3,276 1733.4,325.9 1712.6,297.5" fill="#90b25f" stroke="#90b25f"/>
<polygon points="1767.2,217.9 1788,240.3 1771.1,301.4 1750.3,276" fill="#aaab54" stroke="#aaab54"/>
<polygon points="1448.8,125.3 1469.6,219.5 1452.7,237.7 1431.9,137.3" fill="#e1dc37" stroke="#e1dc37"/>
<polygon points="1486.5,201.1 1507.3,273.3 1490.4,295.4 1469.6,219.5" fill="#ea9835" stroke="#ea9835"/>
<polygon points="1524.2,250.7 1545,308.2 1528.1,333.1 1507.3,273.3" fill="#a3ae57" stroke="#a3ae57"/>
<polygon points="1561.9,282.3 1582.6,329.8 1565.7,357.1 1545,308.2" fill="#57b271" stroke="#57b271"/>
<polygon points="1599.5,300.8 1620.3,341.3 1603.4,371.3 1582.6,329.8" fill="#4bad81" stroke="#4bad81"/>
<polygon points="1637.2,309 1658,344.4 1641.1,377.5 1620.3,341.3" fill="#46ab89" stroke="#46ab89"/>
<polygon points="1674.9,307.9 1695.7,339.5 1678.8,376.7 1658,344.4" fill="#46ab88" stroke="#46ab88"/>
<polygon points="1712.6,297.5 1733.4,325.9 1716.5,368.9 1695.7,339.5" fill="#4dad80" stroke="#4dad80"/>
<polygon points="1750.3,276 1771.1,301.4 1754.2,352.7 1733.4,325.9" fill="#60b26d" stroke="#60b26d"/>
<polygon points="1788,240.3 1808.8,262.2 1791.8,325.8 1771.1,301.4" fill="#a7ac55" stroke="#a7ac55"/>
<polygon points="1431.9,137.3 1452.7,237.7 1435.8,255.6 1415,149.3" fill="#e2db37" stroke="#e2db37"/>
<polygon points="1469.6,219.5 1490.4,295.4 1473.5,316.9 1452.7,237.7" fill="#df9b3e" stroke="#df9b3e"/>
<polygon points="1507.3,273.3 1528.1,333.1 1511.2,357 1490.4,295.4" fill="#91b25f" stroke="#91b25f"/>
<polygon points="1545,308.2 1565.7,357.1 1548.8,382.9 1528.1,333.1" fill="#4eae7e" stroke="#4eae7e"/>
<polygon points="1582.6,329.8 1603.4,371.3 1586.5,399 1565.7,357.1" fill="#42a892" stroke="#42a892"/>
<polygon points="1620.3,341.3 1641.1,377.5 1624.2,407.6 1603.4,371.3" fill="#3ea39d" stroke="#3ea39d"/>
<polygon points="1658,344.4 1678.8,376.7 1661.9,409.9 1641.1,377.5" fill="#3ea2a0" stroke="#3ea2a0"/>
<polygon points="1695.7,339.5 1716.5,368.9 1699.6,406.3 1678.8,376.7" fill="#3fa49c" stroke="#3fa49c"/>
<polygon points="1733.4,325.9 1754.2,352.7 1737.3,396.2 1716.5,368.9" fill="#43a990" stroke="#43a990"/>
<polygon points="1771.1,301.4 1791.8,325.8 1775,378.1 1754.2,352.7" fill="#50af7a" stroke="#50af7a"/>
<polygon points="1808.8,262.2 1829.5,283.5 1812.6,349.2 1791.8,325.8" fill="#9eaf59" stroke="#9eaf59"/>
<polygon points="1415,149.3 1435.8,255.6 1418.9,273.4 1398.1,161.2" fill="#e3d936" stroke="#e3d936"/>
<polygon points="1452.7,237.7 1473.5,316.9 1456.6,337.8 1435.8,255.6" fill="#cda247" stroke="#cda247"/>
<polygon points="1490.4,295.4 1511.2,357 1494.3,379.9 1473.5,316.9" fill="#71b369" stroke="#71b369"/>
<polygon points="1528.1,333.1 1548.8,382.9 1531.9,407.3 1511.2,357" fill="#45aa8a" stroke="#45aa8a"/>
<polygon points="1565.7,357.1 1586.5,399 1569.6,424.8 1548.8,382.9" fill="#3ea2a1" stroke="#3ea2a1"/>
<polygon points="1603.4,371.3 1624.2,407.6 1607.3,435.1 1586.5,399" fill="#3d9dac" stroke="#3d9dac"/>
<polygon points="1641.1,377.5 1661.9,409.9 1645,439.6 1624.2,407.6" fill="#3d9ab1" stroke="#3d9ab1"/>
<polygon points="1678.8,376.7 1699.6,406.3 1682.7,439.1 1661.9,409.9" fill="#3d9ab0" stroke="#3d9ab0"/>
<polygon points="1716.5,368.9 1737.3,396.2 1720.4,433.4 1699.6,406.3" fill="#3d9dab" stroke="#3d9dab"/>
<polygon points="1754.2,352.7 1775,378.1 1758,421.7 1737.3,396.2" fill="#3ea39f" stroke="#3ea39f"/>
<polygon points="1791.8,325.8 1812.6,349.2 1795.7,402.3 1775,378.1" fill="#48ac86" stroke="#48ac86"/>
<polygon points="1829.5,283.5 1850.3,304.4 1833.4,371.9 1812.6,349.2" fill="#89b362" stroke="#89b362"/>
<polygon points="1398.1,161.2 1418.9,273.4 1402,290.9 1381.2,173.2" fill="#e4d835" stroke="#e4d835"/>
<polygon points="1435.8,255.6 1456.6,337.8 1439.7,358.3 1418.9,273.4" fill="#b9a94f" stroke="#b9a94f"/>
<polygon points="1473.5,316.9 1494.3,379.9 1477.4,402 1456.6,337.8" fill="#56b172" stroke="#56b172"/>
<polygon points="1511.2,357 1531.9,407.3 1515,430.5 1494.3,379.9" fill="#41a696" stroke="#41a696"/>
<polygon points="1548.8,382.9 1569.6,424.8 1552.7,449 1531.9,407.3" fill="#3d9dac" stroke="#3d9dac"/>
<polygon points="1586.5,399 1607.3,435.1 1590.4,460.4 1569.6,424.8" fill="#3d94b6" stroke="#3d94b6"/>
<polygon points="1624.2,407.6 1645,439.6 1628.1,466.5 1607.3,435.1" fill="#3e8fba" stroke="#3e8fba"/>
<polygon points="1661.9,409.9 1682.7,439.1 1665.8,468.1 1645,439.6" fill="#3e8ebc" stroke="#3e8ebc"/>
<polygon points="1699.6,406.3 1720.4,433.4 1703.5,465.5 1682.7,439.1" fill="#3e8fba" stroke="#3e8fba"/>
<polygon points="1737.3,396.2 1758,421.7 1741.2,458.4 1720.4,433.4" fill="#3d95b5" stroke="#3d95b5"/>
<polygon points="1775,378.1 1795.7,402.3 1778.8,445.6 1758,421.7" fill="#3d9eaa" stroke="#3d9eaa"/>
<polygon points="1812.6,349.2 1833.4,371.9 1816.5,425.3 1795.7,402.3" fill="#42a892" stroke="#42a892"/>
<polygon points="1850.3,304.4 1871.1,324.9 1854.2,393.7 1833.4,371.9" fill="#6ab36b" stroke="#6ab36b"/>
<polygon points="1381.2,173.2 1402,290.9 1385.1,308.3 1364.3,185.2" fill="#e5d634" stroke="#e5d634"/>
<polygon points="1418.9,273.4 1439.7,358.3 1422.8,378.2 1402,290.9" fill="#aaab54" stroke="#aaab54"/>
<polygon points="1456.6,337.8 1477.4,402 1460.5,423.2 1439.7,358.3" fill="#50af7b" stroke="#50af7b"/>
<polygon points="1494.3,379.9 1515,430.5 1498.1,452.6 1477.4,402" fill="#3ea2a1" stroke="#3ea2a1"/>
<polygon points="1531.9,407.3 1552.7,449 1535.8,471.7 1515,430.5" fill="#3d96b4" stroke="#3d96b4"/>
<polygon points="1569.6,424.8 1590.4,460.4 1573.5,483.8 1552.7,449" fill="#3e8cbd" stroke="#3e8cbd"/>
<polygon points="1607.3,435.1 1628.1,466.5 1611.2,490.9 1590.4,460.4" fill="#3e85bf" stroke="#3e85bf"/>
<polygon points="1645,439.6 1665.8,468.1 1648.9,494.1 1628.1,466.5" fill="#3d82c0" stroke="#3d82c0"/>
<polygon points="1682.7,439.1 1703.5,465.5 1686.6,493.6 1665.8,468.1" fill="#3d82c0" stroke="#3d82c0"/>
<polygon points="1720.4,433.4 1741.2,458.4 1724.2,489.7 1703.5,465.5" fill="#3e86bf" stroke="#3e86bf"/>
<polygon points="1758,421.7 1778.8,445.6 1761.9,481.6 1741.2,458.4" fill="#3e8cbd" stroke="#3e8cbd"/>
<polygon points="1795.7,402.3 1816.5,425.3 1799.6,468.1 1778.8,445.6" fill="#3d97b3" stroke="#3d97b3"/>
<polygon points="1833.4,371.9 1854.2,393.7 1837.3,447.2 1816.5,425.3" fill="#3ea39d" stroke="#3ea39d"/>
<polygon points="1871.1,324.9 1891.9,344.9 1875,414.8 1854.2,393.7" fill="#55b173" stroke="#55b173"/>
<polygon points="1364.3,185.2 1385.1,308.3 1368.2,325.4 1347.4,197.1" fill="#e6d534" stroke="#e6d534"/>
<polygon points="1402,290.9 1422.8,378.2 1405.9,397.7 1385.1,308.3" fill="#a9ac55" stroke="#a9ac55"/>
<polygon points="1439.7,358.3 1460.5,423.2 1443.6,443.8 1422.8,378.2" fill="#4aac83" stroke="#4aac83"/>
<polygon points="1477.4,402 1498.1,452.6 1481.2,473.6 1460.5,423.2" fill="#3d9eaa" stroke="#3d9eaa"/>
<polygon points="1515,430.5 1535.8,471.7 1518.9,493 1498.1,452.6" fill="#3e8fbb" stroke="#3e8fbb"/>
<polygon points="1552.7,449 1573.5,483.8 1556.6,505.6 1535.8,471.7" fill="#3e84bf" stroke="#3e84bf"/>
<polygon points="1590.4,460.4 1611.2,490.9 1594.3,513.4 1573.5,483.8" fill="#3d7cc0" stroke="#3d7cc0"/>
<polygon points="1628.1,466.5 1648.9,494.1 1632,517.4 1611.2,490.9" fill="#3d79bf" stroke="#3d79bf"/>
<polygon points="1665.8,468.1 1686.6,493.6 1669.7,518.5 1648.9,494.1" fill="#3d78bf" stroke="#3d78bf"/>
<polygon points="1703.5,465.5 1724.2,489.7 1707.3,516.7 1686.6,493.6" fill="#3d79bf" stroke="#3d79bf"/>
<polygon points="1741.2,458.4 1761.9,481.6 1745,511.8 1724.2,489.7" fill="#3d7dc0" stroke="#3d7dc0"/>
<polygon points="1778.8,445.6 1799.6,468.1 1782.7,503.1 1761.9,481.6" fill="#3e84bf" stroke="#3e84bf"/>
<polygon points="1816.5,425.3 1837.3,447.2 1820.4,489.3 1799.6,468.1" fill="#3e90ba" stroke="#3e90ba"/>
<polygon points="1854.2,393.7 1875,414.8 1858.1,468.1 1837.3,447.2" fill="#3e9fa6" stroke="#3e9fa6"/>
<polygon points="1891.9,344.9 1912.7,364.5 1895.8,435.3 1875,414.8" fill="#4fae7c" stroke="#4fae7c"/>
<polygon points="1347.4,197.1 1368.2,325.4 1351.3,342.4 1330.5,209.1" fill="#e7d433" stroke="#e7d433"/>
<polygon points="1385.1,308.3 1405.9,397.7 1389,416.8 1368.2,325.4" fill="#a7ac55" stroke="#a7ac55"/>
<polygon points="1422.8,378.2 1443.6,443.8 1426.7,463.6 1405.9,397.7" fill="#45aa8b" stroke="#45aa8b"/>
<polygon points="1460.5,423.2 1481.2,473.6 1464.3,493.7 1443.6,443.8" fill="#3d9ab1" stroke="#3d9ab1"/>
<polygon points="1498.1,452.6 1518.9,493 1502,513.3 1481.2,473.6" fill="#3e88bf" stroke="#3e88bf"/>
<polygon points="1535.8,471.7 1556.6,505.6 1539.7,526 1518.9,493" fill="#3d7cc0" stroke="#3d7cc0"/>
<polygon points="1573.5,483.8 1594.3,513.4 1577.4,534 1556.6,505.6" fill="#3c77bf" stroke="#3c77bf"/>
<polygon points="1611.2,490.9 1632,517.4 1615.1,538.7 1594.3,513.4" fill="#3c73be" stroke="#3c73be"/>
<polygon points="1648.9,494.1 1669.7,518.5 1652.8,540.7 1632,517.4" fill="#3c71be" stroke="#3c71be"/>
<polygon points="1686.6,493.6 1707.3,516.7 1690.5,540.4 1669.7,518.5" fill="#3c71be" stroke="#3c71be"/>
<polygon points="1724.2,489.7 1745,511.8 1728.1,537.7 1707.3,516.7" fill="#3c73be" stroke="#3c73be"/>
<polygon points="1761.9,481.6 1782.7,503.1 1765.8,532.2 1745,511.8" fill="#3c77bf" stroke="#3c77bf"/>
<polygon points="1799.6,468.1 1820.4,489.3 1803.5,523.3 1782.7,503.1" fill="#3d7dc0" stroke="#3d7dc0"/>
<polygon points="1837.3,447.2 1858.1,468.1 1841.2,509.4 1820.4,489.3" fill="#3e8abf" stroke="#3e8abf"/>
<polygon points="1875,414.8 1895.8,435.3 1878.9,488.1 1858.1,468.1" fill="#3d9caf" stroke="#3d9caf"/>
<polygon points="1912.7,364.5 1933.5,383.8 1916.6,455.1 1895.8,435.3" fill="#4aac84" stroke="#4aac84"/>
<polygon points="1330.5,209.1 1351.3,342.4 1334.4,359.2 1313.6,221.1" fill="#e8d232" stroke="#e8d232"/>
<polygon points="1368.2,325.4 1389,416.8 1372.1,435.5 1351.3,342.4" fill="#a5ad56" stroke="#a5ad56"/>
<polygon points="1405.9,397.7 1426.7,463.6 1409.8,482.9 1389,416.8" fill="#42a793" stroke="#42a793"/>
<polygon points="1443.6,443.8 1464.3,493.7 1447.4,513 1426.7,463.6" fill="#3d94b6" stroke="#3d94b6"/>
<polygon points="1481.2,473.6 1502,513.3 1485.1,532.4 1464.3,493.7" fill="#3d82c0" stroke="#3d82c0"/>
<polygon points="1518.9,493 1539.7,526 1522.8,545.1 1502,513.3" fill="#3d78bf" stroke="#3d78bf"/>
<polygon points="1556.6,505.6 1577.4,534 1560.5,553.3 1539.7,526" fill="#3c71be" stroke="#3c71be"/>
<polygon points="1594.3,513.4 1615.1,538.7 1598.2,558.2 1577.4,534" fill="#3b6ebd" stroke="#3b6ebd"/>
<polygon points="1632,517.4 1652.8,540.7 1635.9,560.8 1615.1,538.7" fill="#3a6bbc" stroke="#3a6bbc"/>
<polygon points="1669.7,518.5 1690.5,540.4 1673.5,561.4 1652.8,540.7" fill="#3a6bbc" stroke="#3a6bbc"/>
<polygon points="1707.3,516.7 1728.1,537.7 1711.2,560.1 1690.5,540.4" fill="#3a6bbc" stroke="#3a6bbc"/>
<polygon points="1745,511.8 1765.8,532.2 1748.9,556.9 1728.1,537.7" fill="#3b6ebd" stroke="#3b6ebd"/>
<polygon points="1782.7,503.1 1803.5,523.3 1786.6,551.2 1765.8,532.2" fill="#3c71be" stroke="#3c71be"/>
<polygon points="1820.4,489.3 1841.2,509.4 1824.3,542.2 1803.5,523.3" fill="#3d78bf" stroke="#3d78bf"/>
<polygon points="1858.1,468.1 1878.9,488.1 1862,528.5 1841.2,509.4" fill="#3d83c0" stroke="#3d83c0"/>
<polygon points="1895.8,435.3 1916.6,455.1 1899.7,507.3 1878.9,488.1" fill="#3d96b4" stroke="#3d96b4"/>
<polygon points="1933.5,383.8 1954.2,402.6 1937.3,474.2 1916.6,455.1" fill="#44aa8b" stroke="#44aa8b"/>
<polygon points="1313.6,221.1 1334.4,359.2 1317.5,375.8 1296.7,233" fill="#e8d032" stroke="#e8d032"/>
<polygon points="1351.3,342.4 1372.1,435.5 1355.2,453.7 1334.4,359.2" fill="#9eaf59" stroke="#9eaf59"/>
<polygon points="1389,416.8 1409.8,482.9 1392.9,501.5 1372.1,435.5" fill="#3fa49b" stroke="#3fa49b"/>
<polygon points="1426.7,463.6 1447.4,513 1430.5,531.5 1409.8,482.9" fill="#3e8fbb" stroke="#3e8fbb"/>
<polygon points="1464.3,493.7 1485.1,532.4 1468.2,550.7 1447.4,513" fill="#3d7dc0" stroke="#3d7dc0"/>
<polygon points="1502,513.3 1522.8,545.1 1505.9,563.2 1485.1,532.4" fill="#3c73be" stroke="#3c73be"/>
<polygon points="1539.7,526 1560.5,553.3 1543.6,571.2 1522.8,545.1" fill="#3a6dbc" stroke="#3a6dbc"/>
<polygon points="1577.4,534 1598.2,558.2 1581.3,576.3 1560.5,553.3" fill="#3969bb" stroke="#3969bb"/>
<polygon points="1615.1,538.7 1635.9,560.8 1619,579.2 1598.2,558.2" fill="#3866b9" stroke="#3866b9"/>
<polygon points="1652.8,540.7 1673.5,561.4 1656.7,580.4 1635.9,560.8" fill="#3764b8" stroke="#3764b8"/>
<polygon points="1690.5,540.4 1711.2,560.1 1694.3,580.1 1673.5,561.4" fill="#3764b8" stroke="#3764b8"/>
<polygon points="1728.1,537.7 1748.9,556.9 1732,578.2 1711.2,560.1" fill="#3866b9" stroke="#3866b9"/>
<polygon points="1765.8,532.2 1786.6,551.2 1769.7,574.7 1748.9,556.9" fill="#3969bb" stroke="#3969bb"/>
<polygon points="1803.5,523.3 1824.3,542.2 1807.4,568.9 1786.6,551.2" fill="#3a6dbc" stroke="#3a6dbc"/>
<polygon points="1841.2,509.4 1862,528.5 1845.1,560.1 1824.3,542.2" fill="#3c73be" stroke="#3c73be"/>
<polygon points="1878.9,488.1 1899.7,507.3 1882.8,546.6 1862,528.5" fill="#3d7dc0" stroke="#3d7dc0"/>
<polygon points="1916.6,455.1 1937.3,474.2 1920.4,525.8 1899.7,507.3" fill="#3e91b9" stroke="#3e91b9"/>
<polygon points="1954.2,402.6 1975,421.1 1958.1,492.8 1937.3,474.2" fill="#42a793" stroke="#42a793"/>
<polygon points="1296.7,233 1317.5,375.8 1300.6,392.3 1279.8,245" fill="#e9ce32" stroke="#e9ce32"/>
<polygon points="1334.4,359.2 1355.2,453.7 1338.3,471.7 1317.5,375.8" fill="#96b15d" stroke="#96b15d"/>
<polygon points="1372.1,435.5 1392.9,501.5 1376,519.6 1355.2,453.7" fill="#3ea2a1" stroke="#3ea2a1"/>
<polygon points="1409.8,482.9 1430.5,531.5 1413.6,549.4 1392.9,501.5" fill="#3e8abf" stroke="#3e8abf"/>
<polygon points="1447.4,513 1468.2,550.7 1451.3,568.2 1430.5,531.5" fill="#3d79bf" stroke="#3d79bf"/>
<polygon points="1485.1,532.4 1505.9,563.2 1489,580.4 1468.2,550.7" fill="#3b6fbd" stroke="#3b6fbd"/>
<polygon points="1522.8,545.1 1543.6,571.2 1526.7,588.2 1505.9,563.2" fill="#3969bb" stroke="#3969bb"/>
<polygon points="1560.5,553.3 1581.3,576.3 1564.4,593.2 1543.6,571.2" fill="#3764b8" stroke="#3764b8"/>
<polygon points="1598.2,558.2 1619,579.2 1602.1,596.2 1581.3,576.3" fill="#3661b6" stroke="#3661b6"/>
<polygon points="1635.9,560.8 1656.7,580.4 1639.8,597.7 1619,579.2" fill="#365fb5" stroke="#365fb5"/>
<polygon points="1673.5,561.4 1694.3,580.1 1677.4,598 1656.7,580.4" fill="#355eb5" stroke="#355eb5"/>
<polygon points="1711.2,560.1 1732,578.2 1715.1,597.1 1694.3,580.1" fill="#365fb5" stroke="#365fb5"/>
<polygon points="1748.9,556.9 1769.7,574.7 1752.8,594.9 1732,578.2" fill="#3660b6" stroke="#3660b6"/>
<polygon points="1786.6,551.2 1807.4,568.9 1790.5,591.3 1769.7,574.7" fill="#3764b8" stroke="#3764b8"/>
<polygon points="1824.3,542.2 1845.1,560.1 1828.2,585.6 1807.4,568.9" fill="#3969bb" stroke="#3969bb"/>
<polygon points="1862,528.5 1882.8,546.6 1865.9,577 1845.1,560.1" fill="#3b6fbd" stroke="#3b6fbd"/>
<polygon points="1899.7,507.3 1920.4,525.8 1903.5,563.9 1882.8,546.6" fill="#3d79bf" stroke="#3d79bf"/>
<polygon points="1937.3,474.2 1958.1,492.8 1941.2,543.5 1920.4,525.8" fill="#3e8cbd" stroke="#3e8cbd"/>
<polygon points="1975,421.1 1995.8,439.3 1978.9,510.9 1958.1,492.8" fill="#3fa49b" stroke="#3fa49b"/>
<polygon points="1279.8,245 1300.6,392.3 1290.4,402.1 1269.7,252.2" fill="#e9cc32" stroke="#e9cc32"/>
<polygon points="1317.5,375.8 1338.3,471.7 1321.4,489.2 1300.6,392.3" fill="#87b362" stroke="#87b362"/>
<polygon points="1355.2,453.7 1376,519.6 1359.1,537.2 1338.3,471.7" fill="#3d9fa7" stroke="#3d9fa7"/>
<polygon points="1392.9,501.5 1413.6,549.4 1396.7,566.6 1376,519.6" fill="#3e85bf" stroke="#3e85bf"/>
<polygon points="1430.5,531.5 1451.3,568.2 1434.4,585 1413.6,549.4" fill="#3c75bf" stroke="#3c75bf"/>
<polygon points="1468.2,550.7 1489,580.4 1472.1,596.7 1451.3,568.2" fill="#3a6cbc" stroke="#3a6cbc"/>
<polygon points="1505.9,563.2 1526.7,588.2 1509.8,604.3 1489,580.4" fill="#3865b9" stroke="#3865b9"/>
<polygon points="1543.6,571.2 1564.4,593.2 1547.5,609.1 1526.7,588.2" fill="#365fb5" stroke="#365fb5"/>
<polygon points="1581.3,576.3 1602.1,596.2 1585.2,612.1 1564.4,593.2" fill="#355bb2" stroke="#355bb2"/>
<polygon points="1619,579.2 1639.8,597.7 1622.8,613.7 1602.1,596.2" fill="#3457af" stroke="#3457af"/>
<polygon points="1656.7,580.4 1677.4,598 1660.5,614.3 1639.8,597.7" fill="#3355ad" stroke="#3355ad"/>
<polygon points="1694.3,580.1 1715.1,597.1 1698.2,614 1677.4,598" fill="#3355ad" stroke="#3355ad"/>
<polygon points="1732,578.2 1752.8,594.9 1735.9,612.8 1715.1,597.1" fill="#3457af" stroke="#3457af"/>
<polygon points="1769.7,574.7 1790.5,591.3 1773.6,610.5 1752.8,594.9" fill="#355bb2" stroke="#355bb2"/>
<polygon points="1807.4,568.9 1828.2,585.6 1811.3,606.9 1790.5,591.3" fill="#365fb5" stroke="#365fb5"/>
<polygon points="1845.1,560.1 1865.9,577 1849,601.4 1828.2,585.6" fill="#3764b8" stroke="#3764b8"/>
<polygon points="1882.8,546.6 1903.5,563.9 1886.6,593.1 1865.9,577" fill="#3a6cbc" stroke="#3a6cbc"/>
<polygon points="1920.4,525.8 1941.2,543.5 1924.3,580.5 1903.5,563.9" fill="#3c75bf" stroke="#3c75bf"/>
<polygon points="1958.1,492.8 1978.9,510.9 1962,560.7 1941.2,543.5" fill="#3e87bf" stroke="#3e87bf"/>
<polygon points="1995.8,439.3 2016.6,619.5 1999.7,630.4 1978.9,510.9" fill="#3ea2a1" stroke="#3ea2a1"/>
<polygon points="1300.6,392.3 1321.4,489.2 1311.2,499.6 1290.4,402.1" fill="#78b467" stroke="#78b467"/>
<polygon points="1338.3,471.7 1359.1,537.2 1342.2,554.4 1321.4,489.2" fill="#3d9dac" stroke="#3d9dac"/>
<polygon points="1376,519.6 1396.7,566.6 1379.8,583.3 1359.1,537.2" fill="#3d81c0" stroke="#3d81c0"/>
<polygon points="1413.6,549.4 1434.4,585 1417.5,601.1 1396.7,566.6" fill="#3c72be" stroke="#3c72be"/>
<polygon points="1451.3,568.2 1472.1,596.7 1455.2,612.4 1434.4,585" fill="#3969bb" stroke="#3969bb"/>
<polygon points="1489,580.4 1509.8,604.3 1492.9,619.6 1472.1,596.7" fill="#3661b6" stroke="#3661b6"/>
<polygon points="1526.7,588.2 1547.5,609.1 1530.6,624.2 1509.8,604.3" fill="#345bb2" stroke="#345bb2"/>
<polygon points="1564.4,593.2 1585.2,612.1 1568.3,627.1 1547.5,609.1" fill="#3354ac" stroke="#3354ac"/>
<polygon points="1602.1,596.2 1622.8,613.7 1606,628.7 1585.2,612.1" fill="#3250a9" stroke="#3250a9"/>
<polygon points="1639.8,597.7 1660.5,614.3 1643.6,629.5 1622.8,613.7" fill="#324da7" stroke="#324da7"/>
<polygon points="1677.4,598 1698.2,614 1681.3,629.5 1660.5,614.3" fill="#324da6" stroke="#324da6"/>
<polygon points="1715.1,597.1 1735.9,612.8 1719,628.8 1698.2,614" fill="#324da7" stroke="#324da7"/>
<polygon points="1752.8,594.9 1773.6,610.5 1756.7,627.4 1735.9,612.8" fill="#324fa8" stroke="#324fa8"/>
<polygon points="1790.5,591.3 1811.3,606.9 1794.4,625.1 1773.6,610.5" fill="#3353ac" stroke="#3353ac"/>
<polygon points="1828.2,585.6 1849,601.4 1832.1,621.6 1811.3,606.9" fill="#345ab1" stroke="#345ab1"/>
<polygon points="1865.9,577 1886.6,593.1 1869.7,616.4 1849,601.4" fill="#3660b6" stroke="#3660b6"/>
<polygon points="1903.5,563.9 1924.3,580.5 1907.4,608.6 1886.6,593.1" fill="#3968bb" stroke="#3968bb"/>
<polygon points="1941.2,543.5 1962,560.7 1945.1,596.4 1924.3,580.5" fill="#3c72be" stroke="#3c72be"/>
<polygon points="1978.9,510.9 1999.7,630.4 1982.8,641.3 1962,560.7" fill="#3d82c0" stroke="#3d82c0"/>
<polygon points="1321.4,489.2 1342.2,554.4 1332,564.5 1311.2,499.6" fill="#3d9ab1" stroke="#3d9ab1"/>
<polygon points="1359.1,537.2 1379.8,583.3 1362.9,599.4 1342.2,554.4" fill="#3d7dc0" stroke="#3d7dc0"/>
<polygon points="1396.7,566.6 1417.5,601.1 1400.6,616.7 1379.8,583.3" fill="#3b6fbd" stroke="#3b6fbd"/>
<polygon points="1434.4,585 1455.2,612.4 1438.3,627.5 1417.5,601.1" fill="#3865b9" stroke="#3865b9"/>
<polygon points="1472.1,596.7 1492.9,619.6 1476,634.3 1455.2,612.4" fill="#355db4" stroke="#355db4"/>
<polygon points="1509.8,604.3 1530.6,624.2 1513.7,638.6 1492.9,619.6" fill="#3354ad" stroke="#3354ad"/>
<polygon points="1547.5,609.1 1568.3,627.1 1551.4,641.3 1530.6,624.2" fill="#324ea7" stroke="#324ea7"/>
<polygon points="1585.2,612.1 1606,628.7 1589,642.9 1568.3,627.1" fill="#314aa3" stroke="#314aa3"/>
<polygon points="1622.8,613.7 1643.6,629.5 1626.7,643.7 1606,628.7" fill="#3047a0" stroke="#3047a0"/>
<polygon points="1660.5,614.3 1681.3,629.5 1664.4,643.9 1643.6,629.5" fill="#30459f" stroke="#30459f"/>
<polygon points="1698.2,614 1719,628.8 1702.1,643.6 1681.3,629.5" fill="#30459f" stroke="#30459f"/>
<polygon points="1735.9,612.8 1756.7,627.4 1739.8,642.7 1719,628.8" fill="#3046a0" stroke="#3046a0"/>
<polygon points="1773.6,610.5 1794.4,625.1 1777.5,641.2 1756.7,627.4" fill="#3149a3" stroke="#3149a3"/>
<polygon points="1811.3,606.9 1832.1,621.6 1815.2,639 1794.4,625.1" fill="#324da7" stroke="#324da7"/>
<polygon points="1849,601.4 1869.7,616.4 1852.8,635.7 1832.1,621.6" fill="#3353ac" stroke="#3353ac"/>
<polygon points="1886.6,593.1 1907.4,608.6 1890.5,630.8 1869.7,616.4" fill="#355db4" stroke="#355db4"/>
<polygon points="1924.3,580.5 1945.1,596.4 1928.2,623.3 1907.4,608.6" fill="#3865b8" stroke="#3865b8"/>
<polygon points="1962,560.7 1982.8,641.3 1965.9,652.3 1945.1,596.4" fill="#3b6fbd" stroke="#3b6fbd"/>
<polygon points="1342.2,554.4 1362.9,599.4 1352.8,608.9 1332,564.5" fill="#3d7abf" stroke="#3d7abf"/>
<polygon points="1379.8,583.3 1400.6,616.7 1383.7,631.8 1362.9,599.4" fill="#3a6cbc" stroke="#3a6cbc"/>
<polygon points="1417.5,601.1 1438.3,627.5 1421.4,642 1400.6,616.7" fill="#3762b7" stroke="#3762b7"/>
<polygon points="1455.2,612.4 1476,634.3 1459.1,648.4 1438.3,627.5" fill="#3458b0" stroke="#3458b0"/>
<polygon points="1492.9,619.6 1513.7,638.6 1496.8,652.4 1476,634.3" fill="#324fa8" stroke="#324fa8"/>
<polygon points="1530.6,624.2 1551.4,641.3 1534.5,654.9 1513.7,638.6" fill="#3148a2" stroke="#3148a2"/>
<polygon points="1568.3,627.1 1589,642.9 1572.2,656.4 1551.4,641.3" fill="#30449d" stroke="#30449d"/>
<polygon points="1606,628.7 1626.7,643.7 1609.8,657.2 1589,642.9" fill="#2f419a" stroke="#2f419a"/>
<polygon points="1643.6,629.5 1664.4,643.9 1647.5,657.5 1626.7,643.7" fill="#2f3f98" stroke="#2f3f98"/>
<polygon points="1681.3,629.5 1702.1,643.6 1685.2,657.4 1664.4,643.9" fill="#2f3f97" stroke="#2f3f97"/>
<polygon points="1719,628.8 1739.8,642.7 1722.9,656.8 1702.1,643.6" fill="#2f3f98" stroke="#2f3f98"/>
<polygon points="1756.7,627.4 1777.5,641.2 1760.6,655.9 1739.8,642.7" fill="#2f4199" stroke="#2f4199"/>
<polygon points="1794.4,625.1 1815.2,639 1798.3,654.4 1777.5,641.2" fill="#30439c" stroke="#30439c"/>
<polygon points="1832.1,621.6 1852.8,635.7 1835.9,652.3 1815.2,639" fill="#3147a1" stroke="#3147a1"/>
<polygon points="1869.7,616.4 1890.5,630.8 1873.6,649.1 1852.8,635.7" fill="#324ea7" stroke="#324ea7"/>
<polygon points="1907.4,608.6 1928.2,623.3 1911.3,644.6 1890.5,630.8" fill="#3457af" stroke="#3457af"/>
<polygon points="1945.1,596.4 1965.9,652.3 1949,663.2 1928.2,623.3" fill="#3661b6" stroke="#3661b6"/>
<polygon points="1362.9,599.4 1383.7,631.8 1373.6,640.6 1352.8,608.9" fill="#396abb" stroke="#396abb"/>
<polygon points="1400.6,616.7 1421.4,642 1404.5,656.1 1383.7,631.8" fill="#365fb5" stroke="#365fb5"/>
<polygon points="1438.3,627.5 1459.1,648.4 1442.2,662.1 1421.4,642" fill="#3353ac" stroke="#3353ac"/>
<polygon points="1476,634.3 1496.8,652.4 1479.9,665.8 1459.1,648.4" fill="#314aa4" stroke="#314aa4"/>
<polygon points="1513.7,638.6 1534.5,654.9 1517.6,668.1 1496.8,652.4" fill="#30449d" stroke="#30449d"/>
<polygon points="1551.4,641.3 1572.2,656.4 1555.2,669.4 1534.5,654.9" fill="#2f3f98" stroke="#2f3f98"/>
<polygon points="1589,642.9 1609.8,657.2 1592.9,670.2 1572.2,656.4" fill="#2e3d95" stroke="#2e3d95"/>
<polygon points="1626.7,643.7 1647.5,657.5 1630.6,670.5 1609.8,657.2" fill="#2e3b93" stroke="#2e3b93"/>
<polygon points="1664.4,643.9 1685.2,657.4 1668.3,670.4 1647.5,657.5" fill="#2e3a92" stroke="#2e3a92"/>
<polygon points="1702.1,643.6 1722.9,656.8 1706,670.1 1685.2,657.4" fill="#2e3a92" stroke="#2e3a92"/>
<polygon points="1739.8,642.7 1760.6,655.9 1743.7,669.4 1722.9,656.8" fill="#2e3b93" stroke="#2e3b93"/>
<polygon points="1777.5,641.2 1798.3,654.4 1781.4,668.4 1760.6,655.9" fill="#2e3c94" stroke="#2e3c94"/>
<polygon points="1815.2,639 1835.9,652.3 1819,667 1798.3,654.4" fill="#2f3f97" stroke="#2f3f97"/>
<polygon points="1852.8,635.7 1873.6,649.1 1856.7,665 1835.9,652.3" fill="#30439c" stroke="#30439c"/>
<polygon points="1890.5,630.8 1911.3,644.6 1894.4,662.1 1873.6,649.1" fill="#3149a3" stroke="#3149a3"/>
<polygon points="1928.2,623.3 1949,663.2 1932.1,674.1 1911.3,644.6" fill="#3352aa" stroke="#3352aa"/>
<polygon points="1383.7,631.8 1404.5,656.1 1394.4,664.4 1373.6,640.6" fill="#355cb3" stroke="#355cb3"/>
<polygon points="1421.4,642 1442.2,662.1 1425.3,675.4 1404.5,656.1" fill="#324fa8" stroke="#324fa8"/>
<polygon points="1459.1,648.4 1479.9,665.8 1463,678.8 1442.2,662.1" fill="#30469f" stroke="#30469f"/>
<polygon points="1496.8,652.4 1517.6,668.1 1500.7,680.8 1479.9,665.8" fill="#2f4098" stroke="#2f4098"/>
<polygon points="1534.5,654.9 1555.2,669.4 1538.3,682 1517.6,668.1" fill="#2e3c94" stroke="#2e3c94"/>
<polygon points="1572.2,656.4 1592.9,670.2 1576,682.7 1555.2,669.4" fill="#2e3991" stroke="#2e3991"/>
<polygon points="1609.8,657.2 1630.6,670.5 1613.7,683 1592.9,670.2" fill="#2e3890" stroke="#2e3890"/>
<polygon points="1647.5,657.5 1668.3,670.4 1651.4,683 1630.6,670.5" fill="#2e378f" stroke="#2e378f"/>
<polygon points="1685.2,657.4 1706,670.1 1689.1,682.7 1668.3,670.4" fill="#2d378e" stroke="#2d378e"/>
<polygon points="1722.9,656.8 1743.7,669.4 1726.8,682.2 1706,670.1" fill="#2e378f" stroke="#2e378f"/>
<polygon points="1760.6,655.9 1781.4,668.4 1764.5,681.5 1743.7,669.4" fill="#2e388f" stroke="#2e388f"/>
<polygon points="1798.3,654.4 1819,667 1802.1,680.6 1781.4,668.4" fill="#2e3991" stroke="#2e3991"/>
<polygon points="1835.9,652.3 1856.7,665 1839.8,679.2 1819,667" fill="#2e3b93" stroke="#2e3b93"/>
<polygon points="1873.6,649.1 1894.4,662.1 1877.5,677.4 1856.7,665" fill="#2f3f97" stroke="#2f3f97"/>
<polygon points="1911.3,644.6 1932.1,674.1 1915.2,685.1 1894.4,662.1" fill="#30449e" stroke="#30449e"/>
<polygon points="1404.5,656.1 1425.3,675.4 1415.2,683.2 1394.4,664.4" fill="#314ba5" stroke="#314ba5"/>
<polygon points="1442.2,662.1 1463,678.8 1446.1,691.4 1425.3,675.4" fill="#2f429b" stroke="#2f429b"/>
<polygon points="1479.9,665.8 1500.7,680.8 1483.8,693.2 1463,678.8" fill="#2e3c95" stroke="#2e3c95"/>
<polygon points="1517.6,668.1 1538.3,682 1521.5,694.3 1500.7,680.8" fill="#2e3991" stroke="#2e3991"/>
<polygon points="1555.2,669.4 1576,682.7 1559.1,694.9 1538.3,682" fill="#2e378f" stroke="#2e378f"/>
<polygon points="1592.9,670.2 1613.7,683 1596.8,695.1 1576,682.7" fill="#2d368d" stroke="#2d368d"/>
<polygon points="1630.6,670.5 1651.4,683 1634.5,695.1 1613.7,683" fill="#2d368c" stroke="#2d368c"/>
<polygon points="1668.3,670.4 1689.1,682.7 1672.2,694.9 1651.4,683" fill="#2d358c" stroke="#2d358c"/>
<polygon points="1706,670.1 1726.8,682.2 1709.9,694.5 1689.1,682.7" fill="#2d358c" stroke="#2d358c"/>
<polygon points="1743.7,669.4 1764.5,681.5 1747.6,694 1726.8,682.2" fill="#2d358c" stroke="#2d358c"/>
<polygon points="1781.4,668.4 1802.1,680.6 1785.2,693.3 1764.5,681.5" fill="#2d368d" stroke="#2d368d"/>
<polygon points="1819,667 1839.8,679.2 1822.9,692.3 1802.1,680.6" fill="#2d378e" stroke="#2d378e"/>
<polygon points="1856.7,665 1877.5,677.4 1860.6,691.1 1839.8,679.2" fill="#2e3890" stroke="#2e3890"/>
<polygon points="1894.4,662.1 1915.2,685.1 1898.3,696 1877.5,677.4" fill="#2e3b93" stroke="#2e3b93"/>
<polygon points="1425.3,675.4 1446.1,691.4 1435.9,698.8 1415.2,683.2" fill="#2f3f97" stroke="#2f3f97"/>
<polygon points="1463,678.8 1483.8,693.2 1466.9,705.4 1446.1,691.4" fill="#2e3a92" stroke="#2e3a92"/>
<polygon points="1500.7,680.8 1521.5,694.3 1504.5,706.3 1483.8,693.2" fill="#2e378f" stroke="#2e378f"/>
<polygon points="1538.3,682 1559.1,694.9 1542.2,706.8 1521.5,694.3" fill="#2d368d" stroke="#2d368d"/>
<polygon points="1576,682.7 1596.8,695.1 1579.9,707 1559.1,694.9" fill="#2d358b" stroke="#2d358b"/>
<polygon points="1613.7,683 1634.5,695.1 1617.6,706.9 1596.8,695.1" fill="#2d348a" stroke="#2d348a"/>
<polygon points="1651.4,683 1672.2,694.9 1655.3,706.7 1634.5,695.1" fill="#2d348a" stroke="#2d348a"/>
<polygon points="1689.1,682.7 1709.9,694.5 1693,706.4 1672.2,694.9" fill="#2d348a" stroke="#2d348a"/>
<polygon points="1726.8,682.2 1747.6,694 1730.7,706 1709.9,694.5" fill="#2d348a" stroke="#2d348a"/>
<polygon points="1764.5,681.5 1785.2,693.3 1768.3,705.4 1747.6,694" fill="#2d348a" stroke="#2d348a"/>
<polygon points="1802.1,680.6 1822.9,692.3 1806,704.7 1785.2,693.3" fill="#2d348b" stroke="#2d348b"/>
<polygon points="1839.8,679.2 1860.6,691.1 1843.7,703.8 1822.9,692.3" fill="#2d358c" stroke="#2d358c"/>
<polygon points="1877.5,677.4 1898.3,696 1881.4,706.9 1860.6,691.1" fill="#2d378e" stroke="#2d378e"/>
<polygon points="1446.1,691.4 1466.9,705.4 1456.7,712.6 1435.9,698.8" fill="#2e388f" stroke="#2e388f"/>
<polygon points="1483.8,693.2 1504.5,706.3 1487.7,718.1 1466.9,705.4" fill="#2d368d" stroke="#2d368d"/>
<polygon points="1521.5,694.3 1542.2,706.8 1525.3,718.5 1504.5,706.3" fill="#2d348b" stroke="#2d348b"/>
<polygon points="1559.1,694.9 1579.9,707 1563,718.6 1542.2,706.8" fill="#2d348a" stroke="#2d348a"/>
<polygon points="1596.8,695.1 1617.6,706.9 1600.7,718.5 1579.9,707" fill="#2d3389" stroke="#2d3389"/>
<polygon points="1634.5,695.1 1655.3,706.7 1638.4,718.3 1617.6,706.9" fill="#2d3389" stroke="#2d3389"/>
<polygon points="1672.2,694.9 1693,706.4 1676.1,718 1655.3,706.7" fill="#2d3288" stroke="#2d3288"/>
<polygon points="1709.9,694.5 1730.7,706 1713.8,717.7 1693,706.4" fill="#2d3288" stroke="#2d3288"/>
<polygon points="1747.6,694 1768.3,705.4 1751.4,717.2 1730.7,706" fill="#2d3288" stroke="#2d3288"/>
<polygon points="1785.2,693.3 1806,704.7 1789.1,716.6 1768.3,705.4" fill="#2d3389" stroke="#2d3389"/>
<polygon points="1822.9,692.3 1843.7,703.8 1826.8,715.9 1806,704.7" fill="#2d3389" stroke="#2d3389"/>
<polygon points="1860.6,691.1 1881.4,706.9 1864.5,717.8 1843.7,703.8" fill="#2d348a" stroke="#2d348a"/>
<polygon points="1466.9,705.4 1487.7,718.1 1477.5,725.1 1456.7,712.6" fill="#2d358b" stroke="#2d358b"/>
<polygon points="1504.5,706.3 1525.3,718.5 1508.4,730 1487.7,718.1" fill="#2d338a" stroke="#2d338a"/>
<polygon points="1542.2,706.8 1563,718.6 1546.1,730.1 1525.3,718.5" fill="#2d3389" stroke="#2d3389"/>
<polygon points="1579.9,707 1600.7,718.5 1583.8,730 1563,718.6" fill="#2d3288" stroke="#2d3288"/>
<polygon points="1617.6,706.9 1638.4,718.3 1621.5,729.8 1600.7,718.5" fill="#2c3287" stroke="#2c3287"/>
<polygon points="1655.3,706.7 1676.1,718 1659.2,729.5 1638.4,718.3" fill="#2c3187" stroke="#2c3187"/>
<polygon points="1693,706.4 1713.8,717.7 1696.9,729.1 1676.1,718" fill="#2c3187" stroke="#2c3187"/>
<polygon points="1730.7,706 1751.4,717.2 1734.5,728.7 1713.8,717.7" fill="#2c3187" stroke="#2c3187"/>
<polygon points="1768.3,705.4 1789.1,716.6 1772.2,728.2 1751.4,717.2" fill="#2c3287" stroke="#2c3287"/>
<polygon points="1806,704.7 1826.8,715.9 1809.9,727.7 1789.1,716.6" fill="#2d3288" stroke="#2d3288"/>
<polygon points="1843.7,703.8 1864.5,717.8 1847.6,728.8 1826.8,715.9" fill="#2d3288" stroke="#2d3288"/>
<polygon points="1487.7,718.1 1508.4,730 1498.3,736.9 1477.5,725.1" fill="#2d3389" stroke="#2d3389"/>
<polygon points="1525.3,718.5 1546.1,730.1 1529.2,741.4 1508.4,730" fill="#2d3288" stroke="#2d3288"/>
<polygon points="1563,718.6 1583.8,730 1566.9,741.3 1546.1,730.1" fill="#2c3187" stroke="#2c3187"/>
<polygon points="1600.7,718.5 1621.5,729.8 1604.6,741.1 1583.8,730" fill="#2c3187" stroke="#2c3187"/>
<polygon points="1638.4,718.3 1659.2,729.5 1642.3,740.8 1621.5,729.8" fill="#2c3186" stroke="#2c3186"/>
<polygon points="1676.1,718 1696.9,729.1 1680,740.4 1659.2,729.5" fill="#2c3186" stroke="#2c3186"/>
<polygon points="1713.8,717.7 1734.5,728.7 1717.6,740 1696.9,729.1" fill="#2c3186" stroke="#2c3186"/>
<polygon points="1751.4,717.2 1772.2,728.2 1755.3,739.6 1734.5,728.7" fill="#2c3186" stroke="#2c3186"/>
<polygon points="1789.1,716.6 1809.9,727.7 1793,739.1 1772.2,728.2" fill="#2c3186" stroke="#2c3186"/>
<polygon points="1826.8,715.9 1847.6,728.8 1830.7,739.7 1809.9,727.7" fill="#2c3187" stroke="#2c3187"/>
<polygon points="1508.4,730 1529.2,741.4 1519.1,748.2 1498.3,736.9" fill="#2c3187" stroke="#2c3187"/>
<polygon points="1546.1,730.1 1566.9,741.3 1550,752.5 1529.2,741.4" fill="#2c3186" stroke="#2c3186"/>
<polygon points="1583.8,730 1604.6,741.1 1587.7,752.3 1566.9,741.3" fill="#2c3186" stroke="#2c3186"/>
<polygon points="1621.5,729.8 1642.3,740.8 1625.4,751.9 1604.6,741.1" fill="#2c3086" stroke="#2c3086"/>
<polygon points="1659.2,729.5 1680,740.4 1663.1,751.6 1642.3,740.8" fill="#2c3086" stroke="#2c3086"/>
<polygon points="1696.9,729.1 1717.6,740 1700.7,751.2 1680,740.4" fill="#2c3086" stroke="#2c3086"/>
<polygon points="1734.5,728.7 1755.3,739.6 1738.4,750.8 1717.6,740" fill="#2c3086" stroke="#2c3086"/>
<polygon points="1772.2,728.2 1793,739.1 1776.1,750.4 1755.3,739.6" fill="#2c3086" stroke="#2c3086"/>
<polygon points="1809.9,727.7 1830.7,739.7 1813.8,750.6 1793,739.1" fill="#2c3086" stroke="#2c3086"/>
<polygon points="1529.2,741.4 1550,752.5 1539.9,759.2 1519.1,748.2" fill="#2c3086" stroke="#2c3086"/>
<polygon points="1566.9,741.3 1587.7,752.3 1570.8,763.4 1550,752.5" fill="#2c3086" stroke="#2c3086"/>
<polygon points="1604.6,741.1 1625.4,751.9 1608.5,763.1 1587.7,752.3" fill="#2c3085" stroke="#2c3085"/>
<polygon points="1642.3,740.8 1663.1,751.6 1646.2,762.7 1625.4,751.9" fill="#2c3085" stroke="#2c3085"/>
<polygon points="1680,740.4 1700.7,751.2 1683.8,762.3 1663.1,751.6" fill="#2c3085" stroke="#2c3085"/>
<polygon points="1717.6,740 1738.4,750.8 1721.5,761.9 1700.7,751.2" fill="#2c3085" stroke="#2c3085"/>
<polygon points="1755.3,739.6 1776.1,750.4 1759.2,761.5 1738.4,750.8" fill="#2c3085" stroke="#2c3085"/>
<polygon points="1793,739.1 1813.8,750.6 1796.9,761.5 1776.1,750.4" fill="#2c3085" stroke="#2c3085"/>
<polygon points="1550,752.5 1570.8,763.4 1560.7,770 1539.9,759.2" fill="#2c3085" stroke="#2c3085"/>
<polygon points="1587.7,752.3 1608.5,763.1 1591.6,774.1 1570.8,763.4" fill="#2c3085" stroke="#2c3085"/>
<polygon points="1625.4,751.9 1646.2,762.7 1629.3,773.8 1608.5,763.1" fill="#2c3085" stroke="#2c3085"/>
<polygon points="1663.1,751.6 1683.8,762.3 1666.9,773.4 1646.2,762.7" fill="#2c3085" stroke="#2c3085"/>
<polygon points="1700.7,751.2 1721.5,761.9 1704.6,773 1683.8,762.3" fill="#2c3085" stroke="#2c3085"/>
<polygon points="1738.4,750.8 1759.2,761.5 1742.3,772.6 1721.5,761.9" fill="#2c3085" stroke="#2c3085"/>
<polygon points="1776.1,750.4 1796.9,761.5 1780,772.5 1759.2,761.5" fill="#2c3085" stroke="#2c3085"/>
<polygon points="1570.8,763.4 1591.6,774.1 1581.4,780.8 1560.7,770" fill="#2c3085" stroke="#2c3085"/>
<polygon points="1608.5,763.1 1629.3,773.8 1612.4,784.8 1591.6,774.1" fill="#2c2f85" stroke="#2c2f85"/>
<polygon points="1646.2,762.7 1666.9,773.4 1650,784.4 1629.3,773.8" fill="#2c2f85" stroke="#2c2f85"/>
<polygon points="1683.8,762.3 1704.6,773 1687.7,784 1666.9,773.4" fill="#2c2f85" stroke="#2c2f85"/>
<polygon points="1721.5,761.9 1742.3,772.6 1725.4,783.6 1704.6,773" fill="#2c2f85" stroke="#2c2f85"/>
<polygon points="1759.2,761.5 1780,772.5 1763.1,783.4 1742.3,772.6" fill="#2c2f85" stroke="#2c2f85"/>
<polygon points="1591.6,774.1 1612.4,784.8 1602.2,791.4 1581.4,780.8" fill="#2c2f84" stroke="#2c2f84"/>
<polygon points="1629.3,773.8 1650,784.4 1633.1,795.4 1612.4,784.8" fill="#2c2f84" stroke="#2c2f84"/>
<polygon points="1666.9,773.4 1687.7,784 1670.8,795 1650,784.4" fill="#2c2f84" stroke="#2c2f84"/>
<polygon points="1704.6,773 1725.4,783.6 1708.5,794.6 1687.7,784" fill="#2c2f84" stroke="#2c2f84"/>
<polygon points="1742.3,772.6 1763.1,783.4 1746.2,794.3 1725.4,783.6" fill="#2c2f84" stroke="#2c2f84"/>
<polygon points="1612.4,784.8 1633.1,795.4 1623,802 1602.2,791.4" fill="#2c2f84" stroke="#2c2f84"/>
<polygon points="1650,784.4 1670.8,795 1653.9,806 1633.1,795.4" fill="#2c2f84" stroke="#2c2f84"/>
<polygon points="1687.7,784 1708.5,794.6 1691.6,805.6 1670.8,795" fill="#2c2f84" stroke="#2c2f84"/>
<polygon points="1725.4,783.6 1746.2,794.3 1729.3,805.3 1708.5,794.6" fill="#2c2f84" stroke="#2c2f84"/>
<polygon points="1633.1,795.4 1653.9,806 1643.8,812.6 1623,802" fill="#2c2f84" stroke="#2c2f84"/>
<polygon points="1670.8,795 1691.6,805.6 1674.7,816.5 1653.9,806" fill="#2c2f84" stroke="#2c2f84"/>
<polygon points="1708.5,794.6 1729.3,805.3 1712.4,816.2 1691.6,805.6" fill="#2c2f84" stroke="#2c2f84"/>
<polygon points="1653.9,806 1674.7,816.5 1664.6,823.1 1643.8,812.6" fill="#2c2f84" stroke="#2c2f84"/>
<polygon points="1691.6,805.6 1712.4,816.2 1695.5,827.1 1674.7,816.5" fill="#2c2f84" stroke="#2c2f84"/>
<polygon points="1674.7,816.5 1695.5,827.1 1685.4,833.7 1664.6,823.1" fill="#2c2f84" stroke="#2c2f84"/>
</g></g>
<g stroke="#161616" stroke-width="1.15" stroke-linejoin="round" fill="none">
<polyline points="1607.5,26.3 1587.5,35.7 1569.1,45.8 1551.3,56.3 1533.8,67 1516.5,77.7 1499.5,89.4 1482.6,101.4 1465.7,113.3 1448.8,125.3 1431.9,137.3 1415,149.3 1398.1,161.2 1381.2,173.2 1364.3,185.2 1347.4,197.1 1330.5,209.1 1313.6,221.1 1296.7,233 1279.8,245 1269.7,252.2"/>
<polyline points="1621.7,45 1604.8,65.4 1587.9,85.6 1571,105.5 1554.1,125.2 1537.2,144.5 1520.3,163.6 1503.4,182.5 1486.5,201.1 1469.6,219.5 1452.7,237.7 1435.8,255.6 1418.9,273.4 1402,290.9 1385.1,308.3 1368.2,325.4 1351.3,342.4 1334.4,359.2 1317.5,375.8 1300.6,392.3 1290.4,402.1"/>
<polyline points="1642.5,71.6 1625.6,99.7 1608.7,126.8 1591.8,153.1 1574.9,178.6 1558,203.4 1541.1,227.3 1524.2,250.7 1507.3,273.3 1490.4,295.4 1473.5,316.9 1456.6,337.8 1439.7,358.3 1422.8,378.2 1405.9,397.7 1389,416.8 1372.1,435.5 1355.2,453.7 1338.3,471.7 1321.4,489.2 1311.2,499.6"/>
<polyline points="1663.3,97.6 1646.4,132.4 1629.5,165.4 1612.6,196.8 1595.7,226.6 1578.8,255.1 1561.9,282.3 1545,308.2 1528.1,333.1 1511.2,357 1494.3,379.9 1477.4,402 1460.5,423.2 1443.6,443.8 1426.7,463.6 1409.8,482.9 1392.9,501.5 1376,519.6 1359.1,537.2 1342.2,554.4 1332,564.5"/>
<polyline points="1684,122.9 1667.1,163.6 1650.2,201.6 1633.3,236.9 1616.4,269.9 1599.5,300.8 1582.6,329.8 1565.7,357.1 1548.8,382.9 1531.9,407.3 1515,430.5 1498.1,452.6 1481.2,473.6 1464.3,493.7 1447.4,513 1430.5,531.5 1413.6,549.4 1396.7,566.6 1379.8,583.3 1362.9,599.4 1352.8,608.9"/>
<polyline points="1704.8,147.5 1687.9,193.6 1671,235.5 1654.1,273.8 1637.2,309 1620.3,341.3 1603.4,371.3 1586.5,399 1569.6,424.8 1552.7,449 1535.8,471.7 1518.9,493 1502,513.3 1485.1,532.4 1468.2,550.7 1451.3,568.2 1434.4,585 1417.5,601.1 1400.6,616.7 1383.7,631.8 1373.6,640.6"/>
<polyline points="1725.6,171.5 1708.7,222.2 1691.8,267.4 1674.9,307.9 1658,344.4 1641.1,377.5 1624.2,407.6 1607.3,435.1 1590.4,460.4 1573.5,483.8 1556.6,505.6 1539.7,526 1522.8,545.1 1505.9,563.2 1489,580.4 1472.1,596.7 1455.2,612.4 1438.3,627.5 1421.4,642 1404.5,656.1 1394.4,664.4"/>
<polyline points="1746.4,195 1729.5,249.7 1712.6,297.5 1695.7,339.5 1678.8,376.7 1661.9,409.9 1645,439.6 1628.1,466.5 1611.2,490.9 1594.3,513.4 1577.4,534 1560.5,553.3 1543.6,571.2 1526.7,588.2 1509.8,604.3 1492.9,619.6 1476,634.3 1459.1,648.4 1442.2,662.1 1425.3,675.4 1415.2,683.2"/>
<polyline points="1767.2,217.9 1750.3,276 1733.4,325.9 1716.5,368.9 1699.6,406.3 1682.7,439.1 1665.8,468.1 1648.9,494.1 1632,517.4 1615.1,538.7 1598.2,558.2 1581.3,576.3 1564.4,593.2 1547.5,609.1 1530.6,624.2 1513.7,638.6 1496.8,652.4 1479.9,665.8 1463,678.8 1446.1,691.4 1435.9,698.8"/>
<polyline points="1788,240.3 1771.1,301.4 1754.2,352.7 1737.3,396.2 1720.4,433.4 1703.5,465.5 1686.6,493.6 1669.7,518.5 1652.8,540.7 1635.9,560.8 1619,579.2 1602.1,596.2 1585.2,612.1 1568.3,627.1 1551.4,641.3 1534.5,654.9 1517.6,668.1 1500.7,680.8 1483.8,693.2 1466.9,705.4 1456.7,712.6"/>
<polyline points="1808.8,262.2 1791.8,325.8 1775,378.1 1758,421.7 1741.2,458.4 1724.2,489.7 1707.3,516.7 1690.5,540.4 1673.5,561.4 1656.7,580.4 1639.8,597.7 1622.8,613.7 1606,628.7 1589,642.9 1572.2,656.4 1555.2,669.4 1538.3,682 1521.5,694.3 1504.5,706.3 1487.7,718.1 1477.5,725.1"/>
<polyline points="1829.5,283.5 1812.6,349.2 1795.7,402.3 1778.8,445.6 1761.9,481.6 1745,511.8 1728.1,537.7 1711.2,560.1 1694.3,580.1 1677.4,598 1660.5,614.3 1643.6,629.5 1626.7,643.7 1609.8,657.2 1592.9,670.2 1576,682.7 1559.1,694.9 1542.2,706.8 1525.3,718.5 1508.4,730 1498.3,736.9"/>
<polyline points="1850.3,304.4 1833.4,371.9 1816.5,425.3 1799.6,468.1 1782.7,503.1 1765.8,532.2 1748.9,556.9 1732,578.2 1715.1,597.1 1698.2,614 1681.3,629.5 1664.4,643.9 1647.5,657.5 1630.6,670.5 1613.7,683 1596.8,695.1 1579.9,707 1563,718.6 1546.1,730.1 1529.2,741.4 1519.1,748.2"/>
<polyline points="1871.1,324.9 1854.2,393.7 1837.3,447.2 1820.4,489.3 1803.5,523.3 1786.6,551.2 1769.7,574.7 1752.8,594.9 1735.9,612.8 1719,628.8 1702.1,643.6 1685.2,657.4 1668.3,670.4 1651.4,683 1634.5,695.1 1617.6,706.9 1600.7,718.5 1583.8,730 1566.9,741.3 1550,752.5 1539.9,759.2"/>
<polyline points="1891.9,344.9 1875,414.8 1858.1,468.1 1841.2,509.4 1824.3,542.2 1807.4,568.9 1790.5,591.3 1773.6,610.5 1756.7,627.4 1739.8,642.7 1722.9,656.8 1706,670.1 1689.1,682.7 1672.2,694.9 1655.3,706.7 1638.4,718.3 1621.5,729.8 1604.6,741.1 1587.7,752.3 1570.8,763.4 1560.7,770"/>
<polyline points="1912.7,364.5 1895.8,435.3 1878.9,488.1 1862,528.5 1845.1,560.1 1828.2,585.6 1811.3,606.9 1794.4,625.1 1777.5,641.2 1760.6,655.9 1743.7,669.4 1726.8,682.2 1709.9,694.5 1693,706.4 1676.1,718 1659.2,729.5 1642.3,740.8 1625.4,751.9 1608.5,763.1 1591.6,774.1 1581.4,780.8"/>
<polyline points="1933.5,383.8 1916.6,455.1 1899.7,507.3 1882.8,546.6 1865.9,577 1849,601.4 1832.1,621.6 1815.2,639 1798.3,654.4 1781.4,668.4 1764.5,681.5 1747.6,694 1730.7,706 1713.8,717.7 1696.9,729.1 1680,740.4 1663.1,751.6 1646.2,762.7 1629.3,773.8 1612.4,784.8 1602.2,791.4"/>
<polyline points="1954.2,402.6 1937.3,474.2 1920.4,525.8 1903.5,563.9 1886.6,593.1 1869.7,616.4 1852.8,635.7 1835.9,652.3 1819,667 1802.1,680.6 1785.2,693.3 1768.3,705.4 1751.4,717.2 1734.5,728.7 1717.6,740 1700.7,751.2 1683.8,762.3 1666.9,773.4 1650,784.4 1633.1,795.4 1623,802"/>
<polyline points="1975,421.1 1958.1,492.8 1941.2,543.5 1924.3,580.5 1907.4,608.6 1890.5,630.8 1873.6,649.1 1856.7,665 1839.8,679.2 1822.9,692.3 1806,704.7 1789.1,716.6 1772.2,728.2 1755.3,739.6 1738.4,750.8 1721.5,761.9 1704.6,773 1687.7,784 1670.8,795 1653.9,806 1643.8,812.6"/>
<polyline points="1995.8,439.3 1978.9,510.9 1962,560.7 1945.1,596.4 1928.2,623.3 1911.3,644.6 1894.4,662.1 1877.5,677.4 1860.6,691.1 1843.7,703.8 1826.8,715.9 1809.9,727.7 1793,739.1 1776.1,750.4 1759.2,761.5 1742.3,772.6 1725.4,783.6 1708.5,794.6 1691.6,805.6 1674.7,816.5 1664.6,823.1"/>
<polyline points="2016.6,619.5 1999.7,630.4 1982.8,641.3 1965.9,652.3 1949,663.2 1932.1,674.1 1915.2,685.1 1898.3,696 1881.4,706.9 1864.5,717.8 1847.6,728.8 1830.7,739.7 1813.8,750.6 1796.9,761.5 1780,772.5 1763.1,783.4 1746.2,794.3 1729.3,805.3 1712.4,816.2 1695.5,827.1 1685.4,833.7"/>
<polyline points="1607.5,26.3 1621.7,45 1642.5,71.6 1663.3,97.6 1684,122.9 1704.8,147.5 1725.6,171.5 1746.4,195 1767.2,217.9 1788,240.3 1808.8,262.2 1829.5,283.5 1850.3,304.4 1871.1,324.9 1891.9,344.9 1912.7,364.5 1933.5,383.8 1954.2,402.6 1975,421.1 1995.8,439.3 2016.6,619.5"/>
<polyline points="1587.5,35.7 1604.8,65.4 1625.6,99.7 1646.4,132.4 1667.1,163.6 1687.9,193.6 1708.7,222.2 1729.5,249.7 1750.3,276 1771.1,301.4 1791.8,325.8 1812.6,349.2 1833.4,371.9 1854.2,393.7 1875,414.8 1895.8,435.3 1916.6,455.1 1937.3,474.2 1958.1,492.8 1978.9,510.9 1999.7,630.4"/>
<polyline points="1569.1,45.8 1587.9,85.6 1608.7,126.8 1629.5,165.4 1650.2,201.6 1671,235.5 1691.8,267.4 1712.6,297.5 1733.4,325.9 1754.2,352.7 1775,378.1 1795.7,402.3 1816.5,425.3 1837.3,447.2 1858.1,468.1 1878.9,488.1 1899.7,507.3 1920.4,525.8 1941.2,543.5 1962,560.7 1982.8,641.3"/>
<polyline points="1551.3,56.3 1571,105.5 1591.8,153.1 1612.6,196.8 1633.3,236.9 1654.1,273.8 1674.9,307.9 1695.7,339.5 1716.5,368.9 1737.3,396.2 1758,421.7 1778.8,445.6 1799.6,468.1 1820.4,489.3 1841.2,509.4 1862,528.5 1882.8,546.6 1903.5,563.9 1924.3,580.5 1945.1,596.4 1965.9,652.3"/>
<polyline points="1533.8,67 1554.1,125.2 1574.9,178.6 1595.7,226.6 1616.4,269.9 1637.2,309 1658,344.4 1678.8,376.7 1699.6,406.3 1720.4,433.4 1741.2,458.4 1761.9,481.6 1782.7,503.1 1803.5,523.3 1824.3,542.2 1845.1,560.1 1865.9,577 1886.6,593.1 1907.4,608.6 1928.2,623.3 1949,663.2"/>
<polyline points="1516.5,77.7 1537.2,144.5 1558,203.4 1578.8,255.1 1599.5,300.8 1620.3,341.3 1641.1,377.5 1661.9,409.9 1682.7,439.1 1703.5,465.5 1724.2,489.7 1745,511.8 1765.8,532.2 1786.6,551.2 1807.4,568.9 1828.2,585.6 1849,601.4 1869.7,616.4 1890.5,630.8 1911.3,644.6 1932.1,674.1"/>
<polyline points="1499.5,89.4 1520.3,163.6 1541.1,227.3 1561.9,282.3 1582.6,329.8 1603.4,371.3 1624.2,407.6 1645,439.6 1665.8,468.1 1686.6,493.6 1707.3,516.7 1728.1,537.7 1748.9,556.9 1769.7,574.7 1790.5,591.3 1811.3,606.9 1832.1,621.6 1852.8,635.7 1873.6,649.1 1894.4,662.1 1915.2,685.1"/>
<polyline points="1482.6,101.4 1503.4,182.5 1524.2,250.7 1545,308.2 1565.7,357.1 1586.5,399 1607.3,435.1 1628.1,466.5 1648.9,494.1 1669.7,518.5 1690.5,540.4 1711.2,560.1 1732,578.2 1752.8,594.9 1773.6,610.5 1794.4,625.1 1815.2,639 1835.9,652.3 1856.7,665 1877.5,677.4 1898.3,696"/>
<polyline points="1465.7,113.3 1486.5,201.1 1507.3,273.3 1528.1,333.1 1548.8,382.9 1569.6,424.8 1590.4,460.4 1611.2,490.9 1632,517.4 1652.8,540.7 1673.5,561.4 1694.3,580.1 1715.1,597.1 1735.9,612.8 1756.7,627.4 1777.5,641.2 1798.3,654.4 1819,667 1839.8,679.2 1860.6,691.1 1881.4,706.9"/>
<polyline points="1448.8,125.3 1469.6,219.5 1490.4,295.4 1511.2,357 1531.9,407.3 1552.7,449 1573.5,483.8 1594.3,513.4 1615.1,538.7 1635.9,560.8 1656.7,580.4 1677.4,598 1698.2,614 1719,628.8 1739.8,642.7 1760.6,655.9 1781.4,668.4 1802.1,680.6 1822.9,692.3 1843.7,703.8 1864.5,717.8"/>
<polyline points="1431.9,137.3 1452.7,237.7 1473.5,316.9 1494.3,379.9 1515,430.5 1535.8,471.7 1556.6,505.6 1577.4,534 1598.2,558.2 1619,579.2 1639.8,597.7 1660.5,614.3 1681.3,629.5 1702.1,643.6 1722.9,656.8 1743.7,669.4 1764.5,681.5 1785.2,693.3 1806,704.7 1826.8,715.9 1847.6,728.8"/>
<polyline points="1415,149.3 1435.8,255.6 1456.6,337.8 1477.4,402 1498.1,452.6 1518.9,493 1539.7,526 1560.5,553.3 1581.3,576.3 1602.1,596.2 1622.8,613.7 1643.6,629.5 1664.4,643.9 1685.2,657.4 1706,670.1 1726.8,682.2 1747.6,694 1768.3,705.4 1789.1,716.6 1809.9,727.7 1830.7,739.7"/>
<polyline points="1398.1,161.2 1418.9,273.4 1439.7,358.3 1460.5,423.2 1481.2,473.6 1502,513.3 1522.8,545.1 1543.6,571.2 1564.4,593.2 1585.2,612.1 1606,628.7 1626.7,643.7 1647.5,657.5 1668.3,670.4 1689.1,682.7 1709.9,694.5 1730.7,706 1751.4,717.2 1772.2,728.2 1793,739.1 1813.8,750.6"/>
<polyline points="1381.2,173.2 1402,290.9 1422.8,378.2 1443.6,443.8 1464.3,493.7 1485.1,532.4 1505.9,563.2 1526.7,588.2 1547.5,609.1 1568.3,627.1 1589,642.9 1609.8,657.2 1630.6,670.5 1651.4,683 1672.2,694.9 1693,706.4 1713.8,717.7 1734.5,728.7 1755.3,739.6 1776.1,750.4 1796.9,761.5"/>
<polyline points="1364.3,185.2 1385.1,308.3 1405.9,397.7 1426.7,463.6 1447.4,513 1468.2,550.7 1489,580.4 1509.8,604.3 1530.6,624.2 1551.4,641.3 1572.2,656.4 1592.9,670.2 1613.7,683 1634.5,695.1 1655.3,706.7 1676.1,718 1696.9,729.1 1717.6,740 1738.4,750.8 1759.2,761.5 1780,772.5"/>
<polyline points="1347.4,197.1 1368.2,325.4 1389,416.8 1409.8,482.9 1430.5,531.5 1451.3,568.2 1472.1,596.7 1492.9,619.6 1513.7,638.6 1534.5,654.9 1555.2,669.4 1576,682.7 1596.8,695.1 1617.6,706.9 1638.4,718.3 1659.2,729.5 1680,740.4 1700.7,751.2 1721.5,761.9 1742.3,772.6 1763.1,783.4"/>
<polyline points="1330.5,209.1 1351.3,342.4 1372.1,435.5 1392.9,501.5 1413.6,549.4 1434.4,585 1455.2,612.4 1476,634.3 1496.8,652.4 1517.6,668.1 1538.3,682 1559.1,694.9 1579.9,707 1600.7,718.5 1621.5,729.8 1642.3,740.8 1663.1,751.6 1683.8,762.3 1704.6,773 1725.4,783.6 1746.2,794.3"/>
<polyline points="1313.6,221.1 1334.4,359.2 1355.2,453.7 1376,519.6 1396.7,566.6 1417.5,601.1 1438.3,627.5 1459.1,648.4 1479.9,665.8 1500.7,680.8 1521.5,694.3 1542.2,706.8 1563,718.6 1583.8,730 1604.6,741.1 1625.4,751.9 1646.2,762.7 1666.9,773.4 1687.7,784 1708.5,794.6 1729.3,805.3"/>
<polyline points="1296.7,233 1317.5,375.8 1338.3,471.7 1359.1,537.2 1379.8,583.3 1400.6,616.7 1421.4,642 1442.2,662.1 1463,678.8 1483.8,693.2 1504.5,706.3 1525.3,718.5 1546.1,730.1 1566.9,741.3 1587.7,752.3 1608.5,763.1 1629.3,773.8 1650,784.4 1670.8,795 1691.6,805.6 1712.4,816.2"/>
<polyline points="1279.8,245 1300.6,392.3 1321.4,489.2 1342.2,554.4 1362.9,599.4 1383.7,631.8 1404.5,656.1 1425.3,675.4 1446.1,691.4 1466.9,705.4 1487.7,718.1 1508.4,730 1529.2,741.4 1550,752.5 1570.8,763.4 1591.6,774.1 1612.4,784.8 1633.1,795.4 1653.9,806 1674.7,816.5 1695.5,827.1"/>
<polyline points="1269.7,252.2 1290.4,402.1 1311.2,499.6 1332,564.5 1352.8,608.9 1373.6,640.6 1394.4,664.4 1415.2,683.2 1435.9,698.8 1456.7,712.6 1477.5,725.1 1498.3,736.9 1519.1,748.2 1539.9,759.2 1560.7,770 1581.4,780.8 1602.2,791.4 1623,802 1643.8,812.6 1664.6,823.1 1685.4,833.7"/>
</g>
<g stroke="#111" stroke-width="3.4" fill="none" stroke-linecap="butt" stroke-linejoin="miter">
<polyline points="1267.6,238.5 1267.6,624.6 1683.3,835 2051.7,596.8 2051.7,210.7"/>
<polyline points="1267.6,622.7 1277.7,616.2"/>
<polyline points="1267.6,523.9 1277.7,517.4"/>
<polyline points="1267.6,425.1 1277.7,418.6"/>
<polyline points="1267.6,326.3 1277.7,319.8"/>
<polyline points="2042,603.1 2031.3,597.6"/>
<polyline points="1931.9,674.3 1921.2,668.8"/>
<polyline points="1821.8,745.4 1811.1,740"/>
<polyline points="1711.7,816.6 1701,811.2"/>
<polyline points="1371.5,677.2 1381.6,670.7"/>
<polyline points="1475.4,729.8 1485.5,723.3"/>
<polyline points="1579.4,782.4 1589.5,775.9"/>
</g>
<polyline points="1267.6,239.5 1636,1.3 2051.7,211.7" fill="none" stroke="#45b04a" stroke-width="6" stroke-linejoin="miter" stroke-linecap="butt"/>
<path d="M1497.5,735.3 C1502.4,732.4 1516.5,724.6 1527.0,717.9 C1537.5,711.2 1550.5,702.2 1560.6,695.0 C1570.7,687.8 1578.5,681.8 1587.4,674.9 C1596.4,668.0 1605.3,660.8 1614.3,653.4 C1623.3,646.0 1632.2,638.6 1641.2,630.6 C1650.2,622.6 1659.0,614.1 1668.0,605.1 C1677.0,596.1 1688.1,584.6 1694.9,576.9 C1701.8,569.2 1703.2,566.6 1709.1,559.0 C1715.0,551.4 1723.8,540.2 1730.5,531.1 C1737.2,522.0 1743.5,513.1 1749.3,504.2 C1755.1,495.2 1760.5,486.3 1765.4,477.4 C1770.3,468.4 1774.7,459.4 1778.9,450.5 C1783.2,441.6 1787.3,432.6 1790.9,423.7 C1794.5,414.8 1797.6,405.8 1800.3,396.8 C1803.0,387.9 1804.2,381.3 1807.0,370.0 C1809.8,358.7 1813.8,342.9 1817.1,329.2 C1820.4,315.5 1823.9,301.5 1826.7,287.6 C1829.5,273.8 1831.6,259.9 1833.7,246.1 C1835.8,232.3 1837.5,219.8 1839.1,204.6 C1840.7,189.4 1842.3,170.4 1843.3,154.8 C1844.3,139.2 1845.0,118.4 1845.3,111.1" fill="none" stroke="#e0272c" stroke-width="10.2" stroke-linecap="butt"/>
<circle cx="1769.6" cy="376.5" r="26.8" fill="#f2d831" stroke="#1a1a1a" stroke-width="1.6"/>
<circle cx="1527" cy="717.9" r="26.2" fill="#5fc4a0" stroke="#1a1a1a" stroke-width="1.6"/>
<text x="1245.4" y="635.4" font-size="55.5" text-anchor="end">0</text>
<text x="1245.4" y="536.4" font-size="55.5" text-anchor="end">0.2</text>
<text x="1245.4" y="437.9" font-size="55.5" text-anchor="end">0.4</text>
<text x="1245.4" y="339.4" font-size="55.5" text-anchor="end">0.6</text>
<text x="1240.3" y="675.5" font-size="55.5" text-anchor="middle">0</text>
<text x="1310.2" y="729.6" font-size="55.5" text-anchor="middle">0.25</text>
<text x="1406.3" y="780.1" font-size="55.5" text-anchor="middle">0.50</text>
<text x="1513.5" y="832.1" font-size="55.5" text-anchor="middle">0.75</text>
<text x="1621" y="883.7" font-size="55.5" text-anchor="middle">1.00</text>
<text x="1744.5" y="855.4" font-size="55.5" text-anchor="middle">6</text>
<text x="1855.7" y="786.1" font-size="55.5" text-anchor="middle">4</text>
<text x="1963.3" y="711.1" font-size="55.5" text-anchor="middle">2</text>
<text x="2074.8" y="636.9" font-size="55.5" text-anchor="middle">0</text>
<text x="2001" y="267.6" font-size="55" text-anchor="middle">(b)</text>
<g transform="translate(1264.1 808.4) rotate(25.2)"><text x="0" y="0" font-size="57">孔隙率 <tspan font-style="italic" font-size="51">Ø</tspan></text></g>
<g transform="translate(1639.1 1005.1) rotate(-32.5)"><text x="0" y="0" font-size="55.7">孔隙的平均线性尺寸 <tspan font-size="55" dx="3" dy="-9">log[<tspan font-style="italic">l</tspan>/<tspan font-style="italic">l</tspan><tspan font-size="34.1" dy="8.8">0</tspan><tspan dy="-8.8">]</tspan></tspan></text><line x1="599.9" y1="-61.3" x2="628.9" y2="-61.3" stroke="#141414" stroke-width="2.2"/><line x1="637.9" y1="-61.3" x2="668" y2="-61.3" stroke="#141414" stroke-width="2.2"/></g>
<g transform="translate(1156 632.5) rotate(-90)"><text x="0" y="0" font-size="54.8">屈服强度 <tspan font-size="56" dy="-3"><tspan font-style="italic">σ</tspan><tspan font-style="italic" font-size="34" dy="9">y</tspan><tspan dy="-9">/GPa</tspan></tspan></text></g>
</g>
<g id="panel-c">
<g stroke="#d0d0d0" stroke-width="0.85" fill="none">
<polyline points="2386.8,657.5 2754.6,427.3 3170.3,631.6"/>
<polyline points="2386.8,551.5 2754.6,321.3 3170.3,525.6"/>
<polyline points="2386.8,445.4 2754.6,215.2 3170.3,419.5"/>
<polyline points="2386.8,339.4 2754.6,109.2 3170.3,313.5"/>
<polyline points="2640.8,105.5 2640.8,503.7 3056.5,708"/>
<polyline points="2528.8,175.6 2528.8,573.8 2944.5,778.1"/>
<polyline points="2416.9,245.7 2416.9,643.9 2832.6,848.2"/>
<polyline points="2858.5,85.4 2858.5,483.6 2490.7,713.8"/>
<polyline points="2962.5,136.4 2962.5,534.6 2594.7,764.9"/>
<polyline points="3066.4,187.5 3066.4,585.7 2698.6,815.9"/>
</g>
<line x1="2754.6" y1="432.5" x2="2754.6" y2="34.3" stroke="#444" stroke-width="1.2" />
<line x1="2386.8" y1="662.7" x2="2754.6" y2="432.5" stroke="#111" stroke-width="1.5" />
<line x1="2754.6" y1="432.5" x2="3170.3" y2="636.8" stroke="#111" stroke-width="1.5" />
<clipPath id="clip-c"><polygon points="2390.1,271.7 2396.1,267.6 2413.2,255.9 2430.3,244.2 2447.4,232.5 2464.5,220.8 2481.6,209.1 2498.7,197.5 2515.8,185.8 2532.9,174.1 2550,162.4 2567.3,151.8 2584.7,141.2 2602.2,130.7 2619.7,120.2 2637.4,109.8 2655.2,99.4 2673.4,89.3 2692,79.3 2711.7,69.9 2734,61.7 2741.8,71.4 2762.6,96.8 2783.4,121.6 2804.1,145.9 2824.9,169.6 2845.7,192.8 2866.5,215.5 2887.3,237.7 2908.1,259.4 2928.8,280.7 2949.6,301.6 2970.4,322 2991.2,342.1 3012,361.8 3032.8,381.1 3053.6,400 3074.3,418.6 3095.1,436.9 3115.9,454.9 3136.7,657.8 3119.6,668.5 3102.5,679.2 3085.4,689.9 3068.3,700.6 3051.2,711.3 3034.1,722 3017,732.7 2999.9,743.5 2982.8,754.2 2965.7,764.9 2948.6,775.6 2931.5,786.3 2914.4,797 2897.3,807.7 2880.2,818.4 2863.1,829.1 2846,839.8 2828.9,850.5 2811.8,861.2 2805.8,864.9 2785,854.5 2764.2,844.2 2743.5,833.9 2722.7,823.5 2701.9,813 2681.1,802.3 2660.3,791.5 2639.5,780.3 2618.7,768.6 2598,756.2 2577.2,742.6 2556.4,727.4 2535.6,709.7 2514.8,688.2 2494,661 2473.3,625.3 2452.5,576.7 2431.7,508.9 2410.9,412.1"/></clipPath>
<g clip-path="url(#clip-c)"><g filter="url(#soft)" stroke-width="3" stroke-linejoin="round">
<polygon points="2734,61.7 2741.8,71.4 2724.7,90.6 2711.7,69.9" fill="#dee13a" stroke="#dee13a"/>
<polygon points="2711.7,69.9 2724.7,90.6 2707.6,109.6 2692,79.3" fill="#dee13a" stroke="#dee13a"/>
<polygon points="2741.8,71.4 2762.6,96.8 2745.5,122.8 2724.7,90.6" fill="#e3da36" stroke="#e3da36"/>
<polygon points="2692,79.3 2707.6,109.6 2690.5,128.4 2673.4,89.3" fill="#dee13a" stroke="#dee13a"/>
<polygon points="2724.7,90.6 2745.5,122.8 2728.4,148.1 2707.6,109.6" fill="#e9cd32" stroke="#e9cd32"/>
<polygon points="2762.6,96.8 2783.4,121.6 2766.3,153.7 2745.5,122.8" fill="#edbe30" stroke="#edbe30"/>
<polygon points="2673.4,89.3 2690.5,128.4 2673.4,147 2655.2,99.4" fill="#dee13a" stroke="#dee13a"/>
<polygon points="2707.6,109.6 2728.4,148.1 2711.3,172.9 2690.5,128.4" fill="#edbb30" stroke="#edbb30"/>
<polygon points="2745.5,122.8 2766.3,153.7 2749.2,184.5 2728.4,148.1" fill="#f0aa2f" stroke="#f0aa2f"/>
<polygon points="2783.4,121.6 2804.1,145.9 2787,183.5 2766.3,153.7" fill="#efab2f" stroke="#efab2f"/>
<polygon points="2655.2,99.4 2673.4,147 2656.3,165.5 2637.4,109.8" fill="#dee13a" stroke="#dee13a"/>
<polygon points="2690.5,128.4 2711.3,172.9 2694.2,197 2673.4,147" fill="#efb030" stroke="#efb030"/>
<polygon points="2728.4,148.1 2749.2,184.5 2732.1,214.1 2711.3,172.9" fill="#efa02e" stroke="#efa02e"/>
<polygon points="2766.3,153.7 2787,183.5 2769.9,219 2749.2,184.5" fill="#ef9d2e" stroke="#ef9d2e"/>
<polygon points="2804.1,145.9 2824.9,169.6 2807.8,212.1 2787,183.5" fill="#f0a12f" stroke="#f0a12f"/>
<polygon points="2637.4,109.8 2656.3,165.5 2639.2,183.7 2619.7,120.2" fill="#dee13a" stroke="#dee13a"/>
<polygon points="2673.4,147 2694.2,197 2677.1,220.5 2656.3,165.5" fill="#f0a72f" stroke="#f0a72f"/>
<polygon points="2711.3,172.9 2732.1,214.1 2715,242.5 2694.2,197" fill="#ee9b2f" stroke="#ee9b2f"/>
<polygon points="2749.2,184.5 2769.9,219 2752.8,252.5 2732.1,214.1" fill="#ed9832" stroke="#ed9832"/>
<polygon points="2787,183.5 2807.8,212.1 2790.7,251.6 2769.9,219" fill="#ed9931" stroke="#ed9931"/>
<polygon points="2824.9,169.6 2845.7,192.8 2828.6,239.7 2807.8,212.1" fill="#ef9b2f" stroke="#ef9b2f"/>
<polygon points="2619.7,120.2 2639.2,183.7 2622.1,201.8 2602.2,130.7" fill="#dee13a" stroke="#dee13a"/>
<polygon points="2656.3,165.5 2677.1,220.5 2660,243.5 2639.2,183.7" fill="#f0a32f" stroke="#f0a32f"/>
<polygon points="2694.2,197 2715,242.5 2697.9,269.9 2677.1,220.5" fill="#ed9832" stroke="#ed9832"/>
<polygon points="2732.1,214.1 2752.8,252.5 2735.7,284.2 2715,242.5" fill="#d3a045" stroke="#d3a045"/>
<polygon points="2769.9,219 2790.7,251.6 2773.6,288.2 2752.8,252.5" fill="#c3a64b" stroke="#c3a64b"/>
<polygon points="2807.8,212.1 2828.6,239.7 2811.5,282.5 2790.7,251.6" fill="#d5a043" stroke="#d5a043"/>
<polygon points="2845.7,192.8 2866.5,215.5 2849.4,266.3 2828.6,239.7" fill="#ed9931" stroke="#ed9931"/>
<polygon points="2602.2,130.7 2622.1,201.8 2605,219.7 2584.7,141.2" fill="#dee13a" stroke="#dee13a"/>
<polygon points="2639.2,183.7 2660,243.5 2642.9,266 2622.1,201.8" fill="#ef9f2e" stroke="#ef9f2e"/>
<polygon points="2677.1,220.5 2697.9,269.9 2680.8,296.2 2660,243.5" fill="#dd9c3f" stroke="#dd9c3f"/>
<polygon points="2715,242.5 2735.7,284.2 2718.6,314.2 2697.9,269.9" fill="#aaab54" stroke="#aaab54"/>
<polygon points="2752.8,252.5 2773.6,288.2 2756.5,322.4 2735.7,284.2" fill="#a8ac55" stroke="#a8ac55"/>
<polygon points="2790.7,251.6 2811.5,282.5 2794.4,321.6 2773.6,288.2" fill="#a8ac55" stroke="#a8ac55"/>
<polygon points="2828.6,239.7 2849.4,266.3 2832.3,311.8 2811.5,282.5" fill="#aaab54" stroke="#aaab54"/>
<polygon points="2866.5,215.5 2887.3,237.7 2870.2,291.9 2849.4,266.3" fill="#e39a3b" stroke="#e39a3b"/>
<polygon points="2584.7,141.2 2605,219.7 2587.9,237.4 2567.3,151.8" fill="#dee13a" stroke="#dee13a"/>
<polygon points="2622.1,201.8 2642.9,266 2625.8,288 2605,219.7" fill="#ef9c2e" stroke="#ef9c2e"/>
<polygon points="2660,243.5 2680.8,296.2 2663.7,321.6 2642.9,266" fill="#bca84e" stroke="#bca84e"/>
<polygon points="2697.9,269.9 2718.6,314.2 2701.5,342.8 2680.8,296.2" fill="#a6ad56" stroke="#a6ad56"/>
<polygon points="2735.7,284.2 2756.5,322.4 2739.4,354.2 2718.6,314.2" fill="#93b15e" stroke="#93b15e"/>
<polygon points="2773.6,288.2 2794.4,321.6 2777.3,357.4 2756.5,322.4" fill="#88b362" stroke="#88b362"/>
<polygon points="2811.5,282.5 2832.3,311.8 2815.2,352.8 2794.4,321.6" fill="#95b15d" stroke="#95b15d"/>
<polygon points="2849.4,266.3 2870.2,291.9 2853.1,339.7 2832.3,311.8" fill="#a7ad56" stroke="#a7ad56"/>
<polygon points="2887.3,237.7 2908.1,259.4 2891,316.7 2870.2,291.9" fill="#c5a54a" stroke="#c5a54a"/>
<polygon points="2567.3,151.8 2587.9,237.4 2570.8,255 2550,162.4" fill="#dee13a" stroke="#dee13a"/>
<polygon points="2605,219.7 2625.8,288 2608.7,309.5 2587.9,237.4" fill="#ee9a30" stroke="#ee9a30"/>
<polygon points="2642.9,266 2663.7,321.6 2646.6,346.1 2625.8,288" fill="#a9ab54" stroke="#a9ab54"/>
<polygon points="2680.8,296.2 2701.5,342.8 2684.4,369.9 2663.7,321.6" fill="#91b25e" stroke="#91b25e"/>
<polygon points="2718.6,314.2 2739.4,354.2 2722.3,384.1 2701.5,342.8" fill="#5ab26e" stroke="#5ab26e"/>
<polygon points="2756.5,322.4 2777.3,357.4 2760.2,390.4 2739.4,354.2" fill="#53b076" stroke="#53b076"/>
<polygon points="2794.4,321.6 2815.2,352.8 2798.1,389.8 2777.3,357.4" fill="#54b076" stroke="#54b076"/>
<polygon points="2832.3,311.8 2853.1,339.7 2836,382 2815.2,352.8" fill="#5eb26e" stroke="#5eb26e"/>
<polygon points="2870.2,291.9 2891,316.7 2873.9,366.3 2853.1,339.7" fill="#96b15d" stroke="#96b15d"/>
<polygon points="2908.1,259.4 2928.8,280.7 2911.8,340.6 2891,316.7" fill="#aaab54" stroke="#aaab54"/>
<polygon points="2550,162.4 2570.8,255 2553.7,272.4 2532.9,174.1" fill="#dee13a" stroke="#dee13a"/>
<polygon points="2587.9,237.4 2608.7,309.5 2591.6,330.6 2570.8,255" fill="#ed9931" stroke="#ed9931"/>
<polygon points="2625.8,288 2646.6,346.1 2629.5,369.8 2608.7,309.5" fill="#a7ad56" stroke="#a7ad56"/>
<polygon points="2663.7,321.6 2684.4,369.9 2667.3,395.8 2646.6,346.1" fill="#67b36b" stroke="#67b36b"/>
<polygon points="2701.5,342.8 2722.3,384.1 2705.2,412.1 2684.4,369.9" fill="#4eae7e" stroke="#4eae7e"/>
<polygon points="2739.4,354.2 2760.2,390.4 2743.1,420.9 2722.3,384.1" fill="#47ab88" stroke="#47ab88"/>
<polygon points="2777.3,357.4 2798.1,389.8 2781,423.3 2760.2,390.4" fill="#45aa8b" stroke="#45aa8b"/>
<polygon points="2815.2,352.8 2836,382 2818.9,419.7 2798.1,389.8" fill="#47ab87" stroke="#47ab87"/>
<polygon points="2853.1,339.7 2873.9,366.3 2856.8,409.5 2836,382" fill="#4fae7d" stroke="#4fae7d"/>
<polygon points="2891,316.7 2911.8,340.6 2894.7,391.6 2873.9,366.3" fill="#6eb36a" stroke="#6eb36a"/>
<polygon points="2928.8,280.7 2949.6,301.6 2932.5,363.8 2911.8,340.6" fill="#a8ac55" stroke="#a8ac55"/>
<polygon points="2532.9,174.1 2553.7,272.4 2536.6,289.7 2515.8,185.8" fill="#dfe039" stroke="#dfe039"/>
<polygon points="2570.8,255 2591.6,330.6 2574.5,351.2 2553.7,272.4" fill="#ea9835" stroke="#ea9835"/>
<polygon points="2608.7,309.5 2629.5,369.8 2612.4,392.7 2591.6,330.6" fill="#9faf59" stroke="#9faf59"/>
<polygon points="2646.6,346.1 2667.3,395.8 2650.2,420.4 2629.5,369.8" fill="#53b077" stroke="#53b077"/>
<polygon points="2684.4,369.9 2705.2,412.1 2688.1,438.4 2667.3,395.8" fill="#44aa8c" stroke="#44aa8c"/>
<polygon points="2722.3,384.1 2743.1,420.9 2726,449.2 2705.2,412.1" fill="#40a599" stroke="#40a599"/>
<polygon points="2760.2,390.4 2781,423.3 2763.9,453.9 2743.1,420.9" fill="#3ea39f" stroke="#3ea39f"/>
<polygon points="2798.1,389.8 2818.9,419.7 2801.8,453.3 2781,423.3" fill="#3ea39f" stroke="#3ea39f"/>
<polygon points="2836,382 2856.8,409.5 2839.7,447.4 2818.9,419.7" fill="#40a598" stroke="#40a598"/>
<polygon points="2873.9,366.3 2894.7,391.6 2877.5,435.4 2856.8,409.5" fill="#45aa8b" stroke="#45aa8b"/>
<polygon points="2911.8,340.6 2932.5,363.8 2915.4,415.8 2894.7,391.6" fill="#54b075" stroke="#54b075"/>
<polygon points="2949.6,301.6 2970.4,322 2953.3,386.2 2932.5,363.8" fill="#a3ae57" stroke="#a3ae57"/>
<polygon points="2515.8,185.8 2536.6,289.7 2519.5,306.8 2498.7,197.5" fill="#e0de39" stroke="#e0de39"/>
<polygon points="2553.7,272.4 2574.5,351.2 2557.4,371.5 2536.6,289.7" fill="#e29a3c" stroke="#e29a3c"/>
<polygon points="2591.6,330.6 2612.4,392.7 2595.3,414.8 2574.5,351.2" fill="#8db260" stroke="#8db260"/>
<polygon points="2629.5,369.8 2650.2,420.4 2633.1,444 2612.4,392.7" fill="#4bad82" stroke="#4bad82"/>
<polygon points="2667.3,395.8 2688.1,438.4 2671,463.3 2650.2,420.4" fill="#40a599" stroke="#40a599"/>
<polygon points="2705.2,412.1 2726,449.2 2708.9,475.4 2688.1,438.4" fill="#3e9fa7" stroke="#3e9fa7"/>
<polygon points="2743.1,420.9 2763.9,453.9 2746.8,481.9 2726,449.2" fill="#3d9cae" stroke="#3d9cae"/>
<polygon points="2781,423.3 2801.8,453.3 2784.7,483.6 2763.9,453.9" fill="#3d9bb0" stroke="#3d9bb0"/>
<polygon points="2818.9,419.7 2839.7,447.4 2822.6,480.8 2801.8,453.3" fill="#3d9cae" stroke="#3d9cae"/>
<polygon points="2856.8,409.5 2877.5,435.4 2860.4,473.2 2839.7,447.4" fill="#3e9fa6" stroke="#3e9fa6"/>
<polygon points="2894.7,391.6 2915.4,415.8 2898.3,459.8 2877.5,435.4" fill="#40a598" stroke="#40a598"/>
<polygon points="2932.5,363.8 2953.3,386.2 2936.2,439 2915.4,415.8" fill="#4cad80" stroke="#4cad80"/>
<polygon points="2970.4,322 2991.2,342.1 2974.1,407.9 2953.3,386.2" fill="#96b15d" stroke="#96b15d"/>
<polygon points="2498.7,197.5 2519.5,306.8 2502.4,323.7 2481.6,209.1" fill="#e1dd38" stroke="#e1dd38"/>
<polygon points="2536.6,289.7 2557.4,371.5 2540.3,391.3 2519.5,306.8" fill="#d4a044" stroke="#d4a044"/>
<polygon points="2574.5,351.2 2595.3,414.8 2578.2,436.3 2557.4,371.5" fill="#72b469" stroke="#72b469"/>
<polygon points="2612.4,392.7 2633.1,444 2616,466.6 2595.3,414.8" fill="#44aa8d" stroke="#44aa8d"/>
<polygon points="2650.2,420.4 2671,463.3 2653.9,486.8 2633.1,444" fill="#3ea0a5" stroke="#3ea0a5"/>
<polygon points="2688.1,438.4 2708.9,475.4 2691.8,499.9 2671,463.3" fill="#3d99b2" stroke="#3d99b2"/>
<polygon points="2726,449.2 2746.8,481.9 2729.7,507.7 2708.9,475.4" fill="#3d93b7" stroke="#3d93b7"/>
<polygon points="2763.9,453.9 2784.7,483.6 2767.6,511.1 2746.8,481.9" fill="#3e90ba" stroke="#3e90ba"/>
<polygon points="2801.8,453.3 2822.6,480.8 2805.5,510.5 2784.7,483.6" fill="#3e90ba" stroke="#3e90ba"/>
<polygon points="2839.7,447.4 2860.4,473.2 2843.3,506.1 2822.6,480.8" fill="#3d93b7" stroke="#3d93b7"/>
<polygon points="2877.5,435.4 2898.3,459.8 2881.2,497.2 2860.4,473.2" fill="#3d99b1" stroke="#3d99b1"/>
<polygon points="2915.4,415.8 2936.2,439 2919.1,482.9 2898.3,459.8" fill="#3ea0a4" stroke="#3ea0a4"/>
<polygon points="2953.3,386.2 2974.1,407.9 2957,461.2 2936.2,439" fill="#45aa8b" stroke="#45aa8b"/>
<polygon points="2991.2,342.1 3012,361.8 2994.9,428.9 2974.1,407.9" fill="#7db466" stroke="#7db466"/>
<polygon points="2481.6,209.1 2502.4,323.7 2485.3,340.6 2464.5,220.8" fill="#e1dc37" stroke="#e1dc37"/>
<polygon points="2519.5,306.8 2540.3,391.3 2523.2,410.7 2502.4,323.7" fill="#c0a74c" stroke="#c0a74c"/>
<polygon points="2557.4,371.5 2578.2,436.3 2561.1,457.1 2540.3,391.3" fill="#57b271" stroke="#57b271"/>
<polygon points="2595.3,414.8 2616,466.6 2598.9,488.2 2578.2,436.3" fill="#40a697" stroke="#40a697"/>
<polygon points="2633.1,444 2653.9,486.8 2636.8,509.1 2616,466.6" fill="#3d9cae" stroke="#3d9cae"/>
<polygon points="2671,463.3 2691.8,499.9 2674.7,522.9 2653.9,486.8" fill="#3e91b9" stroke="#3e91b9"/>
<polygon points="2708.9,475.4 2729.7,507.7 2712.6,531.5 2691.8,499.9" fill="#3e8abf" stroke="#3e8abf"/>
<polygon points="2746.8,481.9 2767.6,511.1 2750.5,536 2729.7,507.7" fill="#3e86bf" stroke="#3e86bf"/>
<polygon points="2784.7,483.6 2805.5,510.5 2788.4,537.2 2767.6,511.1" fill="#3e84bf" stroke="#3e84bf"/>
<polygon points="2822.6,480.8 2843.3,506.1 2826.2,535 2805.5,510.5" fill="#3e86bf" stroke="#3e86bf"/>
<polygon points="2860.4,473.2 2881.2,497.2 2864.1,529.5 2843.3,506.1" fill="#3e8abf" stroke="#3e8abf"/>
<polygon points="2898.3,459.8 2919.1,482.9 2902,519.8 2881.2,497.2" fill="#3e91b8" stroke="#3e91b8"/>
<polygon points="2936.2,439 2957,461.2 2939.9,504.8 2919.1,482.9" fill="#3d9cae" stroke="#3d9cae"/>
<polygon points="2974.1,407.9 2994.9,428.9 2977.8,482.4 2957,461.2" fill="#41a795" stroke="#41a795"/>
<polygon points="3012,361.8 3032.8,381.1 3015.7,449.4 2994.9,428.9" fill="#5eb26e" stroke="#5eb26e"/>
<polygon points="2464.5,220.8 2485.3,340.6 2468.2,357.2 2447.4,232.5" fill="#e2db37" stroke="#e2db37"/>
<polygon points="2502.4,323.7 2523.2,410.7 2506.1,429.8 2485.3,340.6" fill="#b2aa51" stroke="#b2aa51"/>
<polygon points="2540.3,391.3 2561.1,457.1 2544,477.3 2523.2,410.7" fill="#51af79" stroke="#51af79"/>
<polygon points="2578.2,436.3 2598.9,488.2 2581.8,509 2561.1,457.1" fill="#3ea2a0" stroke="#3ea2a0"/>
<polygon points="2616,466.6 2636.8,509.1 2619.7,530.3 2598.9,488.2" fill="#3d96b5" stroke="#3d96b5"/>
<polygon points="2653.9,486.8 2674.7,522.9 2657.6,544.4 2636.8,509.1" fill="#3e8abf" stroke="#3e8abf"/>
<polygon points="2691.8,499.9 2712.6,531.5 2695.5,553.6 2674.7,522.9" fill="#3d82c0" stroke="#3d82c0"/>
<polygon points="2729.7,507.7 2750.5,536 2733.4,558.9 2712.6,531.5" fill="#3d7dc0" stroke="#3d7dc0"/>
<polygon points="2767.6,511.1 2788.4,537.2 2771.3,561.2 2750.5,536" fill="#3d7bc0" stroke="#3d7bc0"/>
<polygon points="2805.5,510.5 2826.2,535 2809.2,560.7 2788.4,537.2" fill="#3d7bc0" stroke="#3d7bc0"/>
<polygon points="2843.3,506.1 2864.1,529.5 2847,557.5 2826.2,535" fill="#3d7dc0" stroke="#3d7dc0"/>
<polygon points="2881.2,497.2 2902,519.8 2884.9,551.1 2864.1,529.5" fill="#3d82c0" stroke="#3d82c0"/>
<polygon points="2919.1,482.9 2939.9,504.8 2922.8,540.9 2902,519.8" fill="#3e8abf" stroke="#3e8abf"/>
<polygon points="2957,461.2 2977.8,482.4 2960.7,525.6 2939.9,504.8" fill="#3d96b4" stroke="#3d96b4"/>
<polygon points="2994.9,428.9 3015.7,449.4 2998.6,502.9 2977.8,482.4" fill="#3ea39f" stroke="#3ea39f"/>
<polygon points="3032.8,381.1 3053.6,400 3036.5,469.2 3015.7,449.4" fill="#54b075" stroke="#54b075"/>
<polygon points="2447.4,232.5 2468.2,357.2 2451.1,373.8 2430.3,244.2" fill="#e3d936" stroke="#e3d936"/>
<polygon points="2485.3,340.6 2506.1,429.8 2489,448.5 2468.2,357.2" fill="#aaab54" stroke="#aaab54"/>
<polygon points="2523.2,410.7 2544,477.3 2526.9,497 2506.1,429.8" fill="#4cad80" stroke="#4cad80"/>
<polygon points="2561.1,457.1 2581.8,509 2564.7,529 2544,477.3" fill="#3d9fa8" stroke="#3d9fa8"/>
<polygon points="2598.9,488.2 2619.7,530.3 2602.6,550.5 2581.8,509" fill="#3e8fba" stroke="#3e8fba"/>
<polygon points="2636.8,509.1 2657.6,544.4 2640.5,564.8 2619.7,530.3" fill="#3d83c0" stroke="#3d83c0"/>
<polygon points="2674.7,522.9 2695.5,553.6 2678.4,574.2 2657.6,544.4" fill="#3d7bc0" stroke="#3d7bc0"/>
<polygon points="2712.6,531.5 2733.4,558.9 2716.3,580 2695.5,553.6" fill="#3c77bf" stroke="#3c77bf"/>
<polygon points="2750.5,536 2771.3,561.2 2754.2,583.1 2733.4,558.9" fill="#3c74be" stroke="#3c74be"/>
<polygon points="2788.4,537.2 2809.2,560.7 2792,583.7 2771.3,561.2" fill="#3c74be" stroke="#3c74be"/>
<polygon points="2826.2,535 2847,557.5 2829.9,582.1 2809.2,560.7" fill="#3c74be" stroke="#3c74be"/>
<polygon points="2864.1,529.5 2884.9,551.1 2867.8,578.2 2847,557.5" fill="#3c77bf" stroke="#3c77bf"/>
<polygon points="2902,519.8 2922.8,540.9 2905.7,571.4 2884.9,551.1" fill="#3d7bc0" stroke="#3d7bc0"/>
<polygon points="2939.9,504.8 2960.7,525.6 2943.6,560.9 2922.8,540.9" fill="#3d83c0" stroke="#3d83c0"/>
<polygon points="2977.8,482.4 2998.6,502.9 2981.5,545.4 2960.7,525.6" fill="#3e90ba" stroke="#3e90ba"/>
<polygon points="3015.7,449.4 3036.5,469.2 3019.4,522.5 2998.6,502.9" fill="#3e9fa6" stroke="#3e9fa6"/>
<polygon points="3053.6,400 3074.3,418.6 3057.2,488.5 3036.5,469.2" fill="#4fae7d" stroke="#4fae7d"/>
<polygon points="2430.3,244.2 2451.1,373.8 2434,390.2 2413.2,255.9" fill="#e4d835" stroke="#e4d835"/>
<polygon points="2468.2,357.2 2489,448.5 2471.9,466.9 2451.1,373.8" fill="#a8ac55" stroke="#a8ac55"/>
<polygon points="2506.1,429.8 2526.9,497 2509.8,516.1 2489,448.5" fill="#47ab87" stroke="#47ab87"/>
<polygon points="2544,477.3 2564.7,529 2547.6,548.4 2526.9,497" fill="#3d9baf" stroke="#3d9baf"/>
<polygon points="2581.8,509 2602.6,550.5 2585.5,569.8 2564.7,529" fill="#3e8abf" stroke="#3e8abf"/>
<polygon points="2619.7,530.3 2640.5,564.8 2623.4,584.1 2602.6,550.5" fill="#3d7dc0" stroke="#3d7dc0"/>
<polygon points="2657.6,544.4 2678.4,574.2 2661.3,593.6 2640.5,564.8" fill="#3c76bf" stroke="#3c76bf"/>
<polygon points="2695.5,553.6 2716.3,580 2699.2,599.6 2678.4,574.2" fill="#3c71be" stroke="#3c71be"/>
<polygon points="2733.4,558.9 2754.2,583.1 2737.1,603.1 2716.3,580" fill="#3b6fbd" stroke="#3b6fbd"/>
<polygon points="2771.3,561.2 2792,583.7 2774.9,604.6 2754.2,583.1" fill="#3b6ebd" stroke="#3b6ebd"/>
<polygon points="2809.2,560.7 2829.9,582.1 2812.8,604.1 2792,583.7" fill="#3b6ebd" stroke="#3b6ebd"/>
<polygon points="2847,557.5 2867.8,578.2 2850.7,601.8 2829.9,582.1" fill="#3b6fbd" stroke="#3b6fbd"/>
<polygon points="2884.9,551.1 2905.7,571.4 2888.6,597.3 2867.8,578.2" fill="#3c71be" stroke="#3c71be"/>
<polygon points="2922.8,540.9 2943.6,560.9 2926.5,590.3 2905.7,571.4" fill="#3c76bf" stroke="#3c76bf"/>
<polygon points="2960.7,525.6 2981.5,545.4 2964.4,579.8 2943.6,560.9" fill="#3d7dc0" stroke="#3d7dc0"/>
<polygon points="2998.6,502.9 3019.4,522.5 3002.3,564.3 2981.5,545.4" fill="#3e8abf" stroke="#3e8abf"/>
<polygon points="3036.5,469.2 3057.2,488.5 3040.1,541.5 3019.4,522.5" fill="#3d9cae" stroke="#3d9cae"/>
<polygon points="3074.3,418.6 3095.1,436.9 3078,507.3 3057.2,488.5" fill="#4aac84" stroke="#4aac84"/>
<polygon points="2413.2,255.9 2434,390.2 2416.9,406.4 2396.1,267.6" fill="#e5d735" stroke="#e5d735"/>
<polygon points="2451.1,373.8 2471.9,466.9 2454.8,485 2434,390.2" fill="#a7ac55" stroke="#a7ac55"/>
<polygon points="2489,448.5 2509.8,516.1 2492.7,534.8 2471.9,466.9" fill="#43a98e" stroke="#43a98e"/>
<polygon points="2526.9,497 2547.6,548.4 2530.5,567 2509.8,516.1" fill="#3d97b4" stroke="#3d97b4"/>
<polygon points="2564.7,529 2585.5,569.8 2568.4,588.2 2547.6,548.4" fill="#3e84bf" stroke="#3e84bf"/>
<polygon points="2602.6,550.5 2623.4,584.1 2606.3,602.4 2585.5,569.8" fill="#3d78bf" stroke="#3d78bf"/>
<polygon points="2640.5,564.8 2661.3,593.6 2644.2,611.8 2623.4,584.1" fill="#3c71be" stroke="#3c71be"/>
<polygon points="2678.4,574.2 2699.2,599.6 2682.1,618 2661.3,593.6" fill="#3a6dbc" stroke="#3a6dbc"/>
<polygon points="2716.3,580 2737.1,603.1 2720,621.7 2699.2,599.6" fill="#396abb" stroke="#396abb"/>
<polygon points="2754.2,583.1 2774.9,604.6 2757.8,623.6 2737.1,603.1" fill="#3968bb" stroke="#3968bb"/>
<polygon points="2792,583.7 2812.8,604.1 2795.7,623.9 2774.9,604.6" fill="#3968ba" stroke="#3968ba"/>
<polygon points="2829.9,582.1 2850.7,601.8 2833.6,622.7 2812.8,604.1" fill="#3968bb" stroke="#3968bb"/>
<polygon points="2867.8,578.2 2888.6,597.3 2871.5,619.9 2850.7,601.8" fill="#396abb" stroke="#396abb"/>
<polygon points="2905.7,571.4 2926.5,590.3 2909.4,615.2 2888.6,597.3" fill="#3a6dbc" stroke="#3a6dbc"/>
<polygon points="2943.6,560.9 2964.4,579.8 2947.3,608.1 2926.5,590.3" fill="#3c71be" stroke="#3c71be"/>
<polygon points="2981.5,545.4 3002.3,564.3 2985.2,597.7 2964.4,579.8" fill="#3d78bf" stroke="#3d78bf"/>
<polygon points="3019.4,522.5 3040.1,541.5 3023,582.4 3002.3,564.3" fill="#3e84bf" stroke="#3e84bf"/>
<polygon points="3057.2,488.5 3078,507.3 3060.9,559.8 3040.1,541.5" fill="#3d98b3" stroke="#3d98b3"/>
<polygon points="3095.1,436.9 3115.9,454.9 3098.8,525.5 3078,507.3" fill="#45aa8b" stroke="#45aa8b"/>
<polygon points="2396.1,267.6 2416.9,406.4 2410.9,412.1 2390.1,271.7" fill="#e6d634" stroke="#e6d634"/>
<polygon points="2434,390.2 2454.8,485 2437.7,502.8 2416.9,406.4" fill="#a5ad56" stroke="#a5ad56"/>
<polygon points="2471.9,466.9 2492.7,534.8 2475.6,552.9 2454.8,485" fill="#41a695" stroke="#41a695"/>
<polygon points="2509.8,516.1 2530.5,567 2513.4,585 2492.7,534.8" fill="#3e92b8" stroke="#3e92b8"/>
<polygon points="2547.6,548.4 2568.4,588.2 2551.3,606 2530.5,567" fill="#3d7fc0" stroke="#3d7fc0"/>
<polygon points="2585.5,569.8 2606.3,602.4 2589.2,619.9 2568.4,588.2" fill="#3c74be" stroke="#3c74be"/>
<polygon points="2623.4,584.1 2644.2,611.8 2627.1,629.1 2606.3,602.4" fill="#3b6ebd" stroke="#3b6ebd"/>
<polygon points="2661.3,593.6 2682.1,618 2665,635.2 2644.2,611.8" fill="#3969bb" stroke="#3969bb"/>
<polygon points="2699.2,599.6 2720,621.7 2702.9,639 2682.1,618" fill="#3865b9" stroke="#3865b9"/>
<polygon points="2737.1,603.1 2757.8,623.6 2740.8,641.1 2720,621.7" fill="#3763b7" stroke="#3763b7"/>
<polygon points="2774.9,604.6 2795.7,623.9 2778.6,641.9 2757.8,623.6" fill="#3762b7" stroke="#3762b7"/>
<polygon points="2812.8,604.1 2833.6,622.7 2816.5,641.4 2795.7,623.9" fill="#3762b7" stroke="#3762b7"/>
<polygon points="2850.7,601.8 2871.5,619.9 2854.4,639.8 2833.6,622.7" fill="#3763b7" stroke="#3763b7"/>
<polygon points="2888.6,597.3 2909.4,615.2 2892.3,636.7 2871.5,619.9" fill="#3865b9" stroke="#3865b9"/>
<polygon points="2926.5,590.3 2947.3,608.1 2930.2,632 2909.4,615.2" fill="#3969bb" stroke="#3969bb"/>
<polygon points="2964.4,579.8 2985.2,597.7 2968.1,625 2947.3,608.1" fill="#3b6ebd" stroke="#3b6ebd"/>
<polygon points="3002.3,564.3 3023,582.4 3005.9,614.8 2985.2,597.7" fill="#3c74be" stroke="#3c74be"/>
<polygon points="3040.1,541.5 3060.9,559.8 3043.8,599.8 3023,582.4" fill="#3d7fc0" stroke="#3d7fc0"/>
<polygon points="3078,507.3 3098.8,525.5 3081.7,577.4 3060.9,559.8" fill="#3d93b7" stroke="#3d93b7"/>
<polygon points="3115.9,454.9 3136.7,657.8 3119.6,668.5 3098.8,525.5" fill="#42a892" stroke="#42a892"/>
<polygon points="2416.9,406.4 2437.7,502.8 2431.7,508.9 2410.9,412.1" fill="#9faf59" stroke="#9faf59"/>
<polygon points="2454.8,485 2475.6,552.9 2458.5,570.6 2437.7,502.8" fill="#3fa49c" stroke="#3fa49c"/>
<polygon points="2492.7,534.8 2513.4,585 2496.3,602.5 2475.6,552.9" fill="#3e8ebc" stroke="#3e8ebc"/>
<polygon points="2530.5,567 2551.3,606 2534.2,623.1 2513.4,585" fill="#3d7bc0" stroke="#3d7bc0"/>
<polygon points="2568.4,588.2 2589.2,619.9 2572.1,636.6 2551.3,606" fill="#3c71be" stroke="#3c71be"/>
<polygon points="2606.3,602.4 2627.1,629.1 2610,645.5 2589.2,619.9" fill="#396abb" stroke="#396abb"/>
<polygon points="2644.2,611.8 2665,635.2 2647.9,651.4 2627.1,629.1" fill="#3865b8" stroke="#3865b8"/>
<polygon points="2682.1,618 2702.9,639 2685.8,655.2 2665,635.2" fill="#3661b6" stroke="#3661b6"/>
<polygon points="2720,621.7 2740.8,641.1 2723.7,657.5 2702.9,639" fill="#355eb5" stroke="#355eb5"/>
<polygon points="2757.8,623.6 2778.6,641.9 2761.5,658.5 2740.8,641.1" fill="#355cb3" stroke="#355cb3"/>
<polygon points="2795.7,623.9 2816.5,641.4 2799.4,658.5 2778.6,641.9" fill="#355bb3" stroke="#355bb3"/>
<polygon points="2833.6,622.7 2854.4,639.8 2837.3,657.6 2816.5,641.4" fill="#355cb3" stroke="#355cb3"/>
<polygon points="2871.5,619.9 2892.3,636.7 2875.2,655.7 2854.4,639.8" fill="#355eb5" stroke="#355eb5"/>
<polygon points="2909.4,615.2 2930.2,632 2913.1,652.5 2892.3,636.7" fill="#3660b6" stroke="#3660b6"/>
<polygon points="2947.3,608.1 2968.1,625 2951,647.8 2930.2,632" fill="#3764b8" stroke="#3764b8"/>
<polygon points="2985.2,597.7 3005.9,614.8 2988.8,641 2968.1,625" fill="#396abb" stroke="#396abb"/>
<polygon points="3023,582.4 3043.8,599.8 3026.7,631.1 3005.9,614.8" fill="#3c71be" stroke="#3c71be"/>
<polygon points="3060.9,559.8 3081.7,577.4 3064.6,616.5 3043.8,599.8" fill="#3d7bc0" stroke="#3d7bc0"/>
<polygon points="3098.8,525.5 3119.6,668.5 3102.5,679.2 3081.7,577.4" fill="#3e8ebb" stroke="#3e8ebb"/>
<polygon points="2437.7,502.8 2458.5,570.6 2452.5,576.7 2431.7,508.9" fill="#3ea1a1" stroke="#3ea1a1"/>
<polygon points="2475.6,552.9 2496.3,602.5 2479.2,619.5 2458.5,570.6" fill="#3e89bf" stroke="#3e89bf"/>
<polygon points="2513.4,585 2534.2,623.1 2517.1,639.6 2496.3,602.5" fill="#3c77bf" stroke="#3c77bf"/>
<polygon points="2551.3,606 2572.1,636.6 2555,652.7 2534.2,623.1" fill="#3b6ebd" stroke="#3b6ebd"/>
<polygon points="2589.2,619.9 2610,645.5 2592.9,661.2 2572.1,636.6" fill="#3866ba" stroke="#3866ba"/>
<polygon points="2627.1,629.1 2647.9,651.4 2630.8,666.9 2610,645.5" fill="#3661b6" stroke="#3661b6"/>
<polygon points="2665,635.2 2685.8,655.2 2668.7,670.6 2647.9,651.4" fill="#355cb3" stroke="#355cb3"/>
<polygon points="2702.9,639 2723.7,657.5 2706.5,672.8 2685.8,655.2" fill="#3457af" stroke="#3457af"/>
<polygon points="2740.8,641.1 2761.5,658.5 2744.4,674 2723.7,657.5" fill="#3354ac" stroke="#3354ac"/>
<polygon points="2778.6,641.9 2799.4,658.5 2782.3,674.3 2761.5,658.5" fill="#3353ab" stroke="#3353ab"/>
<polygon points="2816.5,641.4 2837.3,657.6 2820.2,673.8 2799.4,658.5" fill="#3352ab" stroke="#3352ab"/>
<polygon points="2854.4,639.8 2875.2,655.7 2858.1,672.6 2837.3,657.6" fill="#3354ac" stroke="#3354ac"/>
<polygon points="2892.3,636.7 2913.1,652.5 2896,670.5 2875.2,655.7" fill="#3457af" stroke="#3457af"/>
<polygon points="2930.2,632 2951,647.8 2933.9,667.4 2913.1,652.5" fill="#355cb3" stroke="#355cb3"/>
<polygon points="2968.1,625 2988.8,641 2971.7,662.8 2951,647.8" fill="#3660b6" stroke="#3660b6"/>
<polygon points="3005.9,614.8 3026.7,631.1 3009.6,656.3 2988.8,641" fill="#3866b9" stroke="#3866b9"/>
<polygon points="3043.8,599.8 3064.6,616.5 3047.5,646.7 3026.7,631.1" fill="#3b6ebd" stroke="#3b6ebd"/>
<polygon points="3081.7,577.4 3102.5,679.2 3085.4,689.9 3064.6,616.5" fill="#3c77bf" stroke="#3c77bf"/>
<polygon points="2458.5,570.6 2479.2,619.5 2473.3,625.3 2452.5,576.7" fill="#3e85bf" stroke="#3e85bf"/>
<polygon points="2496.3,602.5 2517.1,639.6 2500,655.5 2479.2,619.5" fill="#3c74be" stroke="#3c74be"/>
<polygon points="2534.2,623.1 2555,652.7 2537.9,668.1 2517.1,639.6" fill="#3a6bbc" stroke="#3a6bbc"/>
<polygon points="2572.1,636.6 2592.9,661.2 2575.8,676.3 2555,652.7" fill="#3763b7" stroke="#3763b7"/>
<polygon points="2610,645.5 2630.8,666.9 2613.7,681.7 2592.9,661.2" fill="#355db4" stroke="#355db4"/>
<polygon points="2647.9,651.4 2668.7,670.6 2651.6,685.2 2630.8,666.9" fill="#3356ae" stroke="#3356ae"/>
<polygon points="2685.8,655.2 2706.5,672.8 2689.4,687.3 2668.7,670.6" fill="#3251aa" stroke="#3251aa"/>
<polygon points="2723.7,657.5 2744.4,674 2727.3,688.5 2706.5,672.8" fill="#324da7" stroke="#324da7"/>
<polygon points="2761.5,658.5 2782.3,674.3 2765.2,689 2744.4,674" fill="#314ba5" stroke="#314ba5"/>
<polygon points="2799.4,658.5 2820.2,673.8 2803.1,688.8 2782.3,674.3" fill="#314ba5" stroke="#314ba5"/>
<polygon points="2837.3,657.6 2858.1,672.6 2841,688.1 2820.2,673.8" fill="#314ba5" stroke="#314ba5"/>
<polygon points="2875.2,655.7 2896,670.5 2878.9,686.7 2858.1,672.6" fill="#324da7" stroke="#324da7"/>
<polygon points="2913.1,652.5 2933.9,667.4 2916.8,684.6 2896,670.5" fill="#3250a9" stroke="#3250a9"/>
<polygon points="2951,647.8 2971.7,662.8 2954.6,681.5 2933.9,667.4" fill="#3355ae" stroke="#3355ae"/>
<polygon points="2988.8,641 3009.6,656.3 2992.5,677.2 2971.7,662.8" fill="#355db4" stroke="#355db4"/>
<polygon points="3026.7,631.1 3047.5,646.7 3030.4,670.9 3009.6,656.3" fill="#3763b7" stroke="#3763b7"/>
<polygon points="3064.6,616.5 3085.4,689.9 3068.3,700.6 3047.5,646.7" fill="#3a6bbc" stroke="#3a6bbc"/>
<polygon points="2479.2,619.5 2500,655.5 2494,661 2473.3,625.3" fill="#3c71be" stroke="#3c71be"/>
<polygon points="2517.1,639.6 2537.9,668.1 2520.8,683.1 2500,655.5" fill="#3968ba" stroke="#3968ba"/>
<polygon points="2555,652.7 2575.8,676.3 2558.7,690.8 2537.9,668.1" fill="#3660b6" stroke="#3660b6"/>
<polygon points="2592.9,661.2 2613.7,681.7 2596.6,695.9 2575.8,676.3" fill="#3457af" stroke="#3457af"/>
<polygon points="2630.8,666.9 2651.6,685.2 2634.5,699.1 2613.7,681.7" fill="#3250a9" stroke="#3250a9"/>
<polygon points="2668.7,670.6 2689.4,687.3 2672.3,701.2 2651.6,685.2" fill="#314ba5" stroke="#314ba5"/>
<polygon points="2706.5,672.8 2727.3,688.5 2710.2,702.4 2689.4,687.3" fill="#3147a1" stroke="#3147a1"/>
<polygon points="2744.4,674 2765.2,689 2748.1,702.9 2727.3,688.5" fill="#30459f" stroke="#30459f"/>
<polygon points="2782.3,674.3 2803.1,688.8 2786,702.9 2765.2,689" fill="#30449d" stroke="#30449d"/>
<polygon points="2820.2,673.8 2841,688.1 2823.9,702.4 2803.1,688.8" fill="#30449d" stroke="#30449d"/>
<polygon points="2858.1,672.6 2878.9,686.7 2861.8,701.5 2841,688.1" fill="#30459f" stroke="#30459f"/>
<polygon points="2896,670.5 2916.8,684.6 2899.7,700.1 2878.9,686.7" fill="#3047a1" stroke="#3047a1"/>
<polygon points="2933.9,667.4 2954.6,681.5 2937.5,698 2916.8,684.6" fill="#314ba5" stroke="#314ba5"/>
<polygon points="2971.7,662.8 2992.5,677.2 2975.4,695.1 2954.6,681.5" fill="#3250a9" stroke="#3250a9"/>
<polygon points="3009.6,656.3 3030.4,670.9 3013.3,690.9 2992.5,677.2" fill="#3457af" stroke="#3457af"/>
<polygon points="3047.5,646.7 3068.3,700.6 3051.2,711.3 3030.4,670.9" fill="#365fb5" stroke="#365fb5"/>
<polygon points="2500,655.5 2520.8,683.1 2514.8,688.2 2494,661" fill="#3865b8" stroke="#3865b8"/>
<polygon points="2537.9,668.1 2558.7,690.8 2541.6,704.9 2520.8,683.1" fill="#355cb4" stroke="#355cb4"/>
<polygon points="2575.8,676.3 2596.6,695.9 2579.5,709.6 2558.7,690.8" fill="#3352ab" stroke="#3352ab"/>
<polygon points="2613.7,681.7 2634.5,699.1 2617.4,712.6 2596.6,695.9" fill="#314ba5" stroke="#314ba5"/>
<polygon points="2651.6,685.2 2672.3,701.2 2655.2,714.5 2634.5,699.1" fill="#30469f" stroke="#30469f"/>
<polygon points="2689.4,687.3 2710.2,702.4 2693.1,715.6 2672.3,701.2" fill="#30429b" stroke="#30429b"/>
<polygon points="2727.3,688.5 2748.1,702.9 2731,716.1 2710.2,702.4" fill="#2f4099" stroke="#2f4099"/>
<polygon points="2765.2,689 2786,702.9 2768.9,716.2 2748.1,702.9" fill="#2f3f97" stroke="#2f3f97"/>
<polygon points="2803.1,688.8 2823.9,702.4 2806.8,715.9 2786,702.9" fill="#2f3e97" stroke="#2f3e97"/>
<polygon points="2841,688.1 2861.8,701.5 2844.7,715.3 2823.9,702.4" fill="#2f3f97" stroke="#2f3f97"/>
<polygon points="2878.9,686.7 2899.7,700.1 2882.6,714.3 2861.8,701.5" fill="#2f4099" stroke="#2f4099"/>
<polygon points="2916.8,684.6 2937.5,698 2920.4,712.8 2899.7,700.1" fill="#30429b" stroke="#30429b"/>
<polygon points="2954.6,681.5 2975.4,695.1 2958.3,710.8 2937.5,698" fill="#30469f" stroke="#30469f"/>
<polygon points="2992.5,677.2 3013.3,690.9 2996.2,708 2975.4,695.1" fill="#314ba5" stroke="#314ba5"/>
<polygon points="3030.4,670.9 3051.2,711.3 3034.1,722 3013.3,690.9" fill="#3352aa" stroke="#3352aa"/>
<polygon points="2520.8,683.1 2541.6,704.9 2535.6,709.7 2514.8,688.2" fill="#3457af" stroke="#3457af"/>
<polygon points="2558.7,690.8 2579.5,709.6 2562.4,722.9 2541.6,704.9" fill="#324ea7" stroke="#324ea7"/>
<polygon points="2596.6,695.9 2617.4,712.6 2600.3,725.6 2579.5,709.6" fill="#3047a0" stroke="#3047a0"/>
<polygon points="2634.5,699.1 2655.2,714.5 2638.1,727.3 2617.4,712.6" fill="#2f429a" stroke="#2f429a"/>
<polygon points="2672.3,701.2 2693.1,715.6 2676,728.3 2655.2,714.5" fill="#2f3e97" stroke="#2f3e97"/>
<polygon points="2710.2,702.4 2731,716.1 2713.9,728.8 2693.1,715.6" fill="#2e3c94" stroke="#2e3c94"/>
<polygon points="2748.1,702.9 2768.9,716.2 2751.8,728.9 2731,716.1" fill="#2e3b93" stroke="#2e3b93"/>
<polygon points="2786,702.9 2806.8,715.9 2789.7,728.7 2768.9,716.2" fill="#2e3a92" stroke="#2e3a92"/>
<polygon points="2823.9,702.4 2844.7,715.3 2827.6,728.3 2806.8,715.9" fill="#2e3a92" stroke="#2e3a92"/>
<polygon points="2861.8,701.5 2882.6,714.3 2865.5,727.5 2844.7,715.3" fill="#2e3a92" stroke="#2e3a92"/>
<polygon points="2899.7,700.1 2920.4,712.8 2903.3,726.5 2882.6,714.3" fill="#2e3c94" stroke="#2e3c94"/>
<polygon points="2937.5,698 2958.3,710.8 2941.2,725.1 2920.4,712.8" fill="#2f3e96" stroke="#2f3e96"/>
<polygon points="2975.4,695.1 2996.2,708 2979.1,723.2 2958.3,710.8" fill="#2f419a" stroke="#2f419a"/>
<polygon points="3013.3,690.9 3034.1,722 3017,732.7 2996.2,708" fill="#3046a0" stroke="#3046a0"/>
<polygon points="2541.6,704.9 2562.4,722.9 2556.4,727.4 2535.6,709.7" fill="#3149a3" stroke="#3149a3"/>
<polygon points="2579.5,709.6 2600.3,725.6 2583.2,738.3 2562.4,722.9" fill="#30439c" stroke="#30439c"/>
<polygon points="2617.4,712.6 2638.1,727.3 2621,739.8 2600.3,725.6" fill="#2f3e96" stroke="#2f3e96"/>
<polygon points="2655.2,714.5 2676,728.3 2658.9,740.7 2638.1,727.3" fill="#2e3b93" stroke="#2e3b93"/>
<polygon points="2693.1,715.6 2713.9,728.8 2696.8,741.1 2676,728.3" fill="#2e3991" stroke="#2e3991"/>
<polygon points="2731,716.1 2751.8,728.9 2734.7,741.2 2713.9,728.8" fill="#2e3890" stroke="#2e3890"/>
<polygon points="2768.9,716.2 2789.7,728.7 2772.6,741.1 2751.8,728.9" fill="#2e388f" stroke="#2e388f"/>
<polygon points="2806.8,715.9 2827.6,728.3 2810.5,740.7 2789.7,728.7" fill="#2e378f" stroke="#2e378f"/>
<polygon points="2844.7,715.3 2865.5,727.5 2848.4,740.1 2827.6,728.3" fill="#2e378f" stroke="#2e378f"/>
<polygon points="2882.6,714.3 2903.3,726.5 2886.2,739.3 2865.5,727.5" fill="#2e388f" stroke="#2e388f"/>
<polygon points="2920.4,712.8 2941.2,725.1 2924.1,738.3 2903.3,726.5" fill="#2e3991" stroke="#2e3991"/>
<polygon points="2958.3,710.8 2979.1,723.2 2962,737 2941.2,725.1" fill="#2e3a92" stroke="#2e3a92"/>
<polygon points="2996.2,708 3017,732.7 2999.9,743.5 2979.1,723.2" fill="#2f3d96" stroke="#2f3d96"/>
<polygon points="2562.4,722.9 2583.2,738.3 2577.2,742.6 2556.4,727.4" fill="#2f3f98" stroke="#2f3f98"/>
<polygon points="2600.3,725.6 2621,739.8 2603.9,752 2583.2,738.3" fill="#2e3b93" stroke="#2e3b93"/>
<polygon points="2638.1,727.3 2658.9,740.7 2641.8,752.7 2621,739.8" fill="#2e3890" stroke="#2e3890"/>
<polygon points="2676,728.3 2696.8,741.1 2679.7,753.1 2658.9,740.7" fill="#2d378e" stroke="#2d378e"/>
<polygon points="2713.9,728.8 2734.7,741.2 2717.6,753.1 2696.8,741.1" fill="#2d368d" stroke="#2d368d"/>
<polygon points="2751.8,728.9 2772.6,741.1 2755.5,753 2734.7,741.2" fill="#2d368c" stroke="#2d368c"/>
<polygon points="2789.7,728.7 2810.5,740.7 2793.4,752.7 2772.6,741.1" fill="#2d358c" stroke="#2d358c"/>
<polygon points="2827.6,728.3 2848.4,740.1 2831.3,752.2 2810.5,740.7" fill="#2d358c" stroke="#2d358c"/>
<polygon points="2865.5,727.5 2886.2,739.3 2869.1,751.6 2848.4,740.1" fill="#2d368c" stroke="#2d368c"/>
<polygon points="2903.3,726.5 2924.1,738.3 2907,750.8 2886.2,739.3" fill="#2d368d" stroke="#2d368d"/>
<polygon points="2941.2,725.1 2962,737 2944.9,749.8 2924.1,738.3" fill="#2d378e" stroke="#2d378e"/>
<polygon points="2979.1,723.2 2999.9,743.5 2982.8,754.2 2962,737" fill="#2e3890" stroke="#2e3890"/>
<polygon points="2583.2,738.3 2603.9,752 2598,756.2 2577.2,742.6" fill="#2e3990" stroke="#2e3990"/>
<polygon points="2621,739.8 2641.8,752.7 2624.7,764.5 2603.9,752" fill="#2d378e" stroke="#2d378e"/>
<polygon points="2658.9,740.7 2679.7,753.1 2662.6,764.8 2641.8,752.7" fill="#2d368c" stroke="#2d368c"/>
<polygon points="2696.8,741.1 2717.6,753.1 2700.5,764.8 2679.7,753.1" fill="#2d358b" stroke="#2d358b"/>
<polygon points="2734.7,741.2 2755.5,753 2738.4,764.7 2717.6,753.1" fill="#2d348b" stroke="#2d348b"/>
<polygon points="2772.6,741.1 2793.4,752.7 2776.3,764.4 2755.5,753" fill="#2d348a" stroke="#2d348a"/>
<polygon points="2810.5,740.7 2831.3,752.2 2814.2,763.9 2793.4,752.7" fill="#2d348a" stroke="#2d348a"/>
<polygon points="2848.4,740.1 2869.1,751.6 2852,763.4 2831.3,752.2" fill="#2d348a" stroke="#2d348a"/>
<polygon points="2886.2,739.3 2907,750.8 2889.9,762.8 2869.1,751.6" fill="#2d348b" stroke="#2d348b"/>
<polygon points="2924.1,738.3 2944.9,749.8 2927.8,762 2907,750.8" fill="#2d358b" stroke="#2d358b"/>
<polygon points="2962,737 2982.8,754.2 2965.7,764.9 2944.9,749.8" fill="#2d358c" stroke="#2d358c"/>
<polygon points="2603.9,752 2624.7,764.5 2618.7,768.6 2598,756.2" fill="#2d368c" stroke="#2d368c"/>
<polygon points="2641.8,752.7 2662.6,764.8 2645.5,776.3 2624.7,764.5" fill="#2d348b" stroke="#2d348b"/>
<polygon points="2679.7,753.1 2700.5,764.8 2683.4,776.3 2662.6,764.8" fill="#2d348a" stroke="#2d348a"/>
<polygon points="2717.6,753.1 2738.4,764.7 2721.3,776.1 2700.5,764.8" fill="#2d3389" stroke="#2d3389"/>
<polygon points="2755.5,753 2776.3,764.4 2759.2,775.8 2738.4,764.7" fill="#2d3389" stroke="#2d3389"/>
<polygon points="2793.4,752.7 2814.2,763.9 2797.1,775.4 2776.3,764.4" fill="#2d3389" stroke="#2d3389"/>
<polygon points="2831.3,752.2 2852,763.4 2834.9,774.9 2814.2,763.9" fill="#2d3389" stroke="#2d3389"/>
<polygon points="2869.1,751.6 2889.9,762.8 2872.8,774.3 2852,763.4" fill="#2d3389" stroke="#2d3389"/>
<polygon points="2907,750.8 2927.8,762 2910.7,773.7 2889.9,762.8" fill="#2d3389" stroke="#2d3389"/>
<polygon points="2944.9,749.8 2965.7,764.9 2948.6,775.6 2927.8,762" fill="#2d338a" stroke="#2d338a"/>
<polygon points="2624.7,764.5 2645.5,776.3 2639.5,780.3 2618.7,768.6" fill="#2d338a" stroke="#2d338a"/>
<polygon points="2662.6,764.8 2683.4,776.3 2666.3,787.6 2645.5,776.3" fill="#2d3389" stroke="#2d3389"/>
<polygon points="2700.5,764.8 2721.3,776.1 2704.2,787.3 2683.4,776.3" fill="#2d3288" stroke="#2d3288"/>
<polygon points="2738.4,764.7 2759.2,775.8 2742.1,787 2721.3,776.1" fill="#2d3288" stroke="#2d3288"/>
<polygon points="2776.3,764.4 2797.1,775.4 2780,786.6 2759.2,775.8" fill="#2c3287" stroke="#2c3287"/>
<polygon points="2814.2,763.9 2834.9,774.9 2817.8,786.2 2797.1,775.4" fill="#2c3287" stroke="#2c3287"/>
<polygon points="2852,763.4 2872.8,774.3 2855.7,785.7 2834.9,774.9" fill="#2c3287" stroke="#2c3287"/>
<polygon points="2889.9,762.8 2910.7,773.7 2893.6,785.1 2872.8,774.3" fill="#2d3288" stroke="#2d3288"/>
<polygon points="2927.8,762 2948.6,775.6 2931.5,786.3 2910.7,773.7" fill="#2d3288" stroke="#2d3288"/>
<polygon points="2645.5,776.3 2666.3,787.6 2660.3,791.5 2639.5,780.3" fill="#2d3288" stroke="#2d3288"/>
<polygon points="2683.4,776.3 2704.2,787.3 2687.1,798.5 2666.3,787.6" fill="#2c3187" stroke="#2c3187"/>
<polygon points="2721.3,776.1 2742.1,787 2725,798.1 2704.2,787.3" fill="#2c3187" stroke="#2c3187"/>
<polygon points="2759.2,775.8 2780,786.6 2762.9,797.8 2742.1,787" fill="#2c3187" stroke="#2c3187"/>
<polygon points="2797.1,775.4 2817.8,786.2 2800.7,797.3 2780,786.6" fill="#2c3186" stroke="#2c3186"/>
<polygon points="2834.9,774.9 2855.7,785.7 2838.6,796.8 2817.8,786.2" fill="#2c3186" stroke="#2c3186"/>
<polygon points="2872.8,774.3 2893.6,785.1 2876.5,796.3 2855.7,785.7" fill="#2c3187" stroke="#2c3187"/>
<polygon points="2910.7,773.7 2931.5,786.3 2914.4,797 2893.6,785.1" fill="#2c3187" stroke="#2c3187"/>
<polygon points="2666.3,787.6 2687.1,798.5 2681.1,802.3 2660.3,791.5" fill="#2c3186" stroke="#2c3186"/>
<polygon points="2704.2,787.3 2725,798.1 2707.9,809.2 2687.1,798.5" fill="#2c3186" stroke="#2c3186"/>
<polygon points="2742.1,787 2762.9,797.8 2745.8,808.8 2725,798.1" fill="#2c3186" stroke="#2c3186"/>
<polygon points="2780,786.6 2800.7,797.3 2783.6,808.3 2762.9,797.8" fill="#2c3086" stroke="#2c3086"/>
<polygon points="2817.8,786.2 2838.6,796.8 2821.5,807.9 2800.7,797.3" fill="#2c3086" stroke="#2c3086"/>
<polygon points="2855.7,785.7 2876.5,796.3 2859.4,807.4 2838.6,796.8" fill="#2c3086" stroke="#2c3086"/>
<polygon points="2893.6,785.1 2914.4,797 2897.3,807.7 2876.5,796.3" fill="#2c3186" stroke="#2c3186"/>
<polygon points="2687.1,798.5 2707.9,809.2 2701.9,813 2681.1,802.3" fill="#2c3086" stroke="#2c3086"/>
<polygon points="2725,798.1 2745.8,808.8 2728.7,819.7 2707.9,809.2" fill="#2c3085" stroke="#2c3085"/>
<polygon points="2762.9,797.8 2783.6,808.3 2766.5,819.2 2745.8,808.8" fill="#2c3085" stroke="#2c3085"/>
<polygon points="2800.7,797.3 2821.5,807.9 2804.4,818.8 2783.6,808.3" fill="#2c3085" stroke="#2c3085"/>
<polygon points="2838.6,796.8 2859.4,807.4 2842.3,818.3 2821.5,807.9" fill="#2c3085" stroke="#2c3085"/>
<polygon points="2876.5,796.3 2897.3,807.7 2880.2,818.4 2859.4,807.4" fill="#2c3085" stroke="#2c3085"/>
<polygon points="2707.9,809.2 2728.7,819.7 2722.7,823.5 2701.9,813" fill="#2c3085" stroke="#2c3085"/>
<polygon points="2745.8,808.8 2766.5,819.2 2749.4,830.1 2728.7,819.7" fill="#2c3085" stroke="#2c3085"/>
<polygon points="2783.6,808.3 2804.4,818.8 2787.3,829.6 2766.5,819.2" fill="#2c3085" stroke="#2c3085"/>
<polygon points="2821.5,807.9 2842.3,818.3 2825.2,829.2 2804.4,818.8" fill="#2c3085" stroke="#2c3085"/>
<polygon points="2859.4,807.4 2880.2,818.4 2863.1,829.1 2842.3,818.3" fill="#2c3085" stroke="#2c3085"/>
<polygon points="2728.7,819.7 2749.4,830.1 2743.5,833.9 2722.7,823.5" fill="#2c3085" stroke="#2c3085"/>
<polygon points="2766.5,819.2 2787.3,829.6 2770.2,840.5 2749.4,830.1" fill="#2c3085" stroke="#2c3085"/>
<polygon points="2804.4,818.8 2825.2,829.2 2808.1,840 2787.3,829.6" fill="#2c3085" stroke="#2c3085"/>
<polygon points="2842.3,818.3 2863.1,829.1 2846,839.8 2825.2,829.2" fill="#2c3085" stroke="#2c3085"/>
<polygon points="2749.4,830.1 2770.2,840.5 2764.2,844.2 2743.5,833.9" fill="#2c2f84" stroke="#2c2f84"/>
<polygon points="2787.3,829.6 2808.1,840 2791,850.8 2770.2,840.5" fill="#2c2f84" stroke="#2c2f84"/>
<polygon points="2825.2,829.2 2846,839.8 2828.9,850.5 2808.1,840" fill="#2c2f84" stroke="#2c2f84"/>
<polygon points="2770.2,840.5 2791,850.8 2785,854.5 2764.2,844.2" fill="#2c2f84" stroke="#2c2f84"/>
<polygon points="2808.1,840 2828.9,850.5 2811.8,861.2 2791,850.8" fill="#2c2f84" stroke="#2c2f84"/>
<polygon points="2791,850.8 2811.8,861.2 2805.8,864.9 2785,854.5" fill="#2c2f84" stroke="#2c2f84"/>
</g></g>
<g stroke="#161616" stroke-width="1.15" stroke-linejoin="round" fill="none">
<polyline points="2734,61.7 2711.7,69.9 2692,79.3 2673.4,89.3 2655.2,99.4 2637.4,109.8 2619.7,120.2 2602.2,130.7 2584.7,141.2 2567.3,151.8 2550,162.4 2532.9,174.1 2515.8,185.8 2498.7,197.5 2481.6,209.1 2464.5,220.8 2447.4,232.5 2430.3,244.2 2413.2,255.9 2396.1,267.6 2390.1,271.7"/>
<polyline points="2741.8,71.4 2724.7,90.6 2707.6,109.6 2690.5,128.4 2673.4,147 2656.3,165.5 2639.2,183.7 2622.1,201.8 2605,219.7 2587.9,237.4 2570.8,255 2553.7,272.4 2536.6,289.7 2519.5,306.8 2502.4,323.7 2485.3,340.6 2468.2,357.2 2451.1,373.8 2434,390.2 2416.9,406.4 2410.9,412.1"/>
<polyline points="2762.6,96.8 2745.5,122.8 2728.4,148.1 2711.3,172.9 2694.2,197 2677.1,220.5 2660,243.5 2642.9,266 2625.8,288 2608.7,309.5 2591.6,330.6 2574.5,351.2 2557.4,371.5 2540.3,391.3 2523.2,410.7 2506.1,429.8 2489,448.5 2471.9,466.9 2454.8,485 2437.7,502.8 2431.7,508.9"/>
<polyline points="2783.4,121.6 2766.3,153.7 2749.2,184.5 2732.1,214.1 2715,242.5 2697.9,269.9 2680.8,296.2 2663.7,321.6 2646.6,346.1 2629.5,369.8 2612.4,392.7 2595.3,414.8 2578.2,436.3 2561.1,457.1 2544,477.3 2526.9,497 2509.8,516.1 2492.7,534.8 2475.6,552.9 2458.5,570.6 2452.5,576.7"/>
<polyline points="2804.1,145.9 2787,183.5 2769.9,219 2752.8,252.5 2735.7,284.2 2718.6,314.2 2701.5,342.8 2684.4,369.9 2667.3,395.8 2650.2,420.4 2633.1,444 2616,466.6 2598.9,488.2 2581.8,509 2564.7,529 2547.6,548.4 2530.5,567 2513.4,585 2496.3,602.5 2479.2,619.5 2473.3,625.3"/>
<polyline points="2824.9,169.6 2807.8,212.1 2790.7,251.6 2773.6,288.2 2756.5,322.4 2739.4,354.2 2722.3,384.1 2705.2,412.1 2688.1,438.4 2671,463.3 2653.9,486.8 2636.8,509.1 2619.7,530.3 2602.6,550.5 2585.5,569.8 2568.4,588.2 2551.3,606 2534.2,623.1 2517.1,639.6 2500,655.5 2494,661"/>
<polyline points="2845.7,192.8 2828.6,239.7 2811.5,282.5 2794.4,321.6 2777.3,357.4 2760.2,390.4 2743.1,420.9 2726,449.2 2708.9,475.4 2691.8,499.9 2674.7,522.9 2657.6,544.4 2640.5,564.8 2623.4,584.1 2606.3,602.4 2589.2,619.9 2572.1,636.6 2555,652.7 2537.9,668.1 2520.8,683.1 2514.8,688.2"/>
<polyline points="2866.5,215.5 2849.4,266.3 2832.3,311.8 2815.2,352.8 2798.1,389.8 2781,423.3 2763.9,453.9 2746.8,481.9 2729.7,507.7 2712.6,531.5 2695.5,553.6 2678.4,574.2 2661.3,593.6 2644.2,611.8 2627.1,629.1 2610,645.5 2592.9,661.2 2575.8,676.3 2558.7,690.8 2541.6,704.9 2535.6,709.7"/>
<polyline points="2887.3,237.7 2870.2,291.9 2853.1,339.7 2836,382 2818.9,419.7 2801.8,453.3 2784.7,483.6 2767.6,511.1 2750.5,536 2733.4,558.9 2716.3,580 2699.2,599.6 2682.1,618 2665,635.2 2647.9,651.4 2630.8,666.9 2613.7,681.7 2596.6,695.9 2579.5,709.6 2562.4,722.9 2556.4,727.4"/>
<polyline points="2908.1,259.4 2891,316.7 2873.9,366.3 2856.8,409.5 2839.7,447.4 2822.6,480.8 2805.5,510.5 2788.4,537.2 2771.3,561.2 2754.2,583.1 2737.1,603.1 2720,621.7 2702.9,639 2685.8,655.2 2668.7,670.6 2651.6,685.2 2634.5,699.1 2617.4,712.6 2600.3,725.6 2583.2,738.3 2577.2,742.6"/>
<polyline points="2928.8,280.7 2911.8,340.6 2894.7,391.6 2877.5,435.4 2860.4,473.2 2843.3,506.1 2826.2,535 2809.2,560.7 2792,583.7 2774.9,604.6 2757.8,623.6 2740.8,641.1 2723.7,657.5 2706.5,672.8 2689.4,687.3 2672.3,701.2 2655.2,714.5 2638.1,727.3 2621,739.8 2603.9,752 2598,756.2"/>
<polyline points="2949.6,301.6 2932.5,363.8 2915.4,415.8 2898.3,459.8 2881.2,497.2 2864.1,529.5 2847,557.5 2829.9,582.1 2812.8,604.1 2795.7,623.9 2778.6,641.9 2761.5,658.5 2744.4,674 2727.3,688.5 2710.2,702.4 2693.1,715.6 2676,728.3 2658.9,740.7 2641.8,752.7 2624.7,764.5 2618.7,768.6"/>
<polyline points="2970.4,322 2953.3,386.2 2936.2,439 2919.1,482.9 2902,519.8 2884.9,551.1 2867.8,578.2 2850.7,601.8 2833.6,622.7 2816.5,641.4 2799.4,658.5 2782.3,674.3 2765.2,689 2748.1,702.9 2731,716.1 2713.9,728.8 2696.8,741.1 2679.7,753.1 2662.6,764.8 2645.5,776.3 2639.5,780.3"/>
<polyline points="2991.2,342.1 2974.1,407.9 2957,461.2 2939.9,504.8 2922.8,540.9 2905.7,571.4 2888.6,597.3 2871.5,619.9 2854.4,639.8 2837.3,657.6 2820.2,673.8 2803.1,688.8 2786,702.9 2768.9,716.2 2751.8,728.9 2734.7,741.2 2717.6,753.1 2700.5,764.8 2683.4,776.3 2666.3,787.6 2660.3,791.5"/>
<polyline points="3012,361.8 2994.9,428.9 2977.8,482.4 2960.7,525.6 2943.6,560.9 2926.5,590.3 2909.4,615.2 2892.3,636.7 2875.2,655.7 2858.1,672.6 2841,688.1 2823.9,702.4 2806.8,715.9 2789.7,728.7 2772.6,741.1 2755.5,753 2738.4,764.7 2721.3,776.1 2704.2,787.3 2687.1,798.5 2681.1,802.3"/>
<polyline points="3032.8,381.1 3015.7,449.4 2998.6,502.9 2981.5,545.4 2964.4,579.8 2947.3,608.1 2930.2,632 2913.1,652.5 2896,670.5 2878.9,686.7 2861.8,701.5 2844.7,715.3 2827.6,728.3 2810.5,740.7 2793.4,752.7 2776.3,764.4 2759.2,775.8 2742.1,787 2725,798.1 2707.9,809.2 2701.9,813"/>
<polyline points="3053.6,400 3036.5,469.2 3019.4,522.5 3002.3,564.3 2985.2,597.7 2968.1,625 2951,647.8 2933.9,667.4 2916.8,684.6 2899.7,700.1 2882.6,714.3 2865.5,727.5 2848.4,740.1 2831.3,752.2 2814.2,763.9 2797.1,775.4 2780,786.6 2762.9,797.8 2745.8,808.8 2728.7,819.7 2722.7,823.5"/>
<polyline points="3074.3,418.6 3057.2,488.5 3040.1,541.5 3023,582.4 3005.9,614.8 2988.8,641 2971.7,662.8 2954.6,681.5 2937.5,698 2920.4,712.8 2903.3,726.5 2886.2,739.3 2869.1,751.6 2852,763.4 2834.9,774.9 2817.8,786.2 2800.7,797.3 2783.6,808.3 2766.5,819.2 2749.4,830.1 2743.5,833.9"/>
<polyline points="3095.1,436.9 3078,507.3 3060.9,559.8 3043.8,599.8 3026.7,631.1 3009.6,656.3 2992.5,677.2 2975.4,695.1 2958.3,710.8 2941.2,725.1 2924.1,738.3 2907,750.8 2889.9,762.8 2872.8,774.3 2855.7,785.7 2838.6,796.8 2821.5,807.9 2804.4,818.8 2787.3,829.6 2770.2,840.5 2764.2,844.2"/>
<polyline points="3115.9,454.9 3098.8,525.5 3081.7,577.4 3064.6,616.5 3047.5,646.7 3030.4,670.9 3013.3,690.9 2996.2,708 2979.1,723.2 2962,737 2944.9,749.8 2927.8,762 2910.7,773.7 2893.6,785.1 2876.5,796.3 2859.4,807.4 2842.3,818.3 2825.2,829.2 2808.1,840 2791,850.8 2785,854.5"/>
<polyline points="3136.7,657.8 3119.6,668.5 3102.5,679.2 3085.4,689.9 3068.3,700.6 3051.2,711.3 3034.1,722 3017,732.7 2999.9,743.5 2982.8,754.2 2965.7,764.9 2948.6,775.6 2931.5,786.3 2914.4,797 2897.3,807.7 2880.2,818.4 2863.1,829.1 2846,839.8 2828.9,850.5 2811.8,861.2 2805.8,864.9"/>
<polyline points="2734,61.7 2741.8,71.4 2762.6,96.8 2783.4,121.6 2804.1,145.9 2824.9,169.6 2845.7,192.8 2866.5,215.5 2887.3,237.7 2908.1,259.4 2928.8,280.7 2949.6,301.6 2970.4,322 2991.2,342.1 3012,361.8 3032.8,381.1 3053.6,400 3074.3,418.6 3095.1,436.9 3115.9,454.9 3136.7,657.8"/>
<polyline points="2711.7,69.9 2724.7,90.6 2745.5,122.8 2766.3,153.7 2787,183.5 2807.8,212.1 2828.6,239.7 2849.4,266.3 2870.2,291.9 2891,316.7 2911.8,340.6 2932.5,363.8 2953.3,386.2 2974.1,407.9 2994.9,428.9 3015.7,449.4 3036.5,469.2 3057.2,488.5 3078,507.3 3098.8,525.5 3119.6,668.5"/>
<polyline points="2692,79.3 2707.6,109.6 2728.4,148.1 2749.2,184.5 2769.9,219 2790.7,251.6 2811.5,282.5 2832.3,311.8 2853.1,339.7 2873.9,366.3 2894.7,391.6 2915.4,415.8 2936.2,439 2957,461.2 2977.8,482.4 2998.6,502.9 3019.4,522.5 3040.1,541.5 3060.9,559.8 3081.7,577.4 3102.5,679.2"/>
<polyline points="2673.4,89.3 2690.5,128.4 2711.3,172.9 2732.1,214.1 2752.8,252.5 2773.6,288.2 2794.4,321.6 2815.2,352.8 2836,382 2856.8,409.5 2877.5,435.4 2898.3,459.8 2919.1,482.9 2939.9,504.8 2960.7,525.6 2981.5,545.4 3002.3,564.3 3023,582.4 3043.8,599.8 3064.6,616.5 3085.4,689.9"/>
<polyline points="2655.2,99.4 2673.4,147 2694.2,197 2715,242.5 2735.7,284.2 2756.5,322.4 2777.3,357.4 2798.1,389.8 2818.9,419.7 2839.7,447.4 2860.4,473.2 2881.2,497.2 2902,519.8 2922.8,540.9 2943.6,560.9 2964.4,579.8 2985.2,597.7 3005.9,614.8 3026.7,631.1 3047.5,646.7 3068.3,700.6"/>
<polyline points="2637.4,109.8 2656.3,165.5 2677.1,220.5 2697.9,269.9 2718.6,314.2 2739.4,354.2 2760.2,390.4 2781,423.3 2801.8,453.3 2822.6,480.8 2843.3,506.1 2864.1,529.5 2884.9,551.1 2905.7,571.4 2926.5,590.3 2947.3,608.1 2968.1,625 2988.8,641 3009.6,656.3 3030.4,670.9 3051.2,711.3"/>
<polyline points="2619.7,120.2 2639.2,183.7 2660,243.5 2680.8,296.2 2701.5,342.8 2722.3,384.1 2743.1,420.9 2763.9,453.9 2784.7,483.6 2805.5,510.5 2826.2,535 2847,557.5 2867.8,578.2 2888.6,597.3 2909.4,615.2 2930.2,632 2951,647.8 2971.7,662.8 2992.5,677.2 3013.3,690.9 3034.1,722"/>
<polyline points="2602.2,130.7 2622.1,201.8 2642.9,266 2663.7,321.6 2684.4,369.9 2705.2,412.1 2726,449.2 2746.8,481.9 2767.6,511.1 2788.4,537.2 2809.2,560.7 2829.9,582.1 2850.7,601.8 2871.5,619.9 2892.3,636.7 2913.1,652.5 2933.9,667.4 2954.6,681.5 2975.4,695.1 2996.2,708 3017,732.7"/>
<polyline points="2584.7,141.2 2605,219.7 2625.8,288 2646.6,346.1 2667.3,395.8 2688.1,438.4 2708.9,475.4 2729.7,507.7 2750.5,536 2771.3,561.2 2792,583.7 2812.8,604.1 2833.6,622.7 2854.4,639.8 2875.2,655.7 2896,670.5 2916.8,684.6 2937.5,698 2958.3,710.8 2979.1,723.2 2999.9,743.5"/>
<polyline points="2567.3,151.8 2587.9,237.4 2608.7,309.5 2629.5,369.8 2650.2,420.4 2671,463.3 2691.8,499.9 2712.6,531.5 2733.4,558.9 2754.2,583.1 2774.9,604.6 2795.7,623.9 2816.5,641.4 2837.3,657.6 2858.1,672.6 2878.9,686.7 2899.7,700.1 2920.4,712.8 2941.2,725.1 2962,737 2982.8,754.2"/>
<polyline points="2550,162.4 2570.8,255 2591.6,330.6 2612.4,392.7 2633.1,444 2653.9,486.8 2674.7,522.9 2695.5,553.6 2716.3,580 2737.1,603.1 2757.8,623.6 2778.6,641.9 2799.4,658.5 2820.2,673.8 2841,688.1 2861.8,701.5 2882.6,714.3 2903.3,726.5 2924.1,738.3 2944.9,749.8 2965.7,764.9"/>
<polyline points="2532.9,174.1 2553.7,272.4 2574.5,351.2 2595.3,414.8 2616,466.6 2636.8,509.1 2657.6,544.4 2678.4,574.2 2699.2,599.6 2720,621.7 2740.8,641.1 2761.5,658.5 2782.3,674.3 2803.1,688.8 2823.9,702.4 2844.7,715.3 2865.5,727.5 2886.2,739.3 2907,750.8 2927.8,762 2948.6,775.6"/>
<polyline points="2515.8,185.8 2536.6,289.7 2557.4,371.5 2578.2,436.3 2598.9,488.2 2619.7,530.3 2640.5,564.8 2661.3,593.6 2682.1,618 2702.9,639 2723.7,657.5 2744.4,674 2765.2,689 2786,702.9 2806.8,715.9 2827.6,728.3 2848.4,740.1 2869.1,751.6 2889.9,762.8 2910.7,773.7 2931.5,786.3"/>
<polyline points="2498.7,197.5 2519.5,306.8 2540.3,391.3 2561.1,457.1 2581.8,509 2602.6,550.5 2623.4,584.1 2644.2,611.8 2665,635.2 2685.8,655.2 2706.5,672.8 2727.3,688.5 2748.1,702.9 2768.9,716.2 2789.7,728.7 2810.5,740.7 2831.3,752.2 2852,763.4 2872.8,774.3 2893.6,785.1 2914.4,797"/>
<polyline points="2481.6,209.1 2502.4,323.7 2523.2,410.7 2544,477.3 2564.7,529 2585.5,569.8 2606.3,602.4 2627.1,629.1 2647.9,651.4 2668.7,670.6 2689.4,687.3 2710.2,702.4 2731,716.1 2751.8,728.9 2772.6,741.1 2793.4,752.7 2814.2,763.9 2834.9,774.9 2855.7,785.7 2876.5,796.3 2897.3,807.7"/>
<polyline points="2464.5,220.8 2485.3,340.6 2506.1,429.8 2526.9,497 2547.6,548.4 2568.4,588.2 2589.2,619.9 2610,645.5 2630.8,666.9 2651.6,685.2 2672.3,701.2 2693.1,715.6 2713.9,728.8 2734.7,741.2 2755.5,753 2776.3,764.4 2797.1,775.4 2817.8,786.2 2838.6,796.8 2859.4,807.4 2880.2,818.4"/>
<polyline points="2447.4,232.5 2468.2,357.2 2489,448.5 2509.8,516.1 2530.5,567 2551.3,606 2572.1,636.6 2592.9,661.2 2613.7,681.7 2634.5,699.1 2655.2,714.5 2676,728.3 2696.8,741.1 2717.6,753.1 2738.4,764.7 2759.2,775.8 2780,786.6 2800.7,797.3 2821.5,807.9 2842.3,818.3 2863.1,829.1"/>
<polyline points="2430.3,244.2 2451.1,373.8 2471.9,466.9 2492.7,534.8 2513.4,585 2534.2,623.1 2555,652.7 2575.8,676.3 2596.6,695.9 2617.4,712.6 2638.1,727.3 2658.9,740.7 2679.7,753.1 2700.5,764.8 2721.3,776.1 2742.1,787 2762.9,797.8 2783.6,808.3 2804.4,818.8 2825.2,829.2 2846,839.8"/>
<polyline points="2413.2,255.9 2434,390.2 2454.8,485 2475.6,552.9 2496.3,602.5 2517.1,639.6 2537.9,668.1 2558.7,690.8 2579.5,709.6 2600.3,725.6 2621,739.8 2641.8,752.7 2662.6,764.8 2683.4,776.3 2704.2,787.3 2725,798.1 2745.8,808.8 2766.5,819.2 2787.3,829.6 2808.1,840 2828.9,850.5"/>
<polyline points="2396.1,267.6 2416.9,406.4 2437.7,502.8 2458.5,570.6 2479.2,619.5 2500,655.5 2520.8,683.1 2541.6,704.9 2562.4,722.9 2583.2,738.3 2603.9,752 2624.7,764.5 2645.5,776.3 2666.3,787.6 2687.1,798.5 2707.9,809.2 2728.7,819.7 2749.4,830.1 2770.2,840.5 2791,850.8 2811.8,861.2"/>
<polyline points="2390.1,271.7 2410.9,412.1 2431.7,508.9 2452.5,576.7 2473.3,625.3 2494,661 2514.8,688.2 2535.6,709.7 2556.4,727.4 2577.2,742.6 2598,756.2 2618.7,768.6 2639.5,780.3 2660.3,791.5 2681.1,802.3 2701.9,813 2722.7,823.5 2743.5,833.9 2764.2,844.2 2785,854.5 2805.8,864.9"/>
</g>
<g stroke="#111" stroke-width="3.4" fill="none" stroke-linecap="butt" stroke-linejoin="miter">
<polyline points="2386.8,264.5 2386.8,662.7 2802.5,867 3170.3,636.8 3170.3,238.6"/>
<polyline points="2386.8,657.5 2397,651.1"/>
<polyline points="2386.8,551.5 2397,545.1"/>
<polyline points="2386.8,445.4 2397,439"/>
<polyline points="2386.8,339.4 2397,333"/>
<polyline points="3168.4,638 3157.6,632.7"/>
<polyline points="3056.5,708 3045.7,702.8"/>
<polyline points="2944.5,778.1 2933.8,772.8"/>
<polyline points="2832.6,848.2 2821.8,842.9"/>
<polyline points="2490.7,713.8 2500.9,707.4"/>
<polyline points="2594.7,764.9 2604.8,758.5"/>
<polyline points="2698.6,815.9 2708.7,809.6"/>
</g>
<polyline points="2386.8,265.5 2754.6,35.3 3170.3,239.6" fill="none" stroke="#45b04a" stroke-width="6" stroke-linejoin="miter" stroke-linecap="butt"/>
<path d="M2616.1,771.2 C2621.2,767.9 2636.2,758.2 2647.0,751.4 C2657.8,744.6 2670.5,737.0 2680.6,730.4 C2690.7,723.8 2698.4,718.1 2707.4,711.6 C2716.4,705.1 2725.3,698.7 2734.3,691.5 C2743.3,684.3 2752.2,676.7 2761.2,668.6 C2770.1,660.5 2779.1,652.3 2788.0,643.1 C2796.9,633.9 2807.5,622.5 2814.9,613.6 C2822.3,604.8 2826.4,598.8 2832.5,590.0 C2838.6,581.2 2845.5,570.4 2851.3,561.1 C2857.1,551.8 2862.3,543.2 2867.4,534.2 C2872.5,525.2 2877.6,516.4 2882.1,507.4 C2886.6,498.4 2890.2,489.4 2894.2,480.5 C2898.2,471.6 2902.7,462.6 2906.3,453.7 C2909.9,444.8 2913.2,435.8 2915.7,426.8 C2918.2,417.9 2919.1,410.6 2921.5,400.0 C2923.9,389.4 2926.9,376.3 2930.1,363.3 C2933.2,350.3 2937.3,335.6 2940.4,321.8 C2943.5,308.0 2946.3,294.8 2948.7,280.3 C2951.1,265.8 2953.3,250.5 2955.0,234.6 C2956.7,218.7 2958.1,200.4 2959.1,184.8 C2960.1,169.2 2960.8,148.4 2961.2,141.1" fill="none" stroke="#e0272c" stroke-width="10.2" stroke-linecap="butt"/>
<circle cx="2888.5" cy="391.6" r="26" fill="#f2d831" stroke="#1a1a1a" stroke-width="1.6"/>
<circle cx="2647" cy="751.4" r="26" fill="#5fc4a0" stroke="#1a1a1a" stroke-width="1.6"/>
<text x="2365.4" y="664.8" font-size="55.5" text-anchor="end">0</text>
<text x="2365.4" y="569.8" font-size="55.5" text-anchor="end">0.5</text>
<text x="2365.4" y="461.4" font-size="55.5" text-anchor="end">1.0</text>
<text x="2365.4" y="355.8" font-size="55.5" text-anchor="end">1.5</text>
<text x="2354.5" y="708" font-size="55.5" text-anchor="middle">0</text>
<text x="2426.1" y="753.1" font-size="55.5" text-anchor="middle">0.25</text>
<text x="2521.6" y="803.5" font-size="55.5" text-anchor="middle">0.50</text>
<text x="2629.7" y="854.5" font-size="55.5" text-anchor="middle">0.75</text>
<text x="2737.1" y="906.8" font-size="55.5" text-anchor="middle">1.00</text>
<text x="2861.3" y="886.6" font-size="55.5" text-anchor="middle">6</text>
<text x="2972.1" y="817.3" font-size="55.5" text-anchor="middle">4</text>
<text x="3085.3" y="743.1" font-size="55.5" text-anchor="middle">2</text>
<text x="3197.1" y="668.5" font-size="55.5" text-anchor="middle">0</text>
<text x="3122.2" y="283.9" font-size="55" text-anchor="middle">(c)</text>
<g transform="translate(2379.4 831.6) rotate(25.2)"><text x="0" y="0" font-size="57">孔隙率 <tspan font-style="italic" font-size="51">Ø</tspan></text></g>
<g transform="translate(2756.5 1042.1) rotate(-32.5)"><text x="0" y="0" font-size="55.7">孔隙的平均线性尺寸 <tspan font-size="55" dx="3" dy="-9">log[<tspan font-style="italic">l</tspan>/<tspan font-style="italic">l</tspan><tspan font-size="34.1" dy="8.8">0</tspan><tspan dy="-8.8">]</tspan></tspan></text><line x1="599.9" y1="-61.3" x2="628.9" y2="-61.3" stroke="#141414" stroke-width="2.2"/><line x1="637.9" y1="-61.3" x2="668" y2="-61.3" stroke="#141414" stroke-width="2.2"/></g>
<g transform="translate(2276 666.5) rotate(-90)"><text x="0" y="0" font-size="54.8">极限强度 <tspan font-size="56" dy="-3"><tspan font-style="italic">σ</tspan><tspan font-style="italic" font-size="34" dy="9">f</tspan><tspan dy="-9">/GPa</tspan></tspan></text></g>
</g>
</svg></body></html>
